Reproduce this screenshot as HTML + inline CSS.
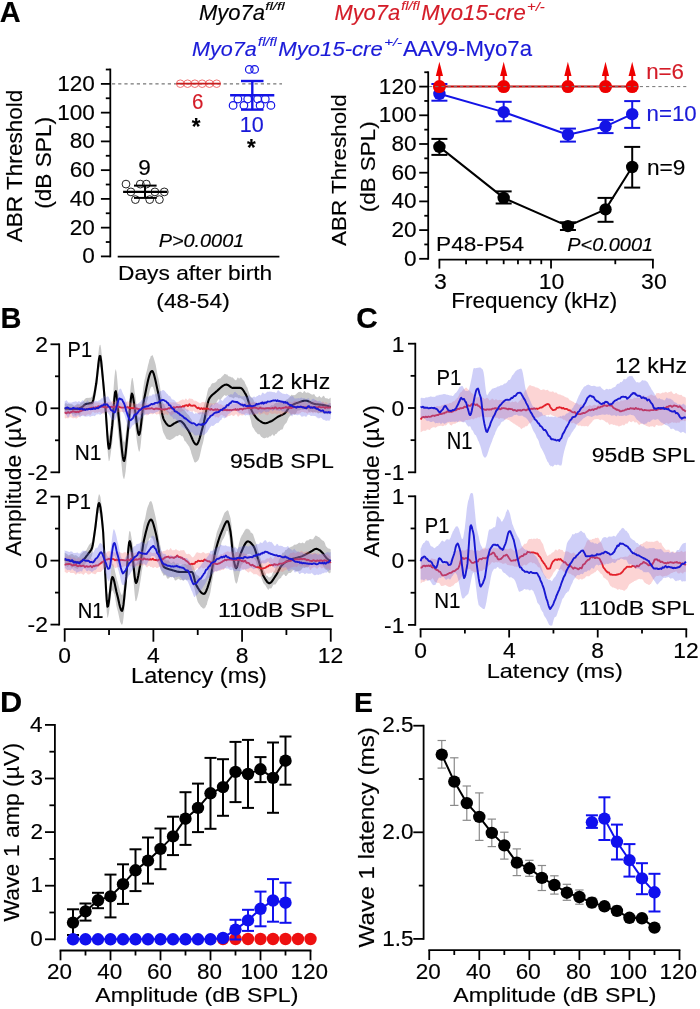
<!DOCTYPE html>
<html><head><meta charset="utf-8"><style>
html,body{margin:0;padding:0;background:#fff;}
svg{display:block;}
text{font-family:"Liberation Sans",Arial,sans-serif;stroke-width:0.15px;}
</style></head><body>
<svg width="700" height="1009" viewBox="0 0 700 1009">
<rect width="700" height="1009" fill="#fff"/>
<text transform="translate(-0.15,22) scale(1.0112,1)" font-size="28.634" fill="#000" stroke="#000" font-weight="bold" stroke-width="0.5">A</text>
<text transform="translate(199.04,20) scale(1.0085,1)" font-size="21.802" fill="#000" stroke="#000" font-style="italic">Myo7a</text>
<text transform="translate(265.18,10.3) scale(1.2985,1)" font-size="11.740" fill="#000" stroke="#000" font-style="italic">fl/fl</text>
<text transform="translate(334.44,19.7) scale(1.0106,1)" font-size="21.657" fill="#d41c28" stroke="#d41c28" font-style="italic">Myo7a</text>
<text transform="translate(401.21,10.3) scale(1.1133,1)" font-size="12.983" fill="#d41c28" stroke="#d41c28" font-style="italic">fl/fl</text>
<text transform="translate(421.34,20) scale(0.9879,1)" font-size="22.384" fill="#d41c28" stroke="#d41c28" font-style="italic">Myo15-cre</text>
<text transform="translate(527.05,11.38) scale(1.2071,1)" font-size="12.262" fill="#d41c28" stroke="#d41c28" font-style="italic">+/-</text>
<text transform="translate(191.95,56) scale(1.0605,1)" font-size="20.349" fill="#1a1ad8" stroke="#1a1ad8" font-style="italic">Myo7a</text>
<text transform="translate(258.11,46.3) scale(1.1957,1)" font-size="12.155" fill="#1a1ad8" stroke="#1a1ad8" font-style="italic">fl/fl</text>
<text transform="translate(278.34,56) scale(1.0867,1)" font-size="20.349" fill="#1a1ad8" stroke="#1a1ad8" font-style="italic">Myo15-cre</text>
<text transform="translate(384.14,45.78) scale(1.2787,1)" font-size="11.717" fill="#1a1ad8" stroke="#1a1ad8" font-style="italic">+/-</text>
<text transform="translate(403.06,56.4) scale(1.0321,1)" font-size="21.490" fill="#1a1ad8" stroke="#1a1ad8">AAV9-Myo7a</text>
<line x1="110.3" y1="68.62" x2="110.3" y2="257.3" stroke="#000" stroke-width="1.8"/>
<line x1="100.9" y1="256.4" x2="110.3" y2="256.4" stroke="#000" stroke-width="1.8"/>
<line x1="105.8" y1="242.02" x2="110.3" y2="242.02" stroke="#000" stroke-width="1.8"/>
<line x1="100.9" y1="227.65" x2="110.3" y2="227.65" stroke="#000" stroke-width="1.8"/>
<line x1="105.8" y1="213.27" x2="110.3" y2="213.27" stroke="#000" stroke-width="1.8"/>
<line x1="100.9" y1="198.9" x2="110.3" y2="198.9" stroke="#000" stroke-width="1.8"/>
<line x1="105.8" y1="184.52" x2="110.3" y2="184.52" stroke="#000" stroke-width="1.8"/>
<line x1="100.9" y1="170.15" x2="110.3" y2="170.15" stroke="#000" stroke-width="1.8"/>
<line x1="105.8" y1="155.77" x2="110.3" y2="155.77" stroke="#000" stroke-width="1.8"/>
<line x1="100.9" y1="141.4" x2="110.3" y2="141.4" stroke="#000" stroke-width="1.8"/>
<line x1="105.8" y1="127.02" x2="110.3" y2="127.02" stroke="#000" stroke-width="1.8"/>
<line x1="100.9" y1="112.65" x2="110.3" y2="112.65" stroke="#000" stroke-width="1.8"/>
<line x1="105.8" y1="98.27" x2="110.3" y2="98.27" stroke="#000" stroke-width="1.8"/>
<line x1="100.9" y1="83.9" x2="110.3" y2="83.9" stroke="#000" stroke-width="1.8"/>
<line x1="105.8" y1="69.52" x2="110.3" y2="69.52" stroke="#000" stroke-width="1.8"/>
<text transform="translate(82.29,263.3) scale(1.0000,1)" font-size="22.600" fill="#000" stroke="#000">0</text>
<text transform="translate(69.73,234.55) scale(1.0000,1)" font-size="22.600" fill="#000" stroke="#000">20</text>
<text transform="translate(69.73,205.8) scale(1.0000,1)" font-size="22.600" fill="#000" stroke="#000">40</text>
<text transform="translate(69.73,177.05) scale(1.0000,1)" font-size="22.600" fill="#000" stroke="#000">60</text>
<text transform="translate(69.73,148.3) scale(1.0000,1)" font-size="22.600" fill="#000" stroke="#000">80</text>
<text transform="translate(57.16,119.55) scale(1.0000,1)" font-size="22.600" fill="#000" stroke="#000">100</text>
<text transform="translate(57.16,90.8) scale(1.0000,1)" font-size="22.600" fill="#000" stroke="#000">120</text>
<line x1="117.7" y1="256.6" x2="279.4" y2="256.6" stroke="#000" stroke-width="1.8"/>
<line x1="112" y1="83.9" x2="282" y2="83.9" stroke="#555" stroke-width="1" stroke-dasharray="3.2 3"/>
<text transform="translate(22.3,242.25) rotate(-90) scale(1.0357,1)" font-size="21.802" fill="#000" stroke="#000">ABR Threshold</text>
<text transform="translate(50.6,208.8) rotate(-90) scale(1.0529,1)" font-size="21.512" fill="#000" stroke="#000">(dB SPL)</text>
<circle cx="126" cy="184.1" r="3.9" fill="none" stroke="#222" stroke-width="1.0"/>
<circle cx="140.3" cy="184.1" r="3.9" fill="none" stroke="#222" stroke-width="1.0"/>
<circle cx="146.3" cy="184.1" r="3.9" fill="none" stroke="#222" stroke-width="1.0"/>
<circle cx="130.9" cy="191.9" r="3.9" fill="none" stroke="#222" stroke-width="1.0"/>
<circle cx="154.9" cy="191.9" r="3.9" fill="none" stroke="#222" stroke-width="1.0"/>
<circle cx="164.3" cy="191.9" r="3.9" fill="none" stroke="#222" stroke-width="1.0"/>
<circle cx="135.4" cy="199.6" r="3.9" fill="none" stroke="#222" stroke-width="1.0"/>
<circle cx="149.7" cy="199.6" r="3.9" fill="none" stroke="#222" stroke-width="1.0"/>
<circle cx="159.4" cy="199.6" r="3.9" fill="none" stroke="#222" stroke-width="1.0"/>
<line x1="123.1" y1="191.9" x2="167.3" y2="191.9" stroke="#000" stroke-width="2.2"/>
<line x1="134" y1="185.6" x2="156.6" y2="185.6" stroke="#000" stroke-width="2"/>
<line x1="134" y1="197.9" x2="156.6" y2="197.9" stroke="#000" stroke-width="2"/>
<line x1="145" y1="185.6" x2="145" y2="197.9" stroke="#000" stroke-width="2"/>
<text transform="translate(138.36,174.59) scale(1.0485,1)" font-size="21.469" fill="#000" stroke="#000">9</text>
<circle cx="180.3" cy="83.7" r="3.8" fill="none" stroke="#f07070" stroke-width="1.0"/>
<circle cx="187.58" cy="83.7" r="3.8" fill="none" stroke="#f07070" stroke-width="1.0"/>
<circle cx="194.86" cy="83.7" r="3.8" fill="none" stroke="#f07070" stroke-width="1.0"/>
<circle cx="202.14" cy="83.7" r="3.8" fill="none" stroke="#f07070" stroke-width="1.0"/>
<circle cx="209.42" cy="83.7" r="3.8" fill="none" stroke="#f07070" stroke-width="1.0"/>
<circle cx="216.7" cy="83.7" r="3.8" fill="none" stroke="#f07070" stroke-width="1.0"/>
<line x1="176.4" y1="83.7" x2="220.6" y2="83.7" stroke="#c81e1e" stroke-width="1.8"/>
<text transform="translate(192.07,108.68) scale(0.9393,1)" font-size="21.893" fill="#d41c28" stroke="#d41c28">6</text>
<text transform="translate(191.71,135.08) scale(0.9467,1)" font-size="23.656" fill="#000" stroke="#000" font-weight="bold" stroke-width="0.5">*</text>
<circle cx="249.3" cy="69.4" r="3.8" fill="none" stroke="#1414e6" stroke-width="1.2"/>
<circle cx="254.6" cy="69.4" r="3.8" fill="none" stroke="#1414e6" stroke-width="1.2"/>
<circle cx="237.9" cy="99" r="3.8" fill="none" stroke="#1414e6" stroke-width="1.2"/>
<circle cx="247.7" cy="99" r="3.8" fill="none" stroke="#1414e6" stroke-width="1.2"/>
<circle cx="257.6" cy="99" r="3.8" fill="none" stroke="#1414e6" stroke-width="1.2"/>
<circle cx="265.3" cy="99" r="3.8" fill="none" stroke="#1414e6" stroke-width="1.2"/>
<circle cx="233.1" cy="105.4" r="3.8" fill="none" stroke="#1414e6" stroke-width="1.2"/>
<circle cx="243.9" cy="105.4" r="3.8" fill="none" stroke="#1414e6" stroke-width="1.2"/>
<circle cx="260.1" cy="105.4" r="3.8" fill="none" stroke="#1414e6" stroke-width="1.2"/>
<circle cx="270.9" cy="105.4" r="3.8" fill="none" stroke="#1414e6" stroke-width="1.2"/>
<line x1="230.1" y1="95.3" x2="274.3" y2="95.3" stroke="#1414e6" stroke-width="2.4"/>
<line x1="241" y1="81" x2="263.5" y2="81" stroke="#1414e6" stroke-width="2.4"/>
<line x1="241" y1="109.6" x2="263.5" y2="109.6" stroke="#1414e6" stroke-width="2.4"/>
<line x1="252.3" y1="81" x2="252.3" y2="109.6" stroke="#1414e6" stroke-width="2.4"/>
<text transform="translate(239.76,131.58) scale(0.9840,1)" font-size="21.893" fill="#1a1ad8" stroke="#1a1ad8">10</text>
<text transform="translate(247.01,155.98) scale(0.9467,1)" font-size="23.656" fill="#000" stroke="#000" font-weight="bold" stroke-width="0.5">*</text>
<text transform="translate(158.7,247) scale(1.1195,1)" font-size="17.733" fill="#000" stroke="#000" font-style="italic">P&gt;0.0001</text>
<text transform="translate(118.03,280) scale(1.0868,1)" font-size="20.930" fill="#000" stroke="#000">Days after birth</text>
<text transform="translate(156.29,308.2) scale(1.1128,1)" font-size="20.494" fill="#000" stroke="#000">(48-54)</text>
<line x1="428.2" y1="71.35" x2="428.2" y2="259.7" stroke="#000" stroke-width="1.8"/>
<line x1="419.2" y1="258.8" x2="428.2" y2="258.8" stroke="#000" stroke-width="1.8"/>
<line x1="424.3" y1="244.45" x2="428.2" y2="244.45" stroke="#000" stroke-width="1.8"/>
<line x1="419.2" y1="230.1" x2="428.2" y2="230.1" stroke="#000" stroke-width="1.8"/>
<line x1="424.3" y1="215.75" x2="428.2" y2="215.75" stroke="#000" stroke-width="1.8"/>
<line x1="419.2" y1="201.4" x2="428.2" y2="201.4" stroke="#000" stroke-width="1.8"/>
<line x1="424.3" y1="187.05" x2="428.2" y2="187.05" stroke="#000" stroke-width="1.8"/>
<line x1="419.2" y1="172.7" x2="428.2" y2="172.7" stroke="#000" stroke-width="1.8"/>
<line x1="424.3" y1="158.35" x2="428.2" y2="158.35" stroke="#000" stroke-width="1.8"/>
<line x1="419.2" y1="144" x2="428.2" y2="144" stroke="#000" stroke-width="1.8"/>
<line x1="424.3" y1="129.65" x2="428.2" y2="129.65" stroke="#000" stroke-width="1.8"/>
<line x1="419.2" y1="115.3" x2="428.2" y2="115.3" stroke="#000" stroke-width="1.8"/>
<line x1="424.3" y1="100.95" x2="428.2" y2="100.95" stroke="#000" stroke-width="1.8"/>
<line x1="419.2" y1="86.6" x2="428.2" y2="86.6" stroke="#000" stroke-width="1.8"/>
<line x1="424.3" y1="72.25" x2="428.2" y2="72.25" stroke="#000" stroke-width="1.8"/>
<text transform="translate(403.99,265.7) scale(1.0000,1)" font-size="22.600" fill="#000" stroke="#000">0</text>
<text transform="translate(391.43,237) scale(1.0000,1)" font-size="22.600" fill="#000" stroke="#000">20</text>
<text transform="translate(391.43,208.3) scale(1.0000,1)" font-size="22.600" fill="#000" stroke="#000">40</text>
<text transform="translate(391.43,179.6) scale(1.0000,1)" font-size="22.600" fill="#000" stroke="#000">60</text>
<text transform="translate(391.43,150.9) scale(1.0000,1)" font-size="22.600" fill="#000" stroke="#000">80</text>
<text transform="translate(378.86,122.2) scale(1.0000,1)" font-size="22.600" fill="#000" stroke="#000">100</text>
<text transform="translate(378.86,93.5) scale(1.0000,1)" font-size="22.600" fill="#000" stroke="#000">120</text>
<text transform="translate(346,246.04) rotate(-90) scale(1.0731,1)" font-size="20.930" fill="#000" stroke="#000">ABR Threshold</text>
<text transform="translate(374.6,212.29) rotate(-90) scale(1.0952,1)" font-size="20.494" fill="#000" stroke="#000">(dB SPL)</text>
<line x1="438.6" y1="259.7" x2="653.8" y2="259.7" stroke="#000" stroke-width="1.8"/>
<line x1="439.4" y1="259.7" x2="439.4" y2="268.6" stroke="#000" stroke-width="1.8"/>
<line x1="466.07" y1="259.7" x2="466.07" y2="264.2" stroke="#000" stroke-width="1.8"/>
<line x1="486.76" y1="259.7" x2="486.76" y2="264.2" stroke="#000" stroke-width="1.8"/>
<line x1="503.67" y1="259.7" x2="503.67" y2="264.2" stroke="#000" stroke-width="1.8"/>
<line x1="517.96" y1="259.7" x2="517.96" y2="264.2" stroke="#000" stroke-width="1.8"/>
<line x1="530.34" y1="259.7" x2="530.34" y2="264.2" stroke="#000" stroke-width="1.8"/>
<line x1="541.27" y1="259.7" x2="541.27" y2="264.2" stroke="#000" stroke-width="1.8"/>
<line x1="551.03" y1="259.7" x2="551.03" y2="268.6" stroke="#000" stroke-width="1.8"/>
<line x1="615.3" y1="259.7" x2="615.3" y2="264.2" stroke="#000" stroke-width="1.8"/>
<line x1="652.9" y1="259.7" x2="652.9" y2="268.6" stroke="#000" stroke-width="1.8"/>
<text transform="translate(434.05,288.7) scale(1.0400,1)" font-size="22.200" fill="#000" stroke="#000">3</text>
<text transform="translate(538.76,288.7) scale(1.0400,1)" font-size="22.200" fill="#000" stroke="#000">10</text>
<text transform="translate(641.06,288.7) scale(1.0400,1)" font-size="22.200" fill="#000" stroke="#000">30</text>
<text transform="translate(451.16,308.4) scale(1.0598,1)" font-size="21.221" fill="#000" stroke="#000">Frequency (kHz)</text>
<path d="M439.4,146.9 L503.7,197.9 L567.9,226.1 L605.5,209.4 L632.2,167.0" fill="none" stroke="#000" stroke-width="2" stroke-linejoin="round"/>
<line x1="439.4" y1="138.9" x2="439.4" y2="154.9" stroke="#000" stroke-width="2"/>
<line x1="431.4" y1="138.9" x2="447.4" y2="138.9" stroke="#000" stroke-width="2"/>
<line x1="431.4" y1="154.9" x2="447.4" y2="154.9" stroke="#000" stroke-width="2"/>
<circle cx="439.4" cy="146.9" r="6.2" fill="#000" stroke="none" stroke-width="1"/>
<line x1="503.67" y1="191.4" x2="503.67" y2="203.5" stroke="#000" stroke-width="2"/>
<line x1="495.67" y1="191.4" x2="511.67" y2="191.4" stroke="#000" stroke-width="2"/>
<line x1="495.67" y1="203.5" x2="511.67" y2="203.5" stroke="#000" stroke-width="2"/>
<circle cx="503.67" cy="197.9" r="6.2" fill="#000" stroke="none" stroke-width="1"/>
<line x1="567.94" y1="222.3" x2="567.94" y2="230" stroke="#000" stroke-width="2"/>
<line x1="559.94" y1="222.3" x2="575.94" y2="222.3" stroke="#000" stroke-width="2"/>
<line x1="559.94" y1="230" x2="575.94" y2="230" stroke="#000" stroke-width="2"/>
<circle cx="567.94" cy="226.1" r="6.2" fill="#000" stroke="none" stroke-width="1"/>
<line x1="605.54" y1="197.9" x2="605.54" y2="221.8" stroke="#000" stroke-width="2"/>
<line x1="597.54" y1="197.9" x2="613.54" y2="197.9" stroke="#000" stroke-width="2"/>
<line x1="597.54" y1="221.8" x2="613.54" y2="221.8" stroke="#000" stroke-width="2"/>
<circle cx="605.54" cy="209.4" r="6.2" fill="#000" stroke="none" stroke-width="1"/>
<line x1="632.21" y1="146.9" x2="632.21" y2="187.6" stroke="#000" stroke-width="2"/>
<line x1="624.21" y1="146.9" x2="640.21" y2="146.9" stroke="#000" stroke-width="2"/>
<line x1="624.21" y1="187.6" x2="640.21" y2="187.6" stroke="#000" stroke-width="2"/>
<circle cx="632.21" cy="167" r="6.2" fill="#000" stroke="none" stroke-width="1"/>
<path d="M439.4,93.8 L503.7,112.1 L567.9,134.7 L605.5,126.3 L632.2,114.2" fill="none" stroke="#1414e6" stroke-width="2" stroke-linejoin="round"/>
<line x1="439.4" y1="84" x2="439.4" y2="100.7" stroke="#1414e6" stroke-width="2"/>
<line x1="431.4" y1="84" x2="447.4" y2="84" stroke="#1414e6" stroke-width="2"/>
<line x1="431.4" y1="100.7" x2="447.4" y2="100.7" stroke="#1414e6" stroke-width="2"/>
<circle cx="439.4" cy="93.8" r="6.2" fill="#1414e6" stroke="none" stroke-width="1"/>
<line x1="503.67" y1="101.8" x2="503.67" y2="121.3" stroke="#1414e6" stroke-width="2"/>
<line x1="495.67" y1="101.8" x2="511.67" y2="101.8" stroke="#1414e6" stroke-width="2"/>
<line x1="495.67" y1="121.3" x2="511.67" y2="121.3" stroke="#1414e6" stroke-width="2"/>
<circle cx="503.67" cy="112.1" r="6.2" fill="#1414e6" stroke="none" stroke-width="1"/>
<line x1="567.94" y1="128.6" x2="567.94" y2="141.6" stroke="#1414e6" stroke-width="2"/>
<line x1="559.94" y1="128.6" x2="575.94" y2="128.6" stroke="#1414e6" stroke-width="2"/>
<line x1="559.94" y1="141.6" x2="575.94" y2="141.6" stroke="#1414e6" stroke-width="2"/>
<circle cx="567.94" cy="134.7" r="6.2" fill="#1414e6" stroke="none" stroke-width="1"/>
<line x1="605.54" y1="119.9" x2="605.54" y2="133.1" stroke="#1414e6" stroke-width="2"/>
<line x1="597.54" y1="119.9" x2="613.54" y2="119.9" stroke="#1414e6" stroke-width="2"/>
<line x1="597.54" y1="133.1" x2="613.54" y2="133.1" stroke="#1414e6" stroke-width="2"/>
<circle cx="605.54" cy="126.3" r="6.2" fill="#1414e6" stroke="none" stroke-width="1"/>
<line x1="632.21" y1="101.1" x2="632.21" y2="127.9" stroke="#1414e6" stroke-width="2"/>
<line x1="624.21" y1="101.1" x2="640.21" y2="101.1" stroke="#1414e6" stroke-width="2"/>
<line x1="624.21" y1="127.9" x2="640.21" y2="127.9" stroke="#1414e6" stroke-width="2"/>
<circle cx="632.21" cy="114.2" r="6.2" fill="#1414e6" stroke="none" stroke-width="1"/>
<line x1="439.4" y1="86.6" x2="632.21" y2="86.6" stroke="#c80000" stroke-width="2"/>
<circle cx="439.4" cy="86.6" r="6.5" fill="#ee0000" stroke="none" stroke-width="1"/>
<line x1="439.4" y1="80.6" x2="439.4" y2="74.5" stroke="#ee0000" stroke-width="2"/>
<path d="M439.4,61.7 L435.8,75.9 L443.0,75.9Z" fill="#ee0000" stroke="none"/>
<circle cx="503.67" cy="86.6" r="6.5" fill="#ee0000" stroke="none" stroke-width="1"/>
<line x1="503.67" y1="80.6" x2="503.67" y2="74.5" stroke="#ee0000" stroke-width="2"/>
<path d="M503.7,61.7 L500.1,75.9 L507.3,75.9Z" fill="#ee0000" stroke="none"/>
<circle cx="567.94" cy="86.6" r="6.5" fill="#ee0000" stroke="none" stroke-width="1"/>
<line x1="567.94" y1="80.6" x2="567.94" y2="74.5" stroke="#ee0000" stroke-width="2"/>
<path d="M567.9,61.7 L564.3,75.9 L571.5,75.9Z" fill="#ee0000" stroke="none"/>
<circle cx="605.54" cy="86.6" r="6.5" fill="#ee0000" stroke="none" stroke-width="1"/>
<line x1="605.54" y1="80.6" x2="605.54" y2="74.5" stroke="#ee0000" stroke-width="2"/>
<path d="M605.5,61.7 L601.9,75.9 L609.1,75.9Z" fill="#ee0000" stroke="none"/>
<circle cx="632.21" cy="86.6" r="6.5" fill="#ee0000" stroke="none" stroke-width="1"/>
<line x1="632.21" y1="80.6" x2="632.21" y2="74.5" stroke="#ee0000" stroke-width="2"/>
<path d="M632.2,61.7 L628.6,75.9 L635.8,75.9Z" fill="#ee0000" stroke="none"/>
<line x1="429" y1="86.6" x2="686.3" y2="86.6" stroke="#777" stroke-width="1" stroke-dasharray="3.2 3"/>
<text transform="translate(646.13,79.48) scale(0.9939,1)" font-size="22.458" fill="#d41c28" stroke="#d41c28">n=6</text>
<text transform="translate(646.53,120.79) scale(1.0504,1)" font-size="21.186" fill="#1a1ad8" stroke="#1a1ad8">n=10</text>
<text transform="translate(646.9,174.68) scale(1.0105,1)" font-size="22.458" fill="#000" stroke="#000">n=9</text>
<text transform="translate(436.04,251.3) scale(1.0902,1)" font-size="20.785" fill="#000" stroke="#000">P48-P54</text>
<text transform="translate(567.3,251.3) scale(1.1131,1)" font-size="17.878" fill="#000" stroke="#000" font-style="italic">P&lt;0.0001</text>
<text transform="translate(0.38,327.7) scale(0.9834,1)" font-size="29.506" fill="#000" stroke="#000" font-weight="bold" stroke-width="0.5">B</text>
<line x1="59.2" y1="343.4" x2="59.2" y2="473.2" stroke="#000" stroke-width="1.8"/>
<line x1="50.5" y1="472.3" x2="59.2" y2="472.3" stroke="#000" stroke-width="1.8"/>
<line x1="55" y1="440.3" x2="59.2" y2="440.3" stroke="#000" stroke-width="1.8"/>
<line x1="50.5" y1="408.3" x2="59.2" y2="408.3" stroke="#000" stroke-width="1.8"/>
<line x1="55" y1="376.3" x2="59.2" y2="376.3" stroke="#000" stroke-width="1.8"/>
<line x1="50.5" y1="344.3" x2="59.2" y2="344.3" stroke="#000" stroke-width="1.8"/>
<line x1="59.2" y1="495.7" x2="59.2" y2="625.5" stroke="#000" stroke-width="1.8"/>
<line x1="50.5" y1="624.6" x2="59.2" y2="624.6" stroke="#000" stroke-width="1.8"/>
<line x1="55" y1="592.6" x2="59.2" y2="592.6" stroke="#000" stroke-width="1.8"/>
<line x1="50.5" y1="560.6" x2="59.2" y2="560.6" stroke="#000" stroke-width="1.8"/>
<line x1="55" y1="528.6" x2="59.2" y2="528.6" stroke="#000" stroke-width="1.8"/>
<line x1="50.5" y1="496.6" x2="59.2" y2="496.6" stroke="#000" stroke-width="1.8"/>
<line x1="63.8" y1="629.1" x2="331.64" y2="629.1" stroke="#000" stroke-width="1.8"/>
<line x1="64.7" y1="629.1" x2="64.7" y2="641.7" stroke="#000" stroke-width="1.8"/>
<line x1="109.04" y1="629.1" x2="109.04" y2="635" stroke="#000" stroke-width="1.8"/>
<line x1="153.38" y1="629.1" x2="153.38" y2="641.7" stroke="#000" stroke-width="1.8"/>
<line x1="197.72" y1="629.1" x2="197.72" y2="635" stroke="#000" stroke-width="1.8"/>
<line x1="242.06" y1="629.1" x2="242.06" y2="641.7" stroke="#000" stroke-width="1.8"/>
<line x1="286.4" y1="629.1" x2="286.4" y2="635" stroke="#000" stroke-width="1.8"/>
<line x1="330.74" y1="629.1" x2="330.74" y2="641.7" stroke="#000" stroke-width="1.8"/>
<text transform="translate(35.24,352.1) scale(1.0200,1)" font-size="22.400" fill="#000" stroke="#000">2</text>
<text transform="translate(34.96,416.1) scale(1.0200,1)" font-size="22.400" fill="#000" stroke="#000">0</text>
<text transform="translate(27.61,480.1) scale(1.0200,1)" font-size="22.400" fill="#000" stroke="#000">-2</text>
<text transform="translate(35.24,504.4) scale(1.0200,1)" font-size="22.400" fill="#000" stroke="#000">2</text>
<text transform="translate(34.96,568.4) scale(1.0200,1)" font-size="22.400" fill="#000" stroke="#000">0</text>
<text transform="translate(27.61,632.4) scale(1.0200,1)" font-size="22.400" fill="#000" stroke="#000">-2</text>
<text transform="translate(58.35,663.14) scale(1.0200,1)" font-size="22.400" fill="#000" stroke="#000">0</text>
<text transform="translate(147.1,662.91) scale(1.0200,1)" font-size="22.400" fill="#000" stroke="#000">4</text>
<text transform="translate(235.71,663.14) scale(1.0200,1)" font-size="22.400" fill="#000" stroke="#000">8</text>
<text transform="translate(317.74,663.14) scale(1.0200,1)" font-size="22.400" fill="#000" stroke="#000">12</text>
<text transform="translate(131.07,682.6) scale(1.0775,1)" font-size="21.802" fill="#000" stroke="#000">Latency (ms)</text>
<text transform="translate(20.6,556.15) rotate(-90) scale(1.0592,1)" font-size="21.512" fill="#000" stroke="#000">Amplitude (µV)</text>
<path d="M64.7,403.9 L65.4,403.3 L66.1,403.2 L66.8,403.5 L67.5,403.9 L68.2,403.7 L68.9,403.4 L69.6,404.0 L70.3,404.2 L71.0,404.0 L71.7,404.2 L72.4,404.3 L73.1,405.4 L73.8,405.3 L74.5,405.9 L75.2,405.2 L75.9,405.1 L76.6,404.2 L77.3,404.0 L78.0,403.3 L78.7,404.2 L79.4,404.2 L80.1,403.8 L80.8,402.4 L81.5,402.4 L82.2,402.2 L82.9,402.1 L83.6,401.1 L84.3,399.8 L85.0,399.1 L85.7,398.3 L86.4,398.1 L87.1,397.9 L87.8,397.8 L88.5,397.9 L89.2,397.6 L89.9,397.9 L90.6,397.7 L91.3,396.9 L92.0,396.5 L92.7,394.8 L93.4,392.5 L94.1,388.3 L94.8,383.4 L95.5,378.5 L96.2,374.1 L96.9,368.9 L97.6,361.8 L98.3,354.2 L99.0,348.1 L99.7,344.9 L100.4,344.7 L101.1,348.5 L101.8,355.3 L102.5,362.9 L103.2,370.7 L103.9,377.9 L104.6,386.7 L105.3,395.1 L106.0,403.7 L106.7,413.0 L107.4,422.6 L108.1,431.3 L108.8,436.2 L109.5,435.3 L110.2,430.8 L110.9,423.8 L111.6,416.3 L112.3,407.4 L113.0,397.2 L113.7,386.5 L114.4,377.5 L115.1,371.2 L115.8,368.9 L116.5,372.3 L117.2,378.8 L117.9,387.3 L118.6,395.1 L119.3,401.8 L120.0,409.9 L120.7,417.9 L121.4,425.9 L122.1,432.3 L122.8,437.8 L123.5,441.3 L124.2,442.4 L124.9,440.5 L125.6,435.3 L126.3,429.3 L127.0,421.9 L127.7,416.2 L128.4,409.9 L129.1,403.1 L129.8,395.1 L130.5,387.7 L131.2,381.6 L131.9,378.1 L132.6,378.1 L133.3,381.6 L134.0,386.7 L134.7,392.3 L135.4,396.1 L136.1,401.2 L136.8,407.0 L137.5,412.1 L138.2,415.8 L138.9,417.9 L139.6,417.2 L140.3,413.8 L141.0,408.5 L141.7,402.1 L142.4,395.9 L143.1,389.0 L143.8,384.2 L144.5,380.3 L145.2,377.5 L145.9,374.1 L146.6,371.6 L147.3,368.5 L148.0,365.3 L148.7,362.7 L149.4,359.5 L150.1,358.5 L150.8,356.0 L151.5,355.9 L152.2,354.8 L152.9,355.9 L153.6,357.8 L154.3,360.0 L155.0,362.3 L155.7,364.8 L156.4,368.8 L157.1,372.7 L157.8,376.2 L158.5,378.7 L159.2,382.4 L159.9,385.9 L160.6,390.7 L161.3,394.7 L162.0,398.8 L162.7,401.2 L163.4,403.5 L164.1,404.3 L164.8,406.0 L165.5,407.4 L166.2,408.9 L166.9,410.1 L167.6,410.6 L168.3,411.2 L169.0,411.5 L169.7,412.2 L170.4,412.3 L171.1,411.3 L171.8,410.7 L172.5,410.3 L173.2,410.4 L173.9,409.1 L174.6,408.9 L175.3,408.8 L176.0,409.3 L176.7,409.1 L177.4,408.4 L178.1,407.8 L178.8,406.9 L179.5,407.3 L180.2,407.1 L180.9,407.5 L181.6,407.6 L182.3,408.7 L183.0,409.6 L183.7,409.7 L184.4,410.2 L185.1,410.5 L185.8,411.9 L186.5,412.7 L187.2,413.8 L187.9,414.4 L188.6,415.1 L189.3,416.0 L190.0,417.5 L190.7,418.3 L191.4,419.3 L192.1,420.6 L192.8,422.7 L193.5,424.7 L194.2,425.6 L194.9,425.8 L195.6,425.8 L196.3,426.1 L197.0,425.9 L197.7,424.6 L198.4,422.9 L199.1,421.6 L199.8,419.3 L200.5,417.9 L201.2,415.1 L201.9,413.3 L202.6,410.3 L203.3,407.9 L204.0,404.9 L204.7,402.8 L205.4,401.1 L206.1,398.1 L206.8,394.9 L207.5,391.4 L208.2,389.0 L208.9,387.4 L209.6,387.2 L210.3,386.6 L211.0,385.1 L211.7,383.7 L212.4,383.3 L213.1,383.1 L213.8,383.2 L214.5,382.8 L215.2,382.4 L215.9,382.0 L216.6,381.2 L217.3,380.3 L218.0,378.9 L218.7,378.9 L219.4,378.6 L220.1,378.6 L220.8,378.0 L221.5,377.1 L222.2,376.6 L222.9,375.6 L223.6,375.2 L224.3,373.8 L225.0,374.3 L225.7,373.9 L226.4,374.8 L227.1,374.3 L227.8,375.6 L228.5,376.2 L229.2,376.4 L229.9,376.4 L230.6,376.7 L231.3,377.5 L232.0,377.3 L232.7,377.6 L233.4,378.3 L234.1,379.1 L234.8,379.8 L235.5,380.3 L236.2,380.2 L236.9,378.9 L237.6,377.6 L238.3,377.8 L239.0,378.7 L239.7,378.3 L240.4,377.8 L241.1,377.5 L241.8,378.5 L242.5,379.3 L243.2,379.9 L243.9,380.7 L244.6,381.8 L245.3,383.7 L246.0,385.0 L246.7,386.8 L247.4,387.6 L248.1,390.2 L248.8,391.9 L249.5,394.2 L250.2,395.9 L250.9,396.7 L251.6,397.4 L252.3,398.0 L253.0,399.1 L253.7,400.3 L254.4,401.9 L255.1,402.7 L255.8,403.6 L256.5,403.1 L257.2,404.3 L257.9,404.9 L258.6,405.6 L259.3,405.2 L260.0,405.5 L260.7,405.9 L261.4,406.2 L262.1,407.0 L262.8,407.5 L263.5,409.1 L264.2,408.4 L264.9,407.9 L265.6,406.8 L266.3,407.0 L267.0,407.2 L267.7,407.3 L268.4,407.4 L269.1,407.2 L269.8,407.0 L270.5,406.0 L271.2,405.3 L271.9,405.1 L272.6,405.5 L273.3,405.5 L274.0,404.4 L274.7,403.4 L275.4,402.6 L276.1,402.9 L276.8,403.1 L277.5,402.8 L278.2,402.1 L278.9,401.6 L279.6,401.6 L280.3,402.0 L281.0,401.8 L281.7,402.4 L282.4,402.4 L283.1,402.8 L283.8,401.8 L284.5,401.8 L285.2,401.0 L285.9,400.2 L286.6,399.5 L287.3,399.2 L288.0,399.0 L288.7,398.1 L289.4,397.6 L290.1,396.8 L290.8,395.5 L291.5,394.8 L292.2,394.7 L292.9,395.6 L293.6,395.1 L294.3,395.2 L295.0,395.0 L295.7,394.4 L296.4,394.0 L297.1,393.0 L297.8,392.7 L298.5,392.0 L299.2,392.0 L299.9,391.7 L300.6,391.7 L301.3,391.9 L302.0,393.1 L302.7,392.9 L303.4,392.0 L304.1,391.0 L304.8,391.3 L305.5,392.3 L306.2,392.9 L306.9,392.6 L307.6,392.6 L308.3,392.6 L309.0,392.9 L309.7,393.3 L310.4,393.8 L311.1,394.2 L311.8,394.5 L312.5,394.7 L313.2,394.3 L313.9,394.3 L314.6,394.6 L315.3,396.2 L316.0,396.4 L316.7,397.3 L317.4,397.3 L318.1,397.2 L318.8,396.3 L319.5,395.8 L320.2,397.0 L320.9,397.5 L321.6,397.8 L322.3,397.0 L323.0,396.1 L323.7,395.8 L324.4,396.5 L325.1,398.1 L325.8,398.3 L326.5,398.3 L327.2,398.5 L327.9,398.6 L328.6,399.2 L329.3,398.4 L330.0,398.3 L330.7,397.6 L330.7,415.2 L330.0,414.5 L329.3,413.2 L328.6,413.8 L327.9,413.7 L327.2,414.4 L326.5,413.3 L325.8,414.0 L325.1,413.9 L324.4,414.1 L323.7,413.7 L323.0,413.5 L322.3,412.8 L321.6,412.7 L320.9,412.9 L320.2,413.2 L319.5,412.8 L318.8,413.5 L318.1,413.4 L317.4,412.9 L316.7,411.9 L316.0,411.8 L315.3,412.2 L314.6,412.0 L313.9,412.0 L313.2,411.8 L312.5,412.3 L311.8,411.7 L311.1,411.7 L310.4,411.3 L309.7,412.1 L309.0,412.2 L308.3,411.4 L307.6,409.7 L306.9,408.6 L306.2,408.3 L305.5,409.0 L304.8,409.2 L304.1,409.5 L303.4,409.8 L302.7,409.5 L302.0,409.9 L301.3,409.2 L300.6,410.1 L299.9,410.1 L299.2,410.7 L298.5,410.6 L297.8,410.4 L297.1,411.2 L296.4,412.7 L295.7,414.1 L295.0,414.6 L294.3,414.7 L293.6,413.7 L292.9,413.9 L292.2,413.6 L291.5,414.9 L290.8,415.3 L290.1,416.3 L289.4,416.6 L288.7,417.8 L288.0,419.0 L287.3,421.1 L286.6,422.4 L285.9,423.6 L285.2,423.7 L284.5,425.1 L283.8,425.9 L283.1,428.2 L282.4,429.4 L281.7,429.6 L281.0,429.8 L280.3,429.9 L279.6,431.1 L278.9,431.3 L278.2,431.6 L277.5,432.5 L276.8,433.5 L276.1,434.0 L275.4,434.1 L274.7,435.4 L274.0,435.8 L273.3,435.5 L272.6,434.3 L271.9,435.1 L271.2,435.7 L270.5,436.6 L269.8,436.3 L269.1,436.7 L268.4,437.6 L267.7,437.7 L267.0,437.8 L266.3,437.2 L265.6,437.9 L264.9,437.9 L264.2,438.4 L263.5,438.1 L262.8,438.0 L262.1,437.1 L261.4,436.9 L260.7,435.9 L260.0,435.0 L259.3,433.9 L258.6,434.2 L257.9,434.3 L257.2,433.5 L256.5,432.4 L255.8,431.9 L255.1,431.1 L254.4,429.8 L253.7,428.5 L253.0,427.8 L252.3,426.6 L251.6,423.9 L250.9,420.6 L250.2,418.1 L249.5,415.6 L248.8,413.4 L248.1,410.2 L247.4,408.2 L246.7,406.4 L246.0,404.9 L245.3,403.7 L244.6,401.9 L243.9,400.7 L243.2,400.0 L242.5,399.3 L241.8,399.3 L241.1,398.2 L240.4,398.3 L239.7,398.1 L239.0,398.7 L238.3,397.9 L237.6,397.4 L236.9,397.2 L236.2,397.4 L235.5,397.1 L234.8,397.3 L234.1,398.0 L233.4,398.6 L232.7,398.1 L232.0,397.2 L231.3,397.5 L230.6,397.1 L229.9,397.6 L229.2,396.5 L228.5,396.0 L227.8,395.0 L227.1,395.5 L226.4,395.8 L225.7,395.9 L225.0,395.1 L224.3,395.3 L223.6,395.9 L222.9,396.7 L222.2,397.4 L221.5,398.5 L220.8,399.3 L220.1,399.8 L219.4,399.8 L218.7,399.1 L218.0,400.0 L217.3,400.7 L216.6,402.3 L215.9,402.9 L215.2,403.9 L214.5,404.7 L213.8,404.3 L213.1,404.3 L212.4,404.9 L211.7,406.5 L211.0,407.0 L210.3,408.4 L209.6,409.6 L208.9,412.0 L208.2,413.6 L207.5,416.4 L206.8,420.0 L206.1,424.5 L205.4,429.3 L204.7,433.7 L204.0,438.0 L203.3,441.6 L202.6,444.2 L201.9,446.6 L201.2,449.8 L200.5,452.8 L199.8,456.0 L199.1,458.3 L198.4,460.0 L197.7,460.8 L197.0,461.4 L196.3,461.9 L195.6,462.6 L194.9,462.6 L194.2,461.7 L193.5,459.5 L192.8,457.7 L192.1,455.6 L191.4,453.4 L190.7,450.4 L190.0,449.0 L189.3,446.8 L188.6,445.9 L187.9,444.8 L187.2,444.0 L186.5,442.9 L185.8,441.6 L185.1,441.4 L184.4,440.4 L183.7,438.3 L183.0,436.9 L182.3,436.0 L181.6,436.2 L180.9,435.5 L180.2,434.9 L179.5,434.8 L178.8,435.2 L178.1,435.8 L177.4,436.2 L176.7,435.8 L176.0,436.4 L175.3,436.4 L174.6,437.4 L173.9,437.7 L173.2,438.6 L172.5,438.7 L171.8,439.2 L171.1,439.4 L170.4,440.1 L169.7,439.9 L169.0,439.9 L168.3,439.6 L167.6,439.5 L166.9,439.0 L166.2,438.4 L165.5,436.7 L164.8,435.5 L164.1,434.0 L163.4,432.8 L162.7,430.5 L162.0,427.1 L161.3,424.1 L160.6,420.3 L159.9,416.7 L159.2,412.9 L158.5,409.0 L157.8,406.0 L157.1,403.0 L156.4,400.3 L155.7,397.3 L155.0,394.6 L154.3,391.3 L153.6,389.1 L152.9,387.0 L152.2,386.5 L151.5,386.7 L150.8,387.5 L150.1,389.2 L149.4,392.0 L148.7,395.3 L148.0,398.2 L147.3,400.6 L146.6,403.0 L145.9,406.5 L145.2,410.1 L144.5,414.2 L143.8,417.6 L143.1,421.9 L142.4,427.7 L141.7,434.3 L141.0,441.8 L140.3,448.1 L139.6,451.4 L138.9,451.5 L138.2,449.0 L137.5,444.9 L136.8,440.4 L136.1,434.2 L135.4,429.3 L134.7,423.1 L134.0,419.0 L133.3,413.7 L132.6,410.6 L131.9,408.6 L131.2,411.7 L130.5,418.5 L129.8,426.3 L129.1,434.2 L128.4,441.3 L127.7,448.0 L127.0,456.3 L126.3,464.3 L125.6,471.6 L124.9,476.1 L124.2,478.9 L123.5,478.4 L122.8,476.1 L122.1,470.3 L121.4,463.6 L120.7,455.4 L120.0,449.3 L119.3,442.9 L118.6,437.6 L117.9,429.8 L117.2,422.3 L116.5,416.1 L115.8,412.6 L115.1,413.5 L114.4,418.1 L113.7,425.7 L113.0,434.8 L112.3,442.5 L111.6,447.4 L110.9,451.9 L110.2,457.1 L109.5,460.5 L108.8,461.2 L108.1,455.9 L107.4,448.3 L106.7,437.7 L106.0,427.6 L105.3,418.1 L104.6,409.4 L103.9,401.2 L103.2,393.8 L102.5,386.9 L101.8,378.6 L101.1,371.7 L100.4,367.2 L99.7,366.6 L99.0,370.2 L98.3,375.1 L97.6,382.1 L96.9,387.4 L96.2,392.5 L95.5,395.8 L94.8,399.3 L94.1,403.5 L93.4,406.5 L92.7,408.6 L92.0,408.6 L91.3,408.4 L90.6,408.6 L89.9,408.8 L89.2,408.9 L88.5,409.1 L87.8,409.1 L87.1,408.7 L86.4,409.1 L85.7,409.9 L85.0,410.2 L84.3,411.0 L83.6,411.1 L82.9,411.5 L82.2,411.6 L81.5,411.8 L80.8,413.4 L80.1,413.6 L79.4,415.1 L78.7,414.3 L78.0,414.4 L77.3,413.4 L76.6,414.5 L75.9,414.8 L75.2,415.5 L74.5,414.2 L73.8,414.1 L73.1,413.8 L72.4,414.2 L71.7,413.5 L71.0,413.2 L70.3,414.0 L69.6,414.3 L68.9,414.3 L68.2,413.9 L67.5,413.6 L66.8,412.7 L66.1,413.0 L65.4,413.2 L64.7,413.7Z" fill="rgb(200,200,200)" stroke="none"/>
<path d="M64.7,408.3 L65.4,408.4 L66.1,408.6 L66.8,408.6 L67.5,408.7 L68.2,408.8 L68.9,408.8 L69.6,408.9 L70.3,408.9 L71.0,408.9 L71.7,409.0 L72.4,409.0 L73.1,409.0 L73.8,409.0 L74.5,409.0 L75.2,409.0 L75.9,409.0 L76.6,409.0 L77.3,408.9 L78.0,408.7 L78.7,408.5 L79.4,408.2 L80.1,407.9 L80.8,407.6 L81.5,407.2 L82.2,406.9 L82.9,406.4 L83.6,405.8 L84.3,405.1 L85.0,404.5 L85.7,404.1 L86.4,403.9 L87.1,403.8 L87.8,403.7 L88.5,403.6 L89.2,403.5 L89.9,403.4 L90.6,403.3 L91.3,403.2 L92.0,403.0 L92.7,401.9 L93.4,399.5 L94.1,396.1 L94.8,392.1 L95.5,387.9 L96.2,383.8 L96.9,378.2 L97.6,371.4 L98.3,364.7 L99.0,359.1 L99.7,356.0 L100.4,356.3 L101.1,360.6 L101.8,367.3 L102.5,374.9 L103.2,382.0 L103.9,389.6 L104.6,398.0 L105.3,406.5 L106.0,415.1 L106.7,425.4 L107.4,435.8 L108.1,444.3 L108.8,448.7 L109.5,448.0 L110.2,444.0 L110.9,438.1 L111.6,431.5 L112.3,425.2 L113.0,416.7 L113.7,407.1 L114.4,398.4 L115.1,392.4 L115.8,391.2 L116.5,394.6 L117.2,400.9 L117.9,408.6 L118.6,416.3 L119.3,422.6 L120.0,429.6 L120.7,437.2 L121.4,444.7 L122.1,451.5 L122.8,456.9 L123.5,460.2 L124.2,460.9 L124.9,458.3 L125.6,453.3 L126.3,446.7 L127.0,439.6 L127.7,432.6 L128.4,426.3 L129.1,418.4 L129.8,410.0 L130.5,402.2 L131.2,396.3 L131.9,393.6 L132.6,394.7 L133.3,398.3 L134.0,403.2 L134.7,408.1 L135.4,412.6 L136.1,418.0 L136.8,423.8 L137.5,429.1 L138.2,433.1 L138.9,435.0 L139.6,433.9 L140.3,430.4 L141.0,425.0 L141.7,418.7 L142.4,412.1 L143.1,406.0 L143.8,401.1 L144.5,397.5 L145.2,394.0 L145.9,390.5 L146.6,387.0 L147.3,383.7 L148.0,380.6 L148.7,377.8 L149.4,375.4 L150.1,373.4 L150.8,372.0 L151.5,371.2 L152.2,371.0 L152.9,371.8 L153.6,373.4 L154.3,375.7 L155.0,378.5 L155.7,381.6 L156.4,384.9 L157.1,388.1 L157.8,391.2 L158.5,394.2 L159.2,397.7 L159.9,401.5 L160.6,405.5 L161.3,409.4 L162.0,413.0 L162.7,416.1 L163.4,418.6 L164.1,420.2 L164.8,421.3 L165.5,422.5 L166.2,423.5 L166.9,424.3 L167.6,425.0 L168.3,425.6 L169.0,425.9 L169.7,426.0 L170.4,425.9 L171.1,425.6 L171.8,425.2 L172.5,424.7 L173.2,424.1 L173.9,423.6 L174.6,423.2 L175.3,422.9 L176.0,422.5 L176.7,422.1 L177.4,421.8 L178.1,421.4 L178.8,421.2 L179.5,421.0 L180.2,421.0 L180.9,421.2 L181.6,421.6 L182.3,422.2 L183.0,422.9 L183.7,423.7 L184.4,424.7 L185.1,425.7 L185.8,426.8 L186.5,427.8 L187.2,428.9 L187.9,429.9 L188.6,430.9 L189.3,432.2 L190.0,433.7 L190.7,435.3 L191.4,436.9 L192.1,438.5 L192.8,440.1 L193.5,441.5 L194.2,442.7 L194.9,443.7 L195.6,444.3 L196.3,444.6 L197.0,444.3 L197.7,443.4 L198.4,441.9 L199.1,440.0 L199.8,437.8 L200.5,435.3 L201.2,432.6 L201.9,430.0 L202.6,427.4 L203.3,424.9 L204.0,421.9 L204.7,418.5 L205.4,414.8 L206.1,411.1 L206.8,407.5 L207.5,404.3 L208.2,401.5 L208.9,399.4 L209.6,398.1 L210.3,397.1 L211.0,396.2 L211.7,395.5 L212.4,394.8 L213.1,394.2 L213.8,393.6 L214.5,393.1 L215.2,392.5 L215.9,391.9 L216.6,391.3 L217.3,390.7 L218.0,390.0 L218.7,389.4 L219.4,388.7 L220.1,388.1 L220.8,387.4 L221.5,386.9 L222.2,386.3 L222.9,385.8 L223.6,385.4 L224.3,385.1 L225.0,384.8 L225.7,384.7 L226.4,384.6 L227.1,384.7 L227.8,385.0 L228.5,385.4 L229.2,385.9 L229.9,386.4 L230.6,387.0 L231.3,387.4 L232.0,387.7 L232.7,387.9 L233.4,387.9 L234.1,387.9 L234.8,387.9 L235.5,387.9 L236.2,387.9 L236.9,387.9 L237.6,387.9 L238.3,387.9 L239.0,387.9 L239.7,387.9 L240.4,387.9 L241.1,388.1 L241.8,388.6 L242.5,389.3 L243.2,390.2 L243.9,391.3 L244.6,392.5 L245.3,393.6 L246.0,394.8 L246.7,396.4 L247.4,398.2 L248.1,400.3 L248.8,402.4 L249.5,404.6 L250.2,406.8 L250.9,408.7 L251.6,410.4 L252.3,411.8 L253.0,413.0 L253.7,414.1 L254.4,415.2 L255.1,416.2 L255.8,417.1 L256.5,418.0 L257.2,418.8 L257.9,419.4 L258.6,420.0 L259.3,420.5 L260.0,421.0 L260.7,421.5 L261.4,421.9 L262.1,422.3 L262.8,422.7 L263.5,423.0 L264.2,423.1 L264.9,423.2 L265.6,423.2 L266.3,423.1 L267.0,422.9 L267.7,422.7 L268.4,422.4 L269.1,422.1 L269.8,421.8 L270.5,421.5 L271.2,421.2 L271.9,420.9 L272.6,420.5 L273.3,420.0 L274.0,419.5 L274.7,419.0 L275.4,418.5 L276.1,418.0 L276.8,417.5 L277.5,417.0 L278.2,416.6 L278.9,416.3 L279.6,416.0 L280.3,415.6 L281.0,415.3 L281.7,415.0 L282.4,414.7 L283.1,414.3 L283.8,413.9 L284.5,413.5 L285.2,412.8 L285.9,412.0 L286.6,411.1 L287.3,410.1 L288.0,409.1 L288.7,408.2 L289.4,407.3 L290.1,406.6 L290.8,406.0 L291.5,405.6 L292.2,405.1 L292.9,404.7 L293.6,404.4 L294.3,404.0 L295.0,403.7 L295.7,403.4 L296.4,403.1 L297.1,402.9 L297.8,402.7 L298.5,402.4 L299.2,402.2 L299.9,401.9 L300.6,401.7 L301.3,401.5 L302.0,401.3 L302.7,401.1 L303.4,400.9 L304.1,400.8 L304.8,400.7 L305.5,400.7 L306.2,400.7 L306.9,400.8 L307.6,401.0 L308.3,401.3 L309.0,401.6 L309.7,401.9 L310.4,402.3 L311.1,402.7 L311.8,403.0 L312.5,403.3 L313.2,403.6 L313.9,403.8 L314.6,404.0 L315.3,404.1 L316.0,404.2 L316.7,404.3 L317.4,404.3 L318.1,404.4 L318.8,404.5 L319.5,404.6 L320.2,404.6 L320.9,404.7 L321.6,404.8 L322.3,404.9 L323.0,405.0 L323.7,405.1 L324.4,405.3 L325.1,405.4 L325.8,405.6 L326.5,405.7 L327.2,405.9 L327.9,406.1 L328.6,406.3 L329.3,406.5 L330.0,406.7 L330.7,406.9" fill="none" stroke="#000" stroke-width="2.1" stroke-linejoin="round"/>
<path d="M64.7,408.0 L65.4,407.6 L66.1,406.8 L66.8,405.9 L67.5,406.1 L68.2,406.8 L68.9,407.6 L69.6,407.9 L70.3,407.7 L71.0,407.1 L71.7,407.0 L72.4,407.2 L73.1,407.0 L73.8,406.7 L74.5,405.7 L75.2,405.9 L75.9,405.5 L76.6,405.5 L77.3,405.0 L78.0,405.0 L78.7,404.8 L79.4,405.0 L80.1,405.7 L80.8,405.8 L81.5,406.0 L82.2,405.2 L82.9,405.5 L83.6,404.6 L84.3,404.5 L85.0,404.3 L85.7,405.4 L86.4,405.4 L87.1,404.8 L87.8,404.2 L88.5,403.9 L89.2,403.9 L89.9,403.3 L90.6,403.4 L91.3,403.0 L92.0,402.7 L92.7,401.2 L93.4,401.5 L94.1,401.9 L94.8,403.1 L95.5,402.3 L96.2,402.5 L96.9,402.3 L97.6,402.5 L98.3,402.4 L99.0,402.6 L99.7,402.7 L100.4,403.2 L101.1,403.4 L101.8,403.4 L102.5,402.5 L103.2,402.0 L103.9,402.5 L104.6,402.8 L105.3,402.4 L106.0,401.5 L106.7,401.3 L107.4,402.0 L108.1,402.0 L108.8,402.2 L109.5,402.3 L110.2,402.9 L110.9,402.1 L111.6,401.5 L112.3,400.8 L113.0,401.5 L113.7,401.2 L114.4,402.0 L115.1,401.8 L115.8,401.2 L116.5,400.7 L117.2,400.8 L117.9,401.9 L118.6,402.0 L119.3,401.4 L120.0,401.5 L120.7,402.4 L121.4,403.0 L122.1,402.8 L122.8,402.1 L123.5,401.5 L124.2,401.5 L124.9,401.3 L125.6,402.3 L126.3,402.2 L127.0,401.8 L127.7,401.1 L128.4,401.5 L129.1,402.4 L129.8,402.1 L130.5,402.6 L131.2,402.9 L131.9,403.5 L132.6,402.9 L133.3,403.2 L134.0,403.3 L134.7,403.8 L135.4,403.7 L136.1,403.9 L136.8,404.3 L137.5,404.4 L138.2,404.1 L138.9,404.0 L139.6,404.1 L140.3,404.2 L141.0,404.3 L141.7,404.1 L142.4,404.8 L143.1,403.9 L143.8,403.0 L144.5,401.8 L145.2,402.4 L145.9,403.0 L146.6,403.7 L147.3,403.6 L148.0,403.3 L148.7,403.9 L149.4,403.5 L150.1,404.1 L150.8,403.0 L151.5,403.4 L152.2,403.6 L152.9,404.1 L153.6,403.8 L154.3,403.6 L155.0,403.5 L155.7,404.0 L156.4,404.8 L157.1,404.6 L157.8,404.1 L158.5,403.2 L159.2,403.5 L159.9,403.4 L160.6,403.6 L161.3,403.9 L162.0,404.4 L162.7,403.7 L163.4,403.9 L164.1,403.3 L164.8,404.0 L165.5,403.8 L166.2,403.7 L166.9,403.4 L167.6,403.4 L168.3,403.9 L169.0,403.4 L169.7,402.3 L170.4,402.3 L171.1,402.4 L171.8,402.4 L172.5,402.4 L173.2,402.3 L173.9,402.5 L174.6,402.4 L175.3,402.6 L176.0,402.4 L176.7,402.1 L177.4,402.0 L178.1,402.1 L178.8,401.5 L179.5,401.1 L180.2,400.4 L180.9,400.3 L181.6,399.9 L182.3,399.2 L183.0,399.8 L183.7,399.5 L184.4,400.4 L185.1,399.1 L185.8,398.5 L186.5,399.0 L187.2,400.0 L187.9,400.2 L188.6,399.0 L189.3,398.3 L190.0,398.5 L190.7,398.7 L191.4,398.8 L192.1,399.0 L192.8,398.9 L193.5,400.4 L194.2,400.3 L194.9,401.5 L195.6,400.5 L196.3,401.1 L197.0,401.4 L197.7,401.9 L198.4,402.4 L199.1,402.6 L199.8,403.5 L200.5,403.3 L201.2,402.8 L201.9,401.9 L202.6,402.0 L203.3,401.8 L204.0,402.3 L204.7,402.3 L205.4,402.6 L206.1,402.2 L206.8,402.4 L207.5,402.8 L208.2,403.3 L208.9,403.2 L209.6,403.5 L210.3,403.1 L211.0,403.4 L211.7,402.9 L212.4,403.7 L213.1,403.5 L213.8,403.6 L214.5,403.6 L215.2,403.0 L215.9,403.1 L216.6,402.3 L217.3,402.8 L218.0,403.3 L218.7,404.3 L219.4,404.5 L220.1,404.3 L220.8,404.2 L221.5,404.5 L222.2,405.2 L222.9,405.3 L223.6,406.1 L224.3,405.2 L225.0,405.4 L225.7,404.7 L226.4,404.9 L227.1,404.5 L227.8,404.7 L228.5,405.2 L229.2,405.7 L229.9,405.9 L230.6,405.5 L231.3,404.4 L232.0,403.9 L232.7,403.2 L233.4,404.3 L234.1,403.7 L234.8,404.0 L235.5,403.4 L236.2,403.2 L236.9,402.3 L237.6,402.2 L238.3,402.3 L239.0,403.3 L239.7,403.1 L240.4,403.2 L241.1,402.5 L241.8,402.7 L242.5,401.8 L243.2,402.9 L243.9,403.0 L244.6,403.3 L245.3,402.6 L246.0,402.7 L246.7,403.1 L247.4,403.5 L248.1,403.1 L248.8,401.9 L249.5,400.9 L250.2,401.3 L250.9,402.6 L251.6,403.2 L252.3,402.3 L253.0,402.3 L253.7,402.4 L254.4,402.4 L255.1,401.7 L255.8,401.5 L256.5,402.3 L257.2,403.2 L257.9,403.4 L258.6,403.8 L259.3,402.9 L260.0,402.8 L260.7,401.8 L261.4,401.3 L262.1,400.6 L262.8,401.2 L263.5,401.6 L264.2,401.7 L264.9,401.5 L265.6,402.2 L266.3,402.7 L267.0,403.1 L267.7,402.1 L268.4,403.0 L269.1,402.8 L269.8,403.5 L270.5,402.7 L271.2,402.2 L271.9,402.0 L272.6,402.0 L273.3,401.6 L274.0,402.5 L274.7,402.5 L275.4,403.2 L276.1,402.3 L276.8,402.2 L277.5,402.3 L278.2,402.6 L278.9,402.4 L279.6,401.9 L280.3,401.9 L281.0,401.4 L281.7,400.6 L282.4,400.9 L283.1,401.6 L283.8,401.5 L284.5,400.6 L285.2,400.6 L285.9,401.6 L286.6,402.1 L287.3,402.3 L288.0,402.4 L288.7,401.8 L289.4,401.8 L290.1,401.8 L290.8,402.5 L291.5,402.3 L292.2,402.5 L292.9,402.0 L293.6,401.5 L294.3,401.0 L295.0,400.7 L295.7,400.9 L296.4,401.0 L297.1,401.3 L297.8,401.5 L298.5,401.2 L299.2,401.6 L299.9,401.0 L300.6,401.3 L301.3,401.2 L302.0,401.9 L302.7,402.2 L303.4,401.8 L304.1,402.0 L304.8,401.2 L305.5,401.6 L306.2,402.3 L306.9,403.0 L307.6,403.6 L308.3,402.7 L309.0,402.0 L309.7,401.0 L310.4,401.5 L311.1,402.2 L311.8,401.8 L312.5,401.2 L313.2,400.9 L313.9,401.2 L314.6,400.4 L315.3,399.9 L316.0,400.3 L316.7,401.2 L317.4,401.5 L318.1,401.8 L318.8,402.4 L319.5,402.7 L320.2,402.9 L320.9,402.5 L321.6,402.6 L322.3,401.3 L323.0,401.7 L323.7,401.8 L324.4,402.9 L325.1,402.4 L325.8,402.0 L326.5,402.2 L327.2,402.7 L327.9,403.9 L328.6,404.1 L329.3,403.6 L330.0,403.0 L330.7,403.1 L330.7,412.7 L330.0,412.7 L329.3,412.9 L328.6,412.9 L327.9,412.2 L327.2,411.3 L326.5,411.7 L325.8,411.9 L325.1,412.4 L324.4,412.8 L323.7,412.1 L323.0,413.3 L322.3,412.7 L321.6,413.1 L320.9,412.3 L320.2,412.4 L319.5,412.9 L318.8,413.1 L318.1,412.7 L317.4,412.7 L316.7,412.6 L316.0,413.2 L315.3,413.0 L314.6,412.3 L313.9,413.3 L313.2,413.2 L312.5,413.3 L311.8,412.3 L311.1,412.2 L310.4,412.9 L309.7,412.5 L309.0,412.6 L308.3,413.1 L307.6,414.1 L306.9,413.2 L306.2,412.9 L305.5,412.2 L304.8,412.7 L304.1,412.3 L303.4,412.0 L302.7,411.7 L302.0,412.1 L301.3,412.1 L300.6,413.0 L299.9,413.2 L299.2,413.6 L298.5,413.8 L297.8,414.0 L297.1,413.4 L296.4,413.8 L295.7,413.7 L295.0,414.1 L294.3,413.7 L293.6,413.8 L292.9,414.7 L292.2,414.3 L291.5,414.7 L290.8,413.6 L290.1,413.4 L289.4,412.6 L288.7,413.4 L288.0,413.4 L287.3,413.5 L286.6,412.8 L285.9,412.7 L285.2,412.6 L284.5,412.9 L283.8,413.3 L283.1,414.1 L282.4,415.2 L281.7,415.7 L281.0,415.3 L280.3,414.4 L279.6,413.6 L278.9,413.4 L278.2,413.6 L277.5,414.2 L276.8,414.3 L276.1,413.8 L275.4,413.4 L274.7,413.2 L274.0,413.4 L273.3,413.7 L272.6,413.8 L271.9,414.3 L271.2,413.6 L270.5,413.2 L269.8,412.8 L269.1,413.0 L268.4,414.7 L267.7,414.7 L267.0,415.4 L266.3,414.6 L265.6,414.7 L264.9,414.0 L264.2,413.3 L263.5,413.2 L262.8,413.4 L262.1,414.0 L261.4,413.6 L260.7,414.3 L260.0,415.3 L259.3,414.6 L258.6,413.7 L257.9,413.2 L257.2,413.8 L256.5,414.6 L255.8,413.9 L255.1,414.9 L254.4,415.0 L253.7,415.5 L253.0,414.8 L252.3,413.8 L251.6,413.0 L250.9,413.6 L250.2,414.0 L249.5,414.2 L248.8,414.0 L248.1,413.5 L247.4,413.7 L246.7,413.1 L246.0,413.6 L245.3,413.6 L244.6,414.5 L243.9,414.9 L243.2,415.3 L242.5,415.4 L241.8,415.2 L241.1,415.4 L240.4,414.8 L239.7,415.2 L239.0,415.9 L238.3,416.8 L237.6,416.2 L236.9,414.9 L236.2,414.0 L235.5,414.6 L234.8,414.9 L234.1,416.0 L233.4,416.0 L232.7,415.8 L232.0,415.1 L231.3,414.7 L230.6,415.6 L229.9,415.7 L229.2,415.9 L228.5,416.1 L227.8,416.3 L227.1,417.2 L226.4,417.5 L225.7,417.5 L225.0,417.0 L224.3,415.8 L223.6,416.0 L222.9,415.4 L222.2,414.9 L221.5,414.8 L220.8,414.9 L220.1,415.8 L219.4,416.4 L218.7,417.5 L218.0,418.0 L217.3,416.9 L216.6,416.9 L215.9,416.5 L215.2,417.9 L214.5,416.1 L213.8,415.4 L213.1,414.5 L212.4,414.9 L211.7,415.2 L211.0,415.2 L210.3,416.1 L209.6,416.4 L208.9,415.5 L208.2,416.0 L207.5,414.7 L206.8,415.7 L206.1,414.9 L205.4,415.6 L204.7,414.1 L204.0,413.5 L203.3,413.7 L202.6,414.3 L201.9,413.8 L201.2,413.8 L200.5,414.0 L199.8,414.4 L199.1,414.2 L198.4,414.0 L197.7,413.6 L197.0,412.5 L196.3,412.2 L195.6,412.4 L194.9,412.1 L194.2,411.2 L193.5,410.6 L192.8,411.6 L192.1,411.7 L191.4,411.5 L190.7,411.1 L190.0,410.9 L189.3,410.4 L188.6,410.9 L187.9,411.4 L187.2,412.2 L186.5,410.9 L185.8,410.3 L185.1,409.7 L184.4,410.3 L183.7,410.5 L183.0,410.9 L182.3,410.9 L181.6,411.6 L180.9,411.7 L180.2,411.8 L179.5,412.0 L178.8,412.8 L178.1,413.5 L177.4,413.6 L176.7,413.4 L176.0,412.6 L175.3,413.1 L174.6,412.9 L173.9,413.7 L173.2,413.7 L172.5,414.5 L171.8,415.4 L171.1,415.3 L170.4,414.4 L169.7,413.3 L169.0,413.1 L168.3,414.5 L167.6,415.2 L166.9,414.7 L166.2,414.1 L165.5,413.7 L164.8,414.9 L164.1,414.9 L163.4,414.5 L162.7,412.9 L162.0,412.9 L161.3,413.4 L160.6,414.2 L159.9,414.6 L159.2,413.7 L158.5,414.2 L157.8,413.7 L157.1,414.7 L156.4,414.4 L155.7,414.1 L155.0,413.8 L154.3,413.1 L153.6,414.1 L152.9,414.0 L152.2,414.4 L151.5,413.8 L150.8,413.9 L150.1,414.0 L149.4,413.9 L148.7,414.3 L148.0,415.0 L147.3,415.3 L146.6,415.4 L145.9,414.4 L145.2,414.8 L144.5,413.7 L143.8,413.6 L143.1,412.4 L142.4,413.0 L141.7,414.1 L141.0,415.1 L140.3,415.2 L139.6,415.2 L138.9,414.9 L138.2,415.0 L137.5,414.1 L136.8,413.6 L136.1,413.5 L135.4,414.1 L134.7,414.7 L134.0,414.7 L133.3,414.1 L132.6,413.6 L131.9,413.8 L131.2,413.4 L130.5,414.5 L129.8,413.8 L129.1,414.1 L128.4,412.6 L127.7,412.9 L127.0,412.7 L126.3,412.5 L125.6,411.9 L124.9,412.1 L124.2,412.1 L123.5,412.4 L122.8,412.1 L122.1,411.9 L121.4,411.5 L120.7,412.2 L120.0,412.2 L119.3,412.2 L118.6,411.9 L117.9,412.4 L117.2,412.2 L116.5,411.6 L115.8,411.2 L115.1,410.7 L114.4,411.0 L113.7,411.7 L113.0,413.0 L112.3,413.0 L111.6,412.8 L110.9,413.1 L110.2,412.6 L109.5,412.2 L108.8,412.0 L108.1,412.2 L107.4,412.5 L106.7,412.1 L106.0,411.6 L105.3,411.8 L104.6,412.4 L103.9,413.5 L103.2,413.7 L102.5,413.6 L101.8,413.4 L101.1,413.1 L100.4,412.5 L99.7,412.0 L99.0,411.7 L98.3,412.4 L97.6,413.0 L96.9,412.6 L96.2,412.3 L95.5,412.7 L94.8,413.0 L94.1,412.4 L93.4,411.7 L92.7,411.8 L92.0,412.5 L91.3,413.7 L90.6,414.8 L89.9,414.9 L89.2,414.5 L88.5,414.2 L87.8,414.4 L87.1,414.4 L86.4,415.3 L85.7,415.9 L85.0,416.2 L84.3,415.6 L83.6,414.7 L82.9,414.8 L82.2,415.1 L81.5,416.0 L80.8,415.8 L80.1,416.4 L79.4,416.4 L78.7,417.0 L78.0,417.3 L77.3,418.0 L76.6,418.6 L75.9,418.6 L75.2,418.0 L74.5,418.0 L73.8,418.0 L73.1,418.4 L72.4,418.0 L71.7,417.5 L71.0,417.4 L70.3,417.0 L69.6,417.4 L68.9,417.6 L68.2,418.4 L67.5,418.2 L66.8,418.1 L66.1,418.3 L65.4,418.6 L64.7,418.0Z" fill="rgba(245,120,120,0.32)" stroke="none"/>
<path d="M64.7,412.9 L65.4,412.7 L66.1,413.2 L66.8,413.3 L67.5,412.3 L68.2,412.1 L68.9,412.6 L69.6,412.8 L70.3,412.5 L71.0,412.0 L71.7,412.0 L72.4,411.6 L73.1,411.1 L73.8,411.7 L74.5,411.9 L75.2,411.7 L75.9,412.1 L76.6,412.1 L77.3,411.6 L78.0,412.0 L78.7,412.1 L79.4,411.2 L80.1,411.1 L80.8,411.2 L81.5,410.6 L82.2,410.4 L82.9,410.4 L83.6,409.6 L84.3,409.5 L85.0,409.8 L85.7,409.5 L86.4,408.9 L87.1,408.8 L87.8,409.1 L88.5,409.0 L89.2,408.5 L89.9,408.5 L90.6,408.3 L91.3,407.8 L92.0,408.4 L92.7,408.1 L93.4,407.4 L94.1,407.8 L94.8,407.7 L95.5,407.2 L96.2,407.3 L96.9,407.6 L97.6,406.8 L98.3,406.1 L99.0,406.5 L99.7,406.4 L100.4,406.4 L101.1,406.5 L101.8,406.8 L102.5,406.8 L103.2,406.8 L103.9,407.2 L104.6,406.9 L105.3,406.8 L106.0,407.5 L106.7,407.6 L107.4,406.9 L108.1,406.8 L108.8,406.7 L109.5,406.8 L110.2,407.3 L110.9,407.0 L111.6,406.7 L112.3,407.3 L113.0,407.2 L113.7,406.9 L114.4,406.7 L115.1,406.4 L115.8,406.6 L116.5,407.5 L117.2,407.5 L117.9,406.7 L118.6,406.7 L119.3,406.8 L120.0,407.1 L120.7,407.3 L121.4,407.7 L122.1,407.7 L122.8,407.6 L123.5,407.7 L124.2,407.5 L124.9,407.0 L125.6,406.9 L126.3,407.4 L127.0,407.5 L127.7,406.9 L128.4,407.4 L129.1,408.0 L129.8,407.7 L130.5,407.9 L131.2,408.0 L131.9,408.3 L132.6,408.1 L133.3,407.8 L134.0,408.4 L134.7,408.8 L135.4,408.7 L136.1,408.5 L136.8,408.4 L137.5,408.6 L138.2,409.3 L138.9,409.0 L139.6,409.1 L140.3,409.7 L141.0,409.1 L141.7,409.1 L142.4,408.8 L143.1,408.0 L143.8,408.1 L144.5,408.5 L145.2,408.8 L145.9,408.7 L146.6,408.9 L147.3,408.4 L148.0,408.5 L148.7,408.7 L149.4,408.4 L150.1,408.7 L150.8,408.5 L151.5,408.2 L152.2,408.3 L152.9,408.7 L153.6,409.2 L154.3,409.3 L155.0,408.9 L155.7,408.5 L156.4,408.5 L157.1,408.9 L157.8,408.5 L158.5,408.8 L159.2,409.2 L159.9,408.6 L160.6,408.9 L161.3,409.4 L162.0,409.4 L162.7,409.4 L163.4,409.3 L164.1,409.3 L164.8,409.6 L165.5,409.1 L166.2,409.1 L166.9,409.1 L167.6,408.7 L168.3,408.3 L169.0,408.1 L169.7,408.5 L170.4,408.1 L171.1,408.0 L171.8,408.4 L172.5,408.2 L173.2,407.4 L173.9,407.2 L174.6,407.9 L175.3,407.6 L176.0,407.4 L176.7,406.8 L177.4,406.9 L178.1,407.3 L178.8,407.2 L179.5,406.8 L180.2,406.6 L180.9,407.0 L181.6,406.9 L182.3,406.5 L183.0,405.9 L183.7,406.7 L184.4,406.4 L185.1,405.3 L185.8,405.3 L186.5,405.1 L187.2,405.4 L187.9,406.1 L188.6,405.4 L189.3,404.3 L190.0,404.8 L190.7,405.7 L191.4,405.7 L192.1,405.9 L192.8,405.6 L193.5,405.5 L194.2,405.6 L194.9,405.5 L195.6,406.5 L196.3,407.1 L197.0,407.8 L197.7,408.3 L198.4,407.6 L199.1,408.1 L199.8,408.9 L200.5,409.0 L201.2,408.1 L201.9,408.2 L202.6,409.1 L203.3,408.9 L204.0,408.3 L204.7,408.8 L205.4,409.1 L206.1,408.6 L206.8,408.5 L207.5,408.6 L208.2,408.9 L208.9,409.2 L209.6,409.5 L210.3,409.8 L211.0,409.0 L211.7,409.0 L212.4,409.8 L213.1,409.9 L213.8,410.0 L214.5,409.8 L215.2,409.3 L215.9,409.9 L216.6,409.9 L217.3,409.1 L218.0,409.8 L218.7,410.3 L219.4,410.0 L220.1,409.8 L220.8,409.6 L221.5,409.7 L222.2,409.9 L222.9,410.4 L223.6,409.8 L224.3,409.9 L225.0,410.2 L225.7,409.6 L226.4,410.1 L227.1,410.4 L227.8,409.7 L228.5,410.2 L229.2,410.3 L229.9,409.8 L230.6,410.0 L231.3,410.3 L232.0,410.0 L232.7,409.8 L233.4,409.7 L234.1,409.6 L234.8,409.6 L235.5,409.0 L236.2,409.8 L236.9,409.9 L237.6,409.3 L238.3,409.8 L239.0,409.8 L239.7,408.9 L240.4,409.0 L241.1,408.8 L241.8,408.9 L242.5,409.5 L243.2,409.0 L243.9,408.4 L244.6,408.6 L245.3,408.7 L246.0,408.3 L246.7,408.4 L247.4,408.1 L248.1,407.7 L248.8,408.2 L249.5,408.2 L250.2,408.3 L250.9,408.0 L251.6,408.1 L252.3,408.3 L253.0,407.9 L253.7,407.5 L254.4,407.4 L255.1,407.8 L255.8,407.9 L256.5,407.8 L257.2,408.4 L257.9,408.6 L258.6,408.8 L259.3,408.4 L260.0,407.6 L260.7,408.0 L261.4,408.4 L262.1,408.4 L262.8,408.3 L263.5,408.4 L264.2,408.6 L264.9,408.5 L265.6,408.4 L266.3,408.3 L267.0,408.2 L267.7,408.1 L268.4,408.4 L269.1,408.1 L269.8,408.4 L270.5,408.5 L271.2,408.3 L271.9,408.3 L272.6,407.9 L273.3,408.5 L274.0,408.5 L274.7,407.5 L275.4,407.4 L276.1,407.7 L276.8,408.6 L277.5,408.7 L278.2,408.3 L278.9,408.0 L279.6,407.8 L280.3,408.3 L281.0,408.7 L281.7,408.3 L282.4,407.9 L283.1,408.2 L283.8,407.7 L284.5,407.6 L285.2,407.7 L285.9,407.0 L286.6,407.2 L287.3,408.0 L288.0,407.7 L288.7,407.1 L289.4,407.6 L290.1,408.0 L290.8,407.8 L291.5,408.1 L292.2,407.6 L292.9,407.4 L293.6,407.4 L294.3,407.1 L295.0,407.1 L295.7,407.1 L296.4,407.4 L297.1,407.4 L297.8,407.0 L298.5,406.9 L299.2,407.0 L299.9,406.8 L300.6,406.6 L301.3,406.8 L302.0,406.8 L302.7,406.8 L303.4,406.8 L304.1,407.4 L304.8,408.0 L305.5,407.6 L306.2,407.1 L306.9,407.7 L307.6,407.8 L308.3,407.1 L309.0,407.1 L309.7,407.2 L310.4,407.6 L311.1,407.5 L311.8,407.7 L312.5,407.5 L313.2,407.1 L313.9,407.0 L314.6,407.4 L315.3,407.6 L316.0,407.1 L316.7,407.5 L317.4,407.9 L318.1,407.3 L318.8,406.9 L319.5,406.8 L320.2,407.0 L320.9,407.4 L321.6,407.3 L322.3,407.1 L323.0,407.2 L323.7,407.2 L324.4,407.5 L325.1,408.2 L325.8,407.5 L326.5,407.1 L327.2,407.6 L327.9,407.8 L328.6,407.7 L329.3,407.5 L330.0,407.6 L330.7,407.9" fill="none" stroke="#e3202a" stroke-width="1.8" stroke-linejoin="round"/>
<path d="M64.7,401.3 L65.4,401.3 L66.1,400.3 L66.8,400.4 L67.5,401.5 L68.2,402.4 L68.9,402.4 L69.6,402.6 L70.3,402.4 L71.0,402.7 L71.7,402.6 L72.4,402.3 L73.1,402.1 L73.8,401.7 L74.5,401.8 L75.2,401.3 L75.9,401.4 L76.6,401.6 L77.3,402.3 L78.0,401.5 L78.7,401.2 L79.4,401.3 L80.1,402.0 L80.8,402.0 L81.5,401.3 L82.2,400.6 L82.9,400.3 L83.6,400.7 L84.3,401.5 L85.0,402.5 L85.7,402.2 L86.4,402.1 L87.1,400.5 L87.8,400.5 L88.5,401.4 L89.2,402.7 L89.9,402.7 L90.6,402.3 L91.3,402.4 L92.0,402.5 L92.7,401.7 L93.4,401.3 L94.1,401.4 L94.8,401.0 L95.5,401.0 L96.2,400.6 L96.9,401.3 L97.6,401.2 L98.3,400.5 L99.0,400.4 L99.7,399.9 L100.4,399.6 L101.1,398.7 L101.8,398.1 L102.5,398.4 L103.2,397.2 L103.9,396.4 L104.6,395.5 L105.3,396.4 L106.0,397.2 L106.7,397.1 L107.4,396.2 L108.1,396.4 L108.8,397.2 L109.5,399.0 L110.2,400.0 L110.9,401.5 L111.6,402.2 L112.3,403.8 L113.0,404.3 L113.7,404.4 L114.4,404.1 L115.1,403.8 L115.8,402.2 L116.5,399.5 L117.2,397.3 L117.9,394.5 L118.6,392.0 L119.3,389.6 L120.0,388.5 L120.7,388.8 L121.4,389.6 L122.1,391.5 L122.8,393.3 L123.5,394.7 L124.2,396.0 L124.9,397.6 L125.6,399.7 L126.3,401.6 L127.0,403.6 L127.7,405.4 L128.4,407.9 L129.1,409.5 L129.8,410.0 L130.5,410.1 L131.2,409.2 L131.9,409.6 L132.6,408.9 L133.3,409.4 L134.0,408.2 L134.7,407.0 L135.4,405.0 L136.1,404.4 L136.8,403.9 L137.5,403.9 L138.2,403.3 L138.9,403.0 L139.6,402.2 L140.3,401.9 L141.0,400.7 L141.7,400.1 L142.4,399.2 L143.1,399.1 L143.8,399.3 L144.5,398.0 L145.2,397.8 L145.9,396.4 L146.6,396.7 L147.3,396.1 L148.0,397.0 L148.7,396.6 L149.4,395.6 L150.1,395.4 L150.8,395.7 L151.5,395.8 L152.2,395.1 L152.9,394.0 L153.6,394.4 L154.3,394.1 L155.0,395.1 L155.7,393.7 L156.4,393.8 L157.1,393.8 L157.8,394.2 L158.5,393.6 L159.2,391.5 L159.9,391.3 L160.6,390.9 L161.3,391.2 L162.0,390.2 L162.7,390.2 L163.4,390.0 L164.1,390.6 L164.8,391.1 L165.5,392.0 L166.2,392.8 L166.9,393.7 L167.6,394.0 L168.3,395.4 L169.0,395.4 L169.7,396.3 L170.4,396.6 L171.1,398.1 L171.8,399.2 L172.5,399.6 L173.2,399.5 L173.9,399.9 L174.6,400.2 L175.3,401.3 L176.0,401.8 L176.7,403.4 L177.4,403.4 L178.1,403.9 L178.8,403.9 L179.5,404.3 L180.2,404.5 L180.9,406.0 L181.6,406.9 L182.3,408.2 L183.0,407.1 L183.7,406.6 L184.4,406.7 L185.1,407.6 L185.8,409.2 L186.5,409.3 L187.2,409.6 L187.9,409.4 L188.6,410.4 L189.3,410.4 L190.0,411.7 L190.7,411.5 L191.4,411.9 L192.1,411.5 L192.8,412.2 L193.5,413.2 L194.2,413.9 L194.9,413.7 L195.6,413.1 L196.3,413.5 L197.0,413.2 L197.7,413.4 L198.4,412.7 L199.1,412.7 L199.8,412.3 L200.5,412.3 L201.2,412.2 L201.9,412.5 L202.6,412.0 L203.3,413.1 L204.0,412.6 L204.7,413.0 L205.4,411.7 L206.1,411.9 L206.8,411.7 L207.5,410.8 L208.2,409.8 L208.9,407.9 L209.6,407.5 L210.3,405.9 L211.0,405.3 L211.7,404.3 L212.4,404.7 L213.1,404.7 L213.8,404.6 L214.5,404.2 L215.2,403.5 L215.9,402.7 L216.6,402.7 L217.3,402.5 L218.0,402.5 L218.7,401.5 L219.4,400.3 L220.1,399.4 L220.8,399.2 L221.5,400.3 L222.2,400.7 L222.9,400.9 L223.6,399.5 L224.3,398.8 L225.0,397.7 L225.7,397.7 L226.4,396.9 L227.1,395.8 L227.8,395.4 L228.5,395.1 L229.2,395.5 L229.9,394.5 L230.6,394.3 L231.3,394.1 L232.0,394.7 L232.7,394.6 L233.4,393.8 L234.1,392.1 L234.8,391.9 L235.5,391.8 L236.2,392.9 L236.9,393.3 L237.6,394.3 L238.3,394.9 L239.0,395.3 L239.7,394.8 L240.4,395.9 L241.1,395.8 L241.8,396.6 L242.5,396.2 L243.2,396.4 L243.9,396.3 L244.6,396.1 L245.3,396.1 L246.0,396.3 L246.7,397.3 L247.4,396.9 L248.1,396.3 L248.8,395.2 L249.5,395.4 L250.2,396.9 L250.9,397.3 L251.6,397.9 L252.3,397.5 L253.0,396.9 L253.7,396.8 L254.4,396.4 L255.1,397.4 L255.8,396.9 L256.5,396.6 L257.2,395.9 L257.9,395.9 L258.6,394.9 L259.3,394.9 L260.0,394.8 L260.7,395.7 L261.4,394.5 L262.1,393.1 L262.8,392.5 L263.5,393.1 L264.2,393.9 L264.9,393.5 L265.6,393.4 L266.3,392.5 L267.0,392.2 L267.7,391.6 L268.4,391.8 L269.1,391.9 L269.8,391.2 L270.5,391.7 L271.2,391.4 L271.9,392.1 L272.6,391.9 L273.3,392.2 L274.0,392.1 L274.7,392.2 L275.4,392.8 L276.1,393.1 L276.8,392.2 L277.5,390.8 L278.2,390.3 L278.9,390.5 L279.6,391.6 L280.3,392.0 L281.0,392.6 L281.7,393.0 L282.4,393.5 L283.1,393.8 L283.8,393.7 L284.5,393.9 L285.2,394.0 L285.9,394.2 L286.6,393.5 L287.3,393.9 L288.0,394.2 L288.7,394.9 L289.4,395.3 L290.1,395.8 L290.8,396.4 L291.5,396.4 L292.2,396.3 L292.9,395.9 L293.6,397.3 L294.3,398.0 L295.0,398.9 L295.7,398.3 L296.4,398.5 L297.1,398.6 L297.8,398.3 L298.5,398.1 L299.2,398.4 L299.9,398.2 L300.6,397.8 L301.3,397.6 L302.0,397.8 L302.7,398.5 L303.4,397.9 L304.1,398.3 L304.8,398.3 L305.5,399.0 L306.2,399.2 L306.9,398.8 L307.6,398.6 L308.3,398.3 L309.0,398.6 L309.7,400.2 L310.4,400.2 L311.1,400.8 L311.8,399.3 L312.5,399.1 L313.2,398.4 L313.9,398.9 L314.6,399.6 L315.3,400.0 L316.0,400.3 L316.7,400.8 L317.4,401.3 L318.1,400.9 L318.8,400.9 L319.5,400.4 L320.2,401.3 L320.9,401.6 L321.6,402.5 L322.3,402.5 L323.0,402.6 L323.7,402.8 L324.4,403.6 L325.1,404.5 L325.8,404.1 L326.5,404.1 L327.2,403.9 L327.9,404.0 L328.6,403.4 L329.3,402.9 L330.0,403.5 L330.7,402.7 L330.7,418.5 L330.0,419.6 L329.3,420.9 L328.6,420.6 L327.9,420.7 L327.2,420.3 L326.5,421.0 L325.8,420.4 L325.1,420.5 L324.4,419.8 L323.7,420.1 L323.0,419.4 L322.3,419.0 L321.6,417.9 L320.9,417.8 L320.2,417.6 L319.5,418.6 L318.8,417.8 L318.1,418.8 L317.4,417.4 L316.7,417.6 L316.0,416.3 L315.3,416.3 L314.6,416.0 L313.9,415.7 L313.2,416.1 L312.5,415.7 L311.8,416.0 L311.1,415.9 L310.4,415.7 L309.7,414.9 L309.0,414.8 L308.3,414.7 L307.6,415.3 L306.9,415.7 L306.2,417.1 L305.5,416.6 L304.8,416.4 L304.1,415.4 L303.4,416.4 L302.7,416.5 L302.0,416.7 L301.3,416.5 L300.6,415.6 L299.9,415.0 L299.2,414.4 L298.5,414.9 L297.8,415.2 L297.1,415.2 L296.4,415.0 L295.7,414.7 L295.0,414.8 L294.3,414.4 L293.6,414.8 L292.9,415.1 L292.2,416.4 L291.5,416.1 L290.8,415.3 L290.1,413.9 L289.4,412.8 L288.7,412.2 L288.0,411.8 L287.3,411.2 L286.6,411.7 L285.9,411.7 L285.2,412.5 L284.5,412.0 L283.8,411.3 L283.1,411.6 L282.4,411.7 L281.7,411.2 L281.0,410.5 L280.3,410.3 L279.6,411.0 L278.9,410.8 L278.2,410.7 L277.5,410.4 L276.8,410.8 L276.1,410.3 L275.4,410.1 L274.7,409.6 L274.0,410.1 L273.3,410.7 L272.6,411.3 L271.9,410.6 L271.2,409.7 L270.5,409.8 L269.8,410.6 L269.1,411.8 L268.4,411.7 L267.7,412.1 L267.0,411.6 L266.3,412.6 L265.6,411.9 L264.9,411.6 L264.2,411.0 L263.5,411.4 L262.8,412.1 L262.1,412.8 L261.4,413.5 L260.7,413.6 L260.0,412.3 L259.3,411.9 L258.6,412.5 L257.9,413.4 L257.2,414.3 L256.5,414.1 L255.8,413.6 L255.1,413.8 L254.4,413.9 L253.7,414.6 L253.0,414.7 L252.3,414.6 L251.6,414.6 L250.9,414.6 L250.2,414.6 L249.5,415.0 L248.8,415.0 L248.1,415.6 L247.4,414.9 L246.7,415.0 L246.0,415.2 L245.3,415.7 L244.6,415.0 L243.9,414.2 L243.2,414.0 L242.5,414.3 L241.8,414.3 L241.1,413.4 L240.4,413.3 L239.7,413.3 L239.0,413.4 L238.3,412.0 L237.6,412.0 L236.9,411.1 L236.2,410.7 L235.5,409.7 L234.8,410.3 L234.1,410.7 L233.4,410.9 L232.7,411.2 L232.0,411.3 L231.3,411.9 L230.6,412.6 L229.9,413.4 L229.2,413.5 L228.5,414.0 L227.8,414.7 L227.1,416.2 L226.4,416.8 L225.7,417.7 L225.0,418.0 L224.3,418.6 L223.6,417.6 L222.9,417.7 L222.2,417.6 L221.5,419.8 L220.8,419.9 L220.1,420.6 L219.4,421.4 L218.7,422.5 L218.0,423.2 L217.3,422.8 L216.6,423.1 L215.9,423.8 L215.2,424.0 L214.5,425.1 L213.8,425.6 L213.1,426.1 L212.4,425.9 L211.7,425.5 L211.0,426.2 L210.3,427.0 L209.6,428.1 L208.9,429.4 L208.2,430.3 L207.5,431.7 L206.8,432.5 L206.1,433.3 L205.4,433.8 L204.7,434.4 L204.0,434.9 L203.3,435.2 L202.6,434.5 L201.9,434.8 L201.2,434.9 L200.5,435.9 L199.8,435.5 L199.1,435.4 L198.4,434.6 L197.7,435.2 L197.0,435.2 L196.3,435.5 L195.6,435.6 L194.9,435.2 L194.2,434.9 L193.5,434.0 L192.8,433.1 L192.1,432.3 L191.4,432.3 L190.7,432.2 L190.0,432.2 L189.3,432.4 L188.6,431.4 L187.9,430.8 L187.2,429.7 L186.5,429.5 L185.8,429.3 L185.1,428.9 L184.4,428.4 L183.7,427.7 L183.0,427.6 L182.3,426.8 L181.6,426.5 L180.9,424.2 L180.2,424.5 L179.5,423.6 L178.8,422.9 L178.1,421.5 L177.4,420.6 L176.7,420.9 L176.0,419.5 L175.3,418.6 L174.6,418.7 L173.9,418.9 L173.2,418.9 L172.5,416.9 L171.8,416.6 L171.1,416.6 L170.4,416.1 L169.7,415.0 L169.0,412.9 L168.3,412.5 L167.6,412.3 L166.9,411.1 L166.2,410.4 L165.5,409.7 L164.8,410.1 L164.1,410.1 L163.4,409.6 L162.7,409.9 L162.0,410.0 L161.3,410.3 L160.6,410.2 L159.9,410.1 L159.2,410.5 L158.5,411.3 L157.8,411.5 L157.1,412.0 L156.4,411.9 L155.7,412.5 L155.0,412.6 L154.3,413.2 L153.6,413.3 L152.9,413.5 L152.2,413.1 L151.5,413.2 L150.8,412.6 L150.1,413.2 L149.4,413.7 L148.7,414.8 L148.0,414.4 L147.3,414.1 L146.6,414.0 L145.9,414.3 L145.2,414.8 L144.5,414.9 L143.8,415.2 L143.1,416.3 L142.4,417.2 L141.7,418.2 L141.0,418.8 L140.3,418.8 L139.6,420.1 L138.9,421.0 L138.2,422.3 L137.5,422.6 L136.8,422.9 L136.1,422.9 L135.4,423.2 L134.7,423.8 L134.0,424.6 L133.3,425.3 L132.6,425.3 L131.9,426.5 L131.2,427.5 L130.5,428.8 L129.8,429.2 L129.1,428.5 L128.4,426.9 L127.7,425.3 L127.0,423.5 L126.3,421.4 L125.6,419.0 L124.9,416.2 L124.2,414.3 L123.5,413.2 L122.8,411.9 L122.1,410.2 L121.4,407.6 L120.7,406.5 L120.0,406.0 L119.3,407.1 L118.6,408.5 L117.9,410.5 L117.2,412.8 L116.5,416.0 L115.8,418.3 L115.1,420.3 L114.4,419.8 L113.7,420.3 L113.0,419.9 L112.3,419.8 L111.6,419.5 L110.9,418.4 L110.2,417.1 L109.5,415.2 L108.8,414.2 L108.1,413.6 L107.4,412.5 L106.7,411.5 L106.0,411.3 L105.3,412.0 L104.6,412.4 L103.9,412.4 L103.2,412.7 L102.5,413.0 L101.8,413.9 L101.1,414.1 L100.4,414.9 L99.7,414.5 L99.0,414.4 L98.3,414.1 L97.6,414.4 L96.9,414.2 L96.2,414.7 L95.5,415.6 L94.8,415.9 L94.1,416.3 L93.4,415.5 L92.7,415.9 L92.0,415.7 L91.3,416.2 L90.6,416.7 L89.9,416.4 L89.2,416.5 L88.5,416.0 L87.8,416.2 L87.1,416.6 L86.4,416.6 L85.7,416.7 L85.0,416.2 L84.3,416.4 L83.6,416.1 L82.9,416.2 L82.2,415.7 L81.5,416.1 L80.8,416.5 L80.1,417.6 L79.4,416.7 L78.7,416.0 L78.0,414.9 L77.3,416.0 L76.6,416.5 L75.9,416.9 L75.2,416.5 L74.5,416.5 L73.8,416.7 L73.1,416.4 L72.4,415.9 L71.7,414.0 L71.0,413.7 L70.3,413.6 L69.6,415.3 L68.9,416.7 L68.2,417.4 L67.5,417.3 L66.8,415.5 L66.1,414.9 L65.4,413.9 L64.7,413.9Z" fill="rgba(110,110,235,0.33)" stroke="none"/>
<path d="M64.7,408.6 L65.4,408.3 L66.1,408.0 L66.8,407.6 L67.5,407.5 L68.2,407.9 L68.9,408.3 L69.6,408.6 L70.3,408.8 L71.0,408.9 L71.7,408.8 L72.4,408.5 L73.1,407.8 L73.8,408.0 L74.5,408.4 L75.2,408.4 L75.9,408.6 L76.6,408.5 L77.3,408.3 L78.0,408.6 L78.7,409.0 L79.4,408.8 L80.1,409.0 L80.8,409.1 L81.5,408.6 L82.2,408.7 L82.9,409.6 L83.6,409.4 L84.3,409.1 L85.0,409.8 L85.7,409.9 L86.4,409.2 L87.1,409.4 L87.8,409.6 L88.5,409.0 L89.2,408.9 L89.9,409.1 L90.6,409.2 L91.3,408.9 L92.0,409.2 L92.7,409.0 L93.4,408.2 L94.1,408.5 L94.8,408.9 L95.5,408.8 L96.2,408.1 L96.9,407.9 L97.6,408.2 L98.3,408.2 L99.0,407.5 L99.7,406.8 L100.4,406.8 L101.1,406.0 L101.8,405.4 L102.5,405.7 L103.2,405.3 L103.9,404.3 L104.6,404.4 L105.3,404.6 L106.0,404.6 L106.7,404.3 L107.4,404.5 L108.1,405.9 L108.8,406.6 L109.5,407.0 L110.2,408.3 L110.9,410.0 L111.6,410.5 L112.3,410.4 L113.0,411.2 L113.7,412.2 L114.4,412.5 L115.1,411.8 L115.8,409.9 L116.5,407.1 L117.2,404.6 L117.9,402.0 L118.6,399.8 L119.3,398.4 L120.0,398.6 L120.7,399.3 L121.4,399.1 L122.1,399.7 L122.8,401.2 L123.5,402.4 L124.2,403.7 L124.9,405.8 L125.6,408.5 L126.3,411.0 L127.0,413.0 L127.7,415.1 L128.4,417.0 L129.1,418.9 L129.8,419.9 L130.5,420.2 L131.2,419.7 L131.9,419.1 L132.6,418.6 L133.3,417.4 L134.0,415.8 L134.7,414.5 L135.4,414.5 L136.1,414.5 L136.8,413.7 L137.5,412.8 L138.2,411.9 L138.9,410.9 L139.6,410.1 L140.3,409.8 L141.0,409.5 L141.7,408.5 L142.4,407.8 L143.1,407.6 L143.8,407.4 L144.5,406.6 L145.2,406.8 L145.9,406.8 L146.6,406.1 L147.3,406.3 L148.0,406.4 L148.7,405.7 L149.4,405.4 L150.1,405.0 L150.8,404.4 L151.5,403.9 L152.2,404.3 L152.9,404.2 L153.6,403.8 L154.3,403.8 L155.0,403.0 L155.7,402.9 L156.4,402.9 L157.1,402.7 L157.8,402.7 L158.5,402.2 L159.2,401.6 L159.9,400.9 L160.6,400.6 L161.3,400.5 L162.0,400.0 L162.7,399.8 L163.4,400.0 L164.1,400.3 L164.8,400.8 L165.5,401.1 L166.2,401.3 L166.9,402.4 L167.6,402.9 L168.3,403.3 L169.0,405.1 L169.7,405.3 L170.4,405.4 L171.1,407.2 L171.8,407.5 L172.5,408.7 L173.2,409.0 L173.9,409.2 L174.6,411.1 L175.3,411.5 L176.0,411.5 L176.7,411.9 L177.4,412.3 L178.1,413.0 L178.8,413.5 L179.5,413.7 L180.2,414.9 L180.9,415.1 L181.6,415.3 L182.3,416.2 L183.0,416.4 L183.7,417.3 L184.4,418.3 L185.1,418.1 L185.8,418.5 L186.5,419.3 L187.2,419.7 L187.9,420.4 L188.6,420.9 L189.3,421.7 L190.0,422.1 L190.7,422.5 L191.4,423.0 L192.1,423.3 L192.8,423.4 L193.5,423.3 L194.2,423.4 L194.9,423.9 L195.6,424.7 L196.3,425.2 L197.0,425.3 L197.7,424.8 L198.4,424.3 L199.1,424.4 L199.8,424.4 L200.5,424.7 L201.2,425.0 L201.9,424.3 L202.6,423.8 L203.3,424.5 L204.0,424.5 L204.7,423.6 L205.4,423.2 L206.1,422.4 L206.8,421.1 L207.5,420.1 L208.2,418.7 L208.9,418.1 L209.6,417.4 L210.3,416.2 L211.0,415.6 L211.7,415.5 L212.4,415.2 L213.1,414.5 L213.8,413.5 L214.5,413.1 L215.2,412.7 L215.9,412.4 L216.6,412.6 L217.3,412.1 L218.0,412.2 L218.7,412.0 L219.4,411.2 L220.1,410.7 L220.8,410.0 L221.5,409.9 L222.2,409.9 L222.9,408.7 L223.6,408.3 L224.3,408.3 L225.0,407.7 L225.7,407.2 L226.4,406.0 L227.1,405.0 L227.8,405.3 L228.5,405.3 L229.2,403.8 L229.9,403.3 L230.6,403.2 L231.3,402.2 L232.0,401.3 L232.7,401.1 L233.4,401.6 L234.1,401.9 L234.8,401.7 L235.5,401.9 L236.2,402.3 L236.9,401.9 L237.6,402.1 L238.3,403.0 L239.0,403.2 L239.7,403.7 L240.4,404.4 L241.1,404.8 L241.8,404.6 L242.5,404.6 L243.2,405.8 L243.9,405.8 L244.6,404.8 L245.3,405.3 L246.0,406.1 L246.7,406.2 L247.4,405.8 L248.1,406.0 L248.8,406.1 L249.5,405.5 L250.2,405.6 L250.9,405.9 L251.6,406.2 L252.3,406.3 L253.0,406.0 L253.7,405.9 L254.4,405.7 L255.1,405.5 L255.8,404.9 L256.5,403.9 L257.2,404.3 L257.9,404.2 L258.6,403.6 L259.3,403.8 L260.0,403.5 L260.7,403.2 L261.4,403.5 L262.1,402.7 L262.8,402.4 L263.5,403.7 L264.2,403.3 L264.9,402.5 L265.6,402.5 L266.3,402.9 L267.0,402.2 L267.7,401.5 L268.4,401.6 L269.1,401.6 L269.8,401.6 L270.5,401.5 L271.2,401.2 L271.9,400.9 L272.6,400.7 L273.3,400.4 L274.0,400.5 L274.7,400.6 L275.4,400.3 L276.1,400.8 L276.8,401.2 L277.5,400.3 L278.2,400.8 L278.9,401.1 L279.6,401.0 L280.3,401.4 L281.0,401.5 L281.7,401.7 L282.4,401.7 L283.1,401.8 L283.8,402.8 L284.5,402.3 L285.2,401.9 L285.9,402.9 L286.6,402.8 L287.3,402.5 L288.0,403.7 L288.7,404.3 L289.4,404.6 L290.1,405.3 L290.8,405.0 L291.5,405.4 L292.2,405.9 L292.9,406.5 L293.6,406.7 L294.3,406.7 L295.0,406.9 L295.7,407.4 L296.4,407.7 L297.1,407.0 L297.8,406.6 L298.5,407.0 L299.2,407.0 L299.9,406.8 L300.6,406.7 L301.3,406.7 L302.0,407.1 L302.7,407.5 L303.4,407.4 L304.1,407.7 L304.8,407.7 L305.5,408.0 L306.2,408.4 L306.9,407.5 L307.6,407.1 L308.3,406.1 L309.0,406.2 L309.7,407.1 L310.4,407.7 L311.1,407.3 L311.8,407.4 L312.5,407.9 L313.2,407.7 L313.9,407.2 L314.6,407.2 L315.3,408.1 L316.0,408.5 L316.7,408.9 L317.4,408.6 L318.1,409.1 L318.8,409.9 L319.5,410.0 L320.2,410.4 L320.9,410.9 L321.6,410.9 L322.3,410.5 L323.0,410.5 L323.7,411.6 L324.4,412.5 L325.1,412.4 L325.8,412.2 L326.5,412.3 L327.2,412.5 L327.9,412.4 L328.6,412.0 L329.3,412.6 L330.0,412.7 L330.7,411.6" fill="none" stroke="#1818d2" stroke-width="1.9" stroke-linejoin="round"/>
<path d="M64.7,552.8 L65.4,553.1 L66.1,553.8 L66.8,553.8 L67.5,554.4 L68.2,555.2 L68.9,555.2 L69.6,554.7 L70.3,554.4 L71.0,554.2 L71.7,554.1 L72.4,554.1 L73.1,554.6 L73.8,555.3 L74.5,555.4 L75.2,555.3 L75.9,555.3 L76.6,555.5 L77.3,556.1 L78.0,556.7 L78.7,557.2 L79.4,556.5 L80.1,555.4 L80.8,553.9 L81.5,553.7 L82.2,553.0 L82.9,552.5 L83.6,551.5 L84.3,551.4 L85.0,551.3 L85.7,550.7 L86.4,549.9 L87.1,548.6 L87.8,547.2 L88.5,546.1 L89.2,544.6 L89.9,544.2 L90.6,543.1 L91.3,542.7 L92.0,541.2 L92.7,538.1 L93.4,533.7 L94.1,527.7 L94.8,522.5 L95.5,517.2 L96.2,511.8 L96.9,506.2 L97.6,500.6 L98.3,496.7 L99.0,494.0 L99.7,494.9 L100.4,496.8 L101.1,501.4 L101.8,506.9 L102.5,514.1 L103.2,522.0 L103.9,535.5 L104.6,551.1 L105.3,564.3 L106.0,577.5 L106.7,588.3 L107.4,594.3 L108.1,594.0 L108.8,591.4 L109.5,586.1 L110.2,578.9 L110.9,572.3 L111.6,566.7 L112.3,564.1 L113.0,563.4 L113.7,565.5 L114.4,568.3 L115.1,572.0 L115.8,574.7 L116.5,577.8 L117.2,580.5 L117.9,582.6 L118.6,585.5 L119.3,588.2 L120.0,591.1 L120.7,593.1 L121.4,594.5 L122.1,595.3 L122.8,593.0 L123.5,588.7 L124.2,583.0 L124.9,577.4 L125.6,571.0 L126.3,565.1 L127.0,556.2 L127.7,546.3 L128.4,537.9 L129.1,532.1 L129.8,530.7 L130.5,532.0 L131.2,536.0 L131.9,539.8 L132.6,543.7 L133.3,548.6 L134.0,555.3 L134.7,560.6 L135.4,563.8 L136.1,564.1 L136.8,562.9 L137.5,561.4 L138.2,558.7 L138.9,555.2 L139.6,550.8 L140.3,547.5 L141.0,542.6 L141.7,537.2 L142.4,531.3 L143.1,526.4 L143.8,523.1 L144.5,520.7 L145.2,518.2 L145.9,514.5 L146.6,510.7 L147.3,508.1 L148.0,505.9 L148.7,504.5 L149.4,502.2 L150.1,501.4 L150.8,501.0 L151.5,501.5 L152.2,503.2 L152.9,505.4 L153.6,508.9 L154.3,511.6 L155.0,514.5 L155.7,517.4 L156.4,521.3 L157.1,525.1 L157.8,530.3 L158.5,535.7 L159.2,540.6 L159.9,543.8 L160.6,546.7 L161.3,551.0 L162.0,554.6 L162.7,556.9 L163.4,557.9 L164.1,558.1 L164.8,559.4 L165.5,559.6 L166.2,560.8 L166.9,560.0 L167.6,560.5 L168.3,560.1 L169.0,561.1 L169.7,561.8 L170.4,562.8 L171.1,563.0 L171.8,563.0 L172.5,562.3 L173.2,561.8 L173.9,561.5 L174.6,562.6 L175.3,563.4 L176.0,564.0 L176.7,563.2 L177.4,563.2 L178.1,562.9 L178.8,563.8 L179.5,564.8 L180.2,565.3 L180.9,565.6 L181.6,564.6 L182.3,564.3 L183.0,564.1 L183.7,564.4 L184.4,563.8 L185.1,563.9 L185.8,564.1 L186.5,564.8 L187.2,564.7 L187.9,564.5 L188.6,564.2 L189.3,563.3 L190.0,563.8 L190.7,564.0 L191.4,564.5 L192.1,563.6 L192.8,564.3 L193.5,566.2 L194.2,568.1 L194.9,570.6 L195.6,572.7 L196.3,574.5 L197.0,574.9 L197.7,575.6 L198.4,575.8 L199.1,576.5 L199.8,576.9 L200.5,577.7 L201.2,578.5 L201.9,579.3 L202.6,579.9 L203.3,579.5 L204.0,579.5 L204.7,579.1 L205.4,578.2 L206.1,576.4 L206.8,575.1 L207.5,572.6 L208.2,570.8 L208.9,568.1 L209.6,566.3 L210.3,563.7 L211.0,560.7 L211.7,556.6 L212.4,553.2 L213.1,549.1 L213.8,545.8 L214.5,542.3 L215.2,539.1 L215.9,536.7 L216.6,532.9 L217.3,531.0 L218.0,529.0 L218.7,527.6 L219.4,525.3 L220.1,524.0 L220.8,522.4 L221.5,520.8 L222.2,518.6 L222.9,516.8 L223.6,514.9 L224.3,513.3 L225.0,512.2 L225.7,511.8 L226.4,511.1 L227.1,510.6 L227.8,510.3 L228.5,511.3 L229.2,513.9 L229.9,516.0 L230.6,518.4 L231.3,523.2 L232.0,531.0 L232.7,538.5 L233.4,541.8 L234.1,545.6 L234.8,548.6 L235.5,551.4 L236.2,552.2 L236.9,551.7 L237.6,549.3 L238.3,546.9 L239.0,543.3 L239.7,540.9 L240.4,538.2 L241.1,537.0 L241.8,535.2 L242.5,534.5 L243.2,532.9 L243.9,532.1 L244.6,530.5 L245.3,529.8 L246.0,528.5 L246.7,528.9 L247.4,528.6 L248.1,529.7 L248.8,528.8 L249.5,530.3 L250.2,530.8 L250.9,532.9 L251.6,532.4 L252.3,533.6 L253.0,534.1 L253.7,536.3 L254.4,538.2 L255.1,540.5 L255.8,542.4 L256.5,544.3 L257.2,546.4 L257.9,549.4 L258.6,551.7 L259.3,554.7 L260.0,557.1 L260.7,559.0 L261.4,561.4 L262.1,564.0 L262.8,567.3 L263.5,569.6 L264.2,570.6 L264.9,572.2 L265.6,573.5 L266.3,575.4 L267.0,576.1 L267.7,575.8 L268.4,577.3 L269.1,577.2 L269.8,577.6 L270.5,576.7 L271.2,576.4 L271.9,575.5 L272.6,573.3 L273.3,572.1 L274.0,571.6 L274.7,570.5 L275.4,568.2 L276.1,566.4 L276.8,566.2 L277.5,564.6 L278.2,562.9 L278.9,559.8 L279.6,558.8 L280.3,557.2 L281.0,556.4 L281.7,554.6 L282.4,552.8 L283.1,552.6 L283.8,552.7 L284.5,551.7 L285.2,550.3 L285.9,549.7 L286.6,549.8 L287.3,549.1 L288.0,548.1 L288.7,547.8 L289.4,547.5 L290.1,547.4 L290.8,546.7 L291.5,546.7 L292.2,546.3 L292.9,546.3 L293.6,545.3 L294.3,544.8 L295.0,544.6 L295.7,544.7 L296.4,544.5 L297.1,543.9 L297.8,543.7 L298.5,543.0 L299.2,542.7 L299.9,542.7 L300.6,543.3 L301.3,543.3 L302.0,542.8 L302.7,542.4 L303.4,543.0 L304.1,543.6 L304.8,543.1 L305.5,541.8 L306.2,540.4 L306.9,540.7 L307.6,540.2 L308.3,540.4 L309.0,539.4 L309.7,539.3 L310.4,539.0 L311.1,539.0 L311.8,539.6 L312.5,539.2 L313.2,539.2 L313.9,537.8 L314.6,537.1 L315.3,535.7 L316.0,535.6 L316.7,535.9 L317.4,536.3 L318.1,537.0 L318.8,536.9 L319.5,537.4 L320.2,538.2 L320.9,538.9 L321.6,539.7 L322.3,540.2 L323.0,540.8 L323.7,541.1 L324.4,542.1 L325.1,543.5 L325.8,546.1 L326.5,546.8 L327.2,547.6 L327.9,548.2 L328.6,548.6 L329.3,548.8 L330.0,548.8 L330.7,549.6 L330.7,572.8 L330.0,572.5 L329.3,573.5 L328.6,572.6 L327.9,572.3 L327.2,570.0 L326.5,569.9 L325.8,569.2 L325.1,569.4 L324.4,568.3 L323.7,566.7 L323.0,566.1 L322.3,564.9 L321.6,565.3 L320.9,564.0 L320.2,563.7 L319.5,562.3 L318.8,561.8 L318.1,562.2 L317.4,562.1 L316.7,562.9 L316.0,562.6 L315.3,562.4 L314.6,561.8 L313.9,562.7 L313.2,563.3 L312.5,563.7 L311.8,563.7 L311.1,564.2 L310.4,564.6 L309.7,565.4 L309.0,566.2 L308.3,567.3 L307.6,567.5 L306.9,567.6 L306.2,567.2 L305.5,567.5 L304.8,567.9 L304.1,568.1 L303.4,567.6 L302.7,568.1 L302.0,568.7 L301.3,569.7 L300.6,570.4 L299.9,570.4 L299.2,570.9 L298.5,571.1 L297.8,571.6 L297.1,571.2 L296.4,571.3 L295.7,570.9 L295.0,570.5 L294.3,569.8 L293.6,569.8 L292.9,570.3 L292.2,571.3 L291.5,572.0 L290.8,572.9 L290.1,572.7 L289.4,573.1 L288.7,573.1 L288.0,573.7 L287.3,574.7 L286.6,575.7 L285.9,576.1 L285.2,575.9 L284.5,574.6 L283.8,574.4 L283.1,574.5 L282.4,575.8 L281.7,576.3 L281.0,577.9 L280.3,578.2 L279.6,578.8 L278.9,579.2 L278.2,580.3 L277.5,581.2 L276.8,582.4 L276.1,583.4 L275.4,584.5 L274.7,584.4 L274.0,584.5 L273.3,584.8 L272.6,586.1 L271.9,587.4 L271.2,588.6 L270.5,588.4 L269.8,588.3 L269.1,588.7 L268.4,589.9 L267.7,589.3 L267.0,588.1 L266.3,587.0 L265.6,585.6 L264.9,585.0 L264.2,583.8 L263.5,583.4 L262.8,581.8 L262.1,579.8 L261.4,578.3 L260.7,575.3 L260.0,573.0 L259.3,570.9 L258.6,570.0 L257.9,569.0 L257.2,566.0 L256.5,563.7 L255.8,560.9 L255.1,560.1 L254.4,559.1 L253.7,558.4 L253.0,557.4 L252.3,556.1 L251.6,555.7 L250.9,554.4 L250.2,554.1 L249.5,553.8 L248.8,554.0 L248.1,554.1 L247.4,553.9 L246.7,555.1 L246.0,556.1 L245.3,557.4 L244.6,558.4 L243.9,560.7 L243.2,562.5 L242.5,564.2 L241.8,564.6 L241.1,566.6 L240.4,569.2 L239.7,572.4 L239.0,575.4 L238.3,578.1 L237.6,581.4 L236.9,583.0 L236.2,583.7 L235.5,582.6 L234.8,580.3 L234.1,576.2 L233.4,572.1 L232.7,567.7 L232.0,561.1 L231.3,551.7 L230.6,545.3 L229.9,540.5 L229.2,536.8 L228.5,533.9 L227.8,531.0 L227.1,530.8 L226.4,531.1 L225.7,533.6 L225.0,535.5 L224.3,537.1 L223.6,538.6 L222.9,539.5 L222.2,540.7 L221.5,542.6 L220.8,545.4 L220.1,547.6 L219.4,550.2 L218.7,551.9 L218.0,554.9 L217.3,556.1 L216.6,558.7 L215.9,561.7 L215.2,564.6 L214.5,568.6 L213.8,572.4 L213.1,576.1 L212.4,580.0 L211.7,584.1 L211.0,588.6 L210.3,592.8 L209.6,595.5 L208.9,597.5 L208.2,599.6 L207.5,601.6 L206.8,604.7 L206.1,605.6 L205.4,607.6 L204.7,607.7 L204.0,609.1 L203.3,608.3 L202.6,608.3 L201.9,607.2 L201.2,607.1 L200.5,606.1 L199.8,604.9 L199.1,604.0 L198.4,602.9 L197.7,601.7 L197.0,599.4 L196.3,596.8 L195.6,593.4 L194.9,590.3 L194.2,587.5 L193.5,585.4 L192.8,583.0 L192.1,581.6 L191.4,581.1 L190.7,580.2 L190.0,580.5 L189.3,579.6 L188.6,579.7 L187.9,579.6 L187.2,580.1 L186.5,580.2 L185.8,579.4 L185.1,579.6 L184.4,580.0 L183.7,580.7 L183.0,580.6 L182.3,579.9 L181.6,579.7 L180.9,580.3 L180.2,580.1 L179.5,579.6 L178.8,578.4 L178.1,579.3 L177.4,579.2 L176.7,579.8 L176.0,580.4 L175.3,580.4 L174.6,579.9 L173.9,577.7 L173.2,577.3 L172.5,576.7 L171.8,577.4 L171.1,577.1 L170.4,577.1 L169.7,577.4 L169.0,578.1 L168.3,578.8 L167.6,578.7 L166.9,578.0 L166.2,576.2 L165.5,575.3 L164.8,575.3 L164.1,575.5 L163.4,575.8 L162.7,573.5 L162.0,572.9 L161.3,570.9 L160.6,569.3 L159.9,566.7 L159.2,564.5 L158.5,561.2 L157.8,558.1 L157.1,553.3 L156.4,550.4 L155.7,548.2 L155.0,546.7 L154.3,544.5 L153.6,541.3 L152.9,539.2 L152.2,538.0 L151.5,537.6 L150.8,537.9 L150.1,537.2 L149.4,538.6 L148.7,540.0 L148.0,543.4 L147.3,545.9 L146.6,548.6 L145.9,550.7 L145.2,553.3 L144.5,555.6 L143.8,559.0 L143.1,562.7 L142.4,568.1 L141.7,572.6 L141.0,577.8 L140.3,581.9 L139.6,586.1 L138.9,590.4 L138.2,593.9 L137.5,596.9 L136.8,599.4 L136.1,601.3 L135.4,600.9 L134.7,594.8 L134.0,587.0 L133.3,577.8 L132.6,571.3 L131.9,565.2 L131.2,558.9 L130.5,553.6 L129.8,550.3 L129.1,552.9 L128.4,559.1 L127.7,569.4 L127.0,579.1 L126.3,589.1 L125.6,596.7 L124.9,604.3 L124.2,611.8 L123.5,618.1 L122.8,623.3 L122.1,624.8 L121.4,624.6 L120.7,623.1 L120.0,621.5 L119.3,618.0 L118.6,614.8 L117.9,611.5 L117.2,609.1 L116.5,606.3 L115.8,602.2 L115.1,598.1 L114.4,594.5 L113.7,593.0 L113.0,591.0 L112.3,590.3 L111.6,591.3 L110.9,595.9 L110.2,602.4 L109.5,608.6 L108.8,613.7 L108.1,616.7 L107.4,618.1 L106.7,611.8 L106.0,599.4 L105.3,585.4 L104.6,571.8 L103.9,556.4 L103.2,541.8 L102.5,534.3 L101.8,527.5 L101.1,521.9 L100.4,517.2 L99.7,513.8 L99.0,512.2 L98.3,513.3 L97.6,517.4 L96.9,523.2 L96.2,529.4 L95.5,535.5 L94.8,539.7 L94.1,543.7 L93.4,547.8 L92.7,552.0 L92.0,555.7 L91.3,557.3 L90.6,558.9 L89.9,559.1 L89.2,559.3 L88.5,559.2 L87.8,560.3 L87.1,561.5 L86.4,562.4 L85.7,563.3 L85.0,564.3 L84.3,565.7 L83.6,565.9 L82.9,566.3 L82.2,566.4 L81.5,567.3 L80.8,567.8 L80.1,567.4 L79.4,567.2 L78.7,567.6 L78.0,568.7 L77.3,569.1 L76.6,568.6 L75.9,568.2 L75.2,567.9 L74.5,567.5 L73.8,566.9 L73.1,566.9 L72.4,567.4 L71.7,568.0 L71.0,566.9 L70.3,566.1 L69.6,564.9 L68.9,565.8 L68.2,566.5 L67.5,567.2 L66.8,566.2 L66.1,565.7 L65.4,565.5 L64.7,565.3Z" fill="rgb(200,200,200)" stroke="none"/>
<path d="M64.7,559.6 L65.4,559.7 L66.1,559.8 L66.8,560.0 L67.5,560.1 L68.2,560.2 L68.9,560.4 L69.6,560.5 L70.3,560.6 L71.0,560.8 L71.7,560.9 L72.4,561.1 L73.1,561.3 L73.8,561.5 L74.5,561.7 L75.2,562.0 L75.9,562.2 L76.6,562.3 L77.3,562.5 L78.0,562.5 L78.7,562.4 L79.4,562.2 L80.1,561.9 L80.8,561.5 L81.5,561.0 L82.2,560.5 L82.9,559.9 L83.6,559.3 L84.3,558.7 L85.0,558.0 L85.7,557.2 L86.4,556.2 L87.1,555.3 L87.8,554.3 L88.5,553.4 L89.2,552.5 L89.9,551.7 L90.6,550.7 L91.3,549.5 L92.0,548.0 L92.7,545.3 L93.4,541.1 L94.1,536.2 L94.8,531.3 L95.5,526.4 L96.2,520.4 L96.9,514.2 L97.6,508.6 L98.3,504.6 L99.0,503.0 L99.7,504.1 L100.4,507.2 L101.1,511.9 L101.8,517.9 L102.5,524.8 L103.2,532.5 L103.9,546.2 L104.6,562.2 L105.3,575.3 L106.0,588.6 L106.7,600.2 L107.4,606.6 L108.1,606.1 L108.8,602.3 L109.5,596.6 L110.2,590.1 L110.9,584.0 L111.6,579.2 L112.3,577.0 L113.0,577.6 L113.7,579.4 L114.4,582.1 L115.1,585.4 L115.8,588.8 L116.5,592.0 L117.2,594.7 L117.9,597.6 L118.6,600.7 L119.3,603.9 L120.0,606.7 L120.7,609.0 L121.4,610.5 L122.1,611.0 L122.8,608.9 L123.5,604.4 L124.2,598.1 L124.9,591.0 L125.6,583.8 L126.3,576.9 L127.0,567.9 L127.7,557.8 L128.4,548.7 L129.1,542.5 L129.8,541.1 L130.5,543.4 L131.2,547.7 L131.9,552.6 L132.6,557.3 L133.3,563.4 L134.0,570.3 L134.7,576.8 L135.4,581.5 L136.1,583.0 L136.8,581.9 L137.5,579.4 L138.2,576.0 L138.9,572.1 L139.6,568.1 L140.3,564.4 L141.0,559.8 L141.7,554.7 L142.4,549.6 L143.1,544.8 L143.8,540.9 L144.5,537.9 L145.2,535.0 L145.9,532.1 L146.6,529.4 L147.3,526.8 L148.0,524.6 L148.7,522.6 L149.4,521.1 L150.1,520.1 L150.8,519.6 L151.5,519.8 L152.2,520.9 L152.9,522.5 L153.6,524.7 L154.3,527.3 L155.0,530.1 L155.7,532.8 L156.4,535.7 L157.1,539.5 L157.8,543.8 L158.5,548.2 L159.2,552.3 L159.9,555.6 L160.6,558.2 L161.3,560.7 L162.0,563.0 L162.7,564.9 L163.4,566.3 L164.1,567.1 L164.8,567.5 L165.5,567.9 L166.2,568.3 L166.9,568.5 L167.6,568.8 L168.3,569.0 L169.0,569.2 L169.7,569.4 L170.4,569.6 L171.1,569.7 L171.8,569.9 L172.5,570.2 L173.2,570.4 L173.9,570.6 L174.6,570.9 L175.3,571.1 L176.0,571.3 L176.7,571.5 L177.4,571.7 L178.1,571.8 L178.8,571.9 L179.5,572.0 L180.2,572.0 L180.9,572.0 L181.6,572.0 L182.3,572.0 L183.0,572.0 L183.7,572.0 L184.4,572.0 L185.1,572.0 L185.8,572.0 L186.5,572.0 L187.2,572.0 L187.9,572.0 L188.6,572.0 L189.3,572.0 L190.0,572.0 L190.7,572.0 L191.4,572.0 L192.1,572.0 L192.8,573.0 L193.5,575.0 L194.2,577.8 L194.9,580.7 L195.6,583.3 L196.3,585.2 L197.0,586.4 L197.7,587.6 L198.4,588.7 L199.1,589.8 L199.8,590.8 L200.5,591.7 L201.2,592.5 L201.9,593.1 L202.6,593.5 L203.3,593.8 L204.0,593.9 L204.7,593.5 L205.4,592.6 L206.1,591.2 L206.8,589.5 L207.5,587.6 L208.2,585.5 L208.9,583.3 L209.6,581.1 L210.3,578.3 L211.0,575.0 L211.7,571.2 L212.4,567.2 L213.1,563.2 L213.8,559.2 L214.5,555.4 L215.2,552.0 L215.9,549.3 L216.6,546.7 L217.3,544.3 L218.0,541.9 L218.7,539.7 L219.4,537.6 L220.1,535.7 L220.8,533.8 L221.5,532.1 L222.2,530.5 L222.9,528.8 L223.6,527.2 L224.3,525.5 L225.0,524.0 L225.7,522.7 L226.4,521.7 L227.1,521.2 L227.8,521.3 L228.5,522.7 L229.2,525.2 L229.9,528.6 L230.6,532.3 L231.3,537.8 L232.0,545.7 L232.7,552.9 L233.4,557.4 L234.1,561.6 L234.8,565.1 L235.5,567.5 L236.2,568.2 L236.9,567.2 L237.6,565.1 L238.3,562.3 L239.0,559.2 L239.7,556.4 L240.4,554.3 L241.1,552.7 L241.8,551.0 L242.5,549.3 L243.2,547.7 L243.9,546.2 L244.6,544.8 L245.3,543.6 L246.0,542.6 L246.7,541.9 L247.4,541.5 L248.1,541.4 L248.8,541.6 L249.5,541.9 L250.2,542.4 L250.9,543.0 L251.6,543.8 L252.3,544.6 L253.0,545.4 L253.7,546.5 L254.4,547.9 L255.1,549.7 L255.8,551.8 L256.5,554.0 L257.2,556.3 L257.9,558.6 L258.6,560.7 L259.3,562.9 L260.0,565.2 L260.7,567.6 L261.4,570.0 L262.1,572.3 L262.8,574.4 L263.5,576.0 L264.2,577.3 L264.9,578.5 L265.6,579.7 L266.3,580.7 L267.0,581.7 L267.7,582.4 L268.4,582.9 L269.1,583.2 L269.8,583.1 L270.5,582.8 L271.2,582.2 L271.9,581.4 L272.6,580.4 L273.3,579.4 L274.0,578.3 L274.7,577.2 L275.4,576.1 L276.1,575.1 L276.8,574.0 L277.5,572.7 L278.2,571.4 L278.9,570.0 L279.6,568.7 L280.3,567.4 L281.0,566.3 L281.7,565.4 L282.4,564.7 L283.1,564.1 L283.8,563.5 L284.5,563.0 L285.2,562.5 L285.9,562.0 L286.6,561.6 L287.3,561.2 L288.0,560.8 L288.7,560.5 L289.4,560.2 L290.1,559.9 L290.8,559.6 L291.5,559.3 L292.2,559.0 L292.9,558.8 L293.6,558.6 L294.3,558.4 L295.0,558.2 L295.7,558.0 L296.4,557.9 L297.1,557.7 L297.8,557.5 L298.5,557.3 L299.2,557.1 L299.9,556.9 L300.6,556.7 L301.3,556.4 L302.0,556.2 L302.7,555.9 L303.4,555.5 L304.1,555.2 L304.8,554.9 L305.5,554.5 L306.2,554.1 L306.9,553.7 L307.6,553.4 L308.3,553.0 L309.0,552.6 L309.7,552.3 L310.4,551.9 L311.1,551.5 L311.8,551.0 L312.5,550.6 L313.2,550.1 L313.9,549.7 L314.6,549.3 L315.3,549.1 L316.0,548.9 L316.7,548.9 L317.4,549.1 L318.1,549.4 L318.8,549.8 L319.5,550.2 L320.2,550.7 L320.9,551.2 L321.6,551.9 L322.3,552.6 L323.0,553.5 L323.7,554.4 L324.4,555.4 L325.1,556.3 L325.8,557.2 L326.5,558.0 L327.2,558.7 L327.9,559.3 L328.6,559.9 L329.3,560.4 L330.0,560.9 L330.7,561.4" fill="none" stroke="#000" stroke-width="2.1" stroke-linejoin="round"/>
<path d="M64.7,557.1 L65.4,556.7 L66.1,556.6 L66.8,556.6 L67.5,556.2 L68.2,556.9 L68.9,556.1 L69.6,556.0 L70.3,556.0 L71.0,556.8 L71.7,557.8 L72.4,557.6 L73.1,557.2 L73.8,557.5 L74.5,557.3 L75.2,558.4 L75.9,558.3 L76.6,559.5 L77.3,558.2 L78.0,557.9 L78.7,557.2 L79.4,558.4 L80.1,558.1 L80.8,559.1 L81.5,558.9 L82.2,558.6 L82.9,558.0 L83.6,558.1 L84.3,558.8 L85.0,559.1 L85.7,559.2 L86.4,559.2 L87.1,558.8 L87.8,558.8 L88.5,559.3 L89.2,559.3 L89.9,559.5 L90.6,558.8 L91.3,558.5 L92.0,558.6 L92.7,560.0 L93.4,559.8 L94.1,559.3 L94.8,558.4 L95.5,559.3 L96.2,559.8 L96.9,558.8 L97.6,558.1 L98.3,557.6 L99.0,557.6 L99.7,556.4 L100.4,555.9 L101.1,555.6 L101.8,555.8 L102.5,554.6 L103.2,553.6 L103.9,552.8 L104.6,553.5 L105.3,553.7 L106.0,553.0 L106.7,552.4 L107.4,551.5 L108.1,551.5 L108.8,551.1 L109.5,551.3 L110.2,551.3 L110.9,551.8 L111.6,552.3 L112.3,551.6 L113.0,551.9 L113.7,552.0 L114.4,552.6 L115.1,552.3 L115.8,552.5 L116.5,553.5 L117.2,553.3 L117.9,552.7 L118.6,551.6 L119.3,551.9 L120.0,551.9 L120.7,552.8 L121.4,552.8 L122.1,553.5 L122.8,553.0 L123.5,552.7 L124.2,552.0 L124.9,552.4 L125.6,552.2 L126.3,552.8 L127.0,552.7 L127.7,553.3 L128.4,553.6 L129.1,553.2 L129.8,552.9 L130.5,552.4 L131.2,552.1 L131.9,552.3 L132.6,552.2 L133.3,552.9 L134.0,552.7 L134.7,553.0 L135.4,552.6 L136.1,552.6 L136.8,552.2 L137.5,552.6 L138.2,553.2 L138.9,553.4 L139.6,552.5 L140.3,551.8 L141.0,551.3 L141.7,551.0 L142.4,551.0 L143.1,551.3 L143.8,552.3 L144.5,552.9 L145.2,553.1 L145.9,552.7 L146.6,552.2 L147.3,552.1 L148.0,552.3 L148.7,552.2 L149.4,552.2 L150.1,552.1 L150.8,552.2 L151.5,552.6 L152.2,553.2 L152.9,553.1 L153.6,552.8 L154.3,552.5 L155.0,552.9 L155.7,552.2 L156.4,552.5 L157.1,552.4 L157.8,553.2 L158.5,553.4 L159.2,553.3 L159.9,552.7 L160.6,551.8 L161.3,551.4 L162.0,551.6 L162.7,551.6 L163.4,551.1 L164.1,551.0 L164.8,550.8 L165.5,550.8 L166.2,550.1 L166.9,549.5 L167.6,549.2 L168.3,550.3 L169.0,550.0 L169.7,549.3 L170.4,547.9 L171.1,548.5 L171.8,549.8 L172.5,550.2 L173.2,550.5 L173.9,549.8 L174.6,550.2 L175.3,549.4 L176.0,549.1 L176.7,549.7 L177.4,550.0 L178.1,550.8 L178.8,550.5 L179.5,550.9 L180.2,550.7 L180.9,549.8 L181.6,550.4 L182.3,550.2 L183.0,550.2 L183.7,549.9 L184.4,550.6 L185.1,552.0 L185.8,553.3 L186.5,553.9 L187.2,554.3 L187.9,554.1 L188.6,553.8 L189.3,554.1 L190.0,554.6 L190.7,555.3 L191.4,556.3 L192.1,557.0 L192.8,557.6 L193.5,557.0 L194.2,555.9 L194.9,555.3 L195.6,553.8 L196.3,553.0 L197.0,552.1 L197.7,552.6 L198.4,552.8 L199.1,552.8 L199.8,553.1 L200.5,553.2 L201.2,553.2 L201.9,552.7 L202.6,552.2 L203.3,551.9 L204.0,552.4 L204.7,552.9 L205.4,553.7 L206.1,553.2 L206.8,553.5 L207.5,552.9 L208.2,553.0 L208.9,552.5 L209.6,553.2 L210.3,554.3 L211.0,554.3 L211.7,554.7 L212.4,554.0 L213.1,554.9 L213.8,554.8 L214.5,554.8 L215.2,555.0 L215.9,554.7 L216.6,556.0 L217.3,555.7 L218.0,556.1 L218.7,555.3 L219.4,555.4 L220.1,554.9 L220.8,553.8 L221.5,554.2 L222.2,554.0 L222.9,554.6 L223.6,553.0 L224.3,552.9 L225.0,552.1 L225.7,552.4 L226.4,551.8 L227.1,551.4 L227.8,551.3 L228.5,551.5 L229.2,552.4 L229.9,552.1 L230.6,551.8 L231.3,551.5 L232.0,551.2 L232.7,552.4 L233.4,553.0 L234.1,554.0 L234.8,553.5 L235.5,552.8 L236.2,552.3 L236.9,552.2 L237.6,552.0 L238.3,552.2 L239.0,552.8 L239.7,553.7 L240.4,552.7 L241.1,553.3 L241.8,553.0 L242.5,553.4 L243.2,552.4 L243.9,552.9 L244.6,553.8 L245.3,553.9 L246.0,553.4 L246.7,554.1 L247.4,554.5 L248.1,555.2 L248.8,554.8 L249.5,554.9 L250.2,555.5 L250.9,556.9 L251.6,557.6 L252.3,557.1 L253.0,556.5 L253.7,556.8 L254.4,556.8 L255.1,557.7 L255.8,557.7 L256.5,559.1 L257.2,558.9 L257.9,559.4 L258.6,558.8 L259.3,559.4 L260.0,559.8 L260.7,561.2 L261.4,560.8 L262.1,560.8 L262.8,560.0 L263.5,560.6 L264.2,560.5 L264.9,560.0 L265.6,559.4 L266.3,558.7 L267.0,558.5 L267.7,558.3 L268.4,558.8 L269.1,558.2 L269.8,557.7 L270.5,556.5 L271.2,557.5 L271.9,558.1 L272.6,559.2 L273.3,558.7 L274.0,557.5 L274.7,556.3 L275.4,555.9 L276.1,556.2 L276.8,556.1 L277.5,556.1 L278.2,556.0 L278.9,556.1 L279.6,556.8 L280.3,557.0 L281.0,556.3 L281.7,555.5 L282.4,555.2 L283.1,555.8 L283.8,555.6 L284.5,554.9 L285.2,554.5 L285.9,554.5 L286.6,555.9 L287.3,555.8 L288.0,556.0 L288.7,555.2 L289.4,554.5 L290.1,553.2 L290.8,553.1 L291.5,552.9 L292.2,552.9 L292.9,552.2 L293.6,552.1 L294.3,552.8 L295.0,552.8 L295.7,553.5 L296.4,553.1 L297.1,552.1 L297.8,552.0 L298.5,551.9 L299.2,552.5 L299.9,551.8 L300.6,551.5 L301.3,550.7 L302.0,551.1 L302.7,551.6 L303.4,552.2 L304.1,552.0 L304.8,552.0 L305.5,551.8 L306.2,551.3 L306.9,551.3 L307.6,551.6 L308.3,552.0 L309.0,552.2 L309.7,552.7 L310.4,553.9 L311.1,553.6 L311.8,553.2 L312.5,552.9 L313.2,553.1 L313.9,552.9 L314.6,552.5 L315.3,553.1 L316.0,553.6 L316.7,553.9 L317.4,553.1 L318.1,553.2 L318.8,553.5 L319.5,554.0 L320.2,554.7 L320.9,554.4 L321.6,554.5 L322.3,553.6 L323.0,554.0 L323.7,554.0 L324.4,554.6 L325.1,554.6 L325.8,554.2 L326.5,554.2 L327.2,553.8 L327.9,554.7 L328.6,554.8 L329.3,556.0 L330.0,556.1 L330.7,556.7 L330.7,569.5 L330.0,569.9 L329.3,570.0 L328.6,568.8 L327.9,568.5 L327.2,569.0 L326.5,569.0 L325.8,567.8 L325.1,567.3 L324.4,567.1 L323.7,567.8 L323.0,567.8 L322.3,568.3 L321.6,568.4 L320.9,567.7 L320.2,567.0 L319.5,566.6 L318.8,566.9 L318.1,567.9 L317.4,568.8 L316.7,568.5 L316.0,568.2 L315.3,567.3 L314.6,567.1 L313.9,567.4 L313.2,567.3 L312.5,568.0 L311.8,567.7 L311.1,569.7 L310.4,570.0 L309.7,569.5 L309.0,567.3 L308.3,566.8 L307.6,566.6 L306.9,567.1 L306.2,567.1 L305.5,567.0 L304.8,567.0 L304.1,566.1 L303.4,566.5 L302.7,565.8 L302.0,566.6 L301.3,566.8 L300.6,567.0 L299.9,566.2 L299.2,565.1 L298.5,565.2 L297.8,566.1 L297.1,566.8 L296.4,567.2 L295.7,566.6 L295.0,566.7 L294.3,566.4 L293.6,566.8 L292.9,567.1 L292.2,567.2 L291.5,567.2 L290.8,567.7 L290.1,567.9 L289.4,568.8 L288.7,569.2 L288.0,569.3 L287.3,569.2 L286.6,569.5 L285.9,570.3 L285.2,570.1 L284.5,570.5 L283.8,570.8 L283.1,572.0 L282.4,571.8 L281.7,571.8 L281.0,571.6 L280.3,571.3 L279.6,571.8 L278.9,572.2 L278.2,572.4 L277.5,572.2 L276.8,572.5 L276.1,572.9 L275.4,573.2 L274.7,573.2 L274.0,572.3 L273.3,572.3 L272.6,571.8 L271.9,573.0 L271.2,572.7 L270.5,572.8 L269.8,572.5 L269.1,573.8 L268.4,573.6 L267.7,573.8 L267.0,572.6 L266.3,574.0 L265.6,574.6 L264.9,575.7 L264.2,575.4 L263.5,575.0 L262.8,574.8 L262.1,575.1 L261.4,575.8 L260.7,576.8 L260.0,576.4 L259.3,576.5 L258.6,575.8 L257.9,575.2 L257.2,574.8 L256.5,574.2 L255.8,574.0 L255.1,574.4 L254.4,574.0 L253.7,574.4 L253.0,573.4 L252.3,573.1 L251.6,572.5 L250.9,571.4 L250.2,571.5 L249.5,571.4 L248.8,572.7 L248.1,572.2 L247.4,572.1 L246.7,571.1 L246.0,571.2 L245.3,569.9 L244.6,569.3 L243.9,569.2 L243.2,570.0 L242.5,569.7 L241.8,568.7 L241.1,568.3 L240.4,568.3 L239.7,568.7 L239.0,567.8 L238.3,567.0 L237.6,567.0 L236.9,567.5 L236.2,568.8 L235.5,568.8 L234.8,568.6 L234.1,568.0 L233.4,567.8 L232.7,568.0 L232.0,566.8 L231.3,566.7 L230.6,566.5 L229.9,567.4 L229.2,567.6 L228.5,567.6 L227.8,566.5 L227.1,566.0 L226.4,566.3 L225.7,567.4 L225.0,568.5 L224.3,569.1 L223.6,569.9 L222.9,569.7 L222.2,570.0 L221.5,569.8 L220.8,570.3 L220.1,571.0 L219.4,570.6 L218.7,570.4 L218.0,570.1 L217.3,571.8 L216.6,571.2 L215.9,571.5 L215.2,571.0 L214.5,572.5 L213.8,572.1 L213.1,572.0 L212.4,569.8 L211.7,569.2 L211.0,568.2 L210.3,569.5 L209.6,569.4 L208.9,570.2 L208.2,569.9 L207.5,569.6 L206.8,568.0 L206.1,567.5 L205.4,567.5 L204.7,567.9 L204.0,568.2 L203.3,568.6 L202.6,568.4 L201.9,567.4 L201.2,567.2 L200.5,568.2 L199.8,569.1 L199.1,569.8 L198.4,569.2 L197.7,568.1 L197.0,568.1 L196.3,568.7 L195.6,570.0 L194.9,570.1 L194.2,569.8 L193.5,570.0 L192.8,570.5 L192.1,570.3 L191.4,571.0 L190.7,570.7 L190.0,571.2 L189.3,570.6 L188.6,570.5 L187.9,570.0 L187.2,569.0 L186.5,567.9 L185.8,566.7 L185.1,565.8 L184.4,565.5 L183.7,564.8 L183.0,564.7 L182.3,564.0 L181.6,564.3 L180.9,564.2 L180.2,564.4 L179.5,563.9 L178.8,564.0 L178.1,563.0 L177.4,563.8 L176.7,564.1 L176.0,565.6 L175.3,565.4 L174.6,564.7 L173.9,563.3 L173.2,563.1 L172.5,563.3 L171.8,563.4 L171.1,563.9 L170.4,563.3 L169.7,563.2 L169.0,562.8 L168.3,563.4 L167.6,563.5 L166.9,564.5 L166.2,564.8 L165.5,565.3 L164.8,565.2 L164.1,565.8 L163.4,566.5 L162.7,567.2 L162.0,567.6 L161.3,567.9 L160.6,567.1 L159.9,567.1 L159.2,566.5 L158.5,567.4 L157.8,567.8 L157.1,567.9 L156.4,567.9 L155.7,567.0 L155.0,567.2 L154.3,566.9 L153.6,567.9 L152.9,567.8 L152.2,567.4 L151.5,566.8 L150.8,567.0 L150.1,566.7 L149.4,565.8 L148.7,565.9 L148.0,566.3 L147.3,567.6 L146.6,567.2 L145.9,566.4 L145.2,565.1 L144.5,565.1 L143.8,565.6 L143.1,565.6 L142.4,565.2 L141.7,565.0 L141.0,565.3 L140.3,566.1 L139.6,566.2 L138.9,566.5 L138.2,566.0 L137.5,566.0 L136.8,565.5 L136.1,566.2 L135.4,566.2 L134.7,566.9 L134.0,566.4 L133.3,565.5 L132.6,565.5 L131.9,565.9 L131.2,566.7 L130.5,566.2 L129.8,566.0 L129.1,565.8 L128.4,566.5 L127.7,567.1 L127.0,567.2 L126.3,567.1 L125.6,566.1 L124.9,566.4 L124.2,565.9 L123.5,566.7 L122.8,567.1 L122.1,567.8 L121.4,567.7 L120.7,568.1 L120.0,567.7 L119.3,567.2 L118.6,567.0 L117.9,567.1 L117.2,567.4 L116.5,567.4 L115.8,567.9 L115.1,568.0 L114.4,567.6 L113.7,567.1 L113.0,566.2 L112.3,565.4 L111.6,565.1 L110.9,564.6 L110.2,565.3 L109.5,565.2 L108.8,565.6 L108.1,566.3 L107.4,566.4 L106.7,567.1 L106.0,566.7 L105.3,567.1 L104.6,567.7 L103.9,568.1 L103.2,569.3 L102.5,569.9 L101.8,570.9 L101.1,571.7 L100.4,572.0 L99.7,572.1 L99.0,572.0 L98.3,572.0 L97.6,572.1 L96.9,572.3 L96.2,573.4 L95.5,574.2 L94.8,573.9 L94.1,574.2 L93.4,573.6 L92.7,573.8 L92.0,572.8 L91.3,572.9 L90.6,573.7 L89.9,574.0 L89.2,574.5 L88.5,574.6 L87.8,574.5 L87.1,573.6 L86.4,573.0 L85.7,572.6 L85.0,573.3 L84.3,574.1 L83.6,574.9 L82.9,574.6 L82.2,573.9 L81.5,573.5 L80.8,573.6 L80.1,573.5 L79.4,573.9 L78.7,573.4 L78.0,573.4 L77.3,573.3 L76.6,574.3 L75.9,574.8 L75.2,574.4 L74.5,573.5 L73.8,573.1 L73.1,573.0 L72.4,572.9 L71.7,573.0 L71.0,573.0 L70.3,573.0 L69.6,572.0 L68.9,571.8 L68.2,572.1 L67.5,573.0 L66.8,573.2 L66.1,572.6 L65.4,572.2 L64.7,571.9Z" fill="rgba(245,120,120,0.32)" stroke="none"/>
<path d="M64.7,564.3 L65.4,564.7 L66.1,564.1 L66.8,564.1 L67.5,564.1 L68.2,563.9 L68.9,564.0 L69.6,563.9 L70.3,564.2 L71.0,564.4 L71.7,564.9 L72.4,565.5 L73.1,565.3 L73.8,564.8 L74.5,565.2 L75.2,565.1 L75.9,564.3 L76.6,565.2 L77.3,566.1 L78.0,566.2 L78.7,566.1 L79.4,565.5 L80.1,565.5 L80.8,566.1 L81.5,566.1 L82.2,565.8 L82.9,565.7 L83.6,565.7 L84.3,566.4 L85.0,567.0 L85.7,566.5 L86.4,566.1 L87.1,566.3 L87.8,566.9 L88.5,566.7 L89.2,566.6 L89.9,566.3 L90.6,565.9 L91.3,566.6 L92.0,567.2 L92.7,566.6 L93.4,565.9 L94.1,566.3 L94.8,566.2 L95.5,565.5 L96.2,565.5 L96.9,565.5 L97.6,565.4 L98.3,565.3 L99.0,564.5 L99.7,563.9 L100.4,563.7 L101.1,563.0 L101.8,562.2 L102.5,562.3 L103.2,561.6 L103.9,561.0 L104.6,561.0 L105.3,560.1 L106.0,559.7 L106.7,559.6 L107.4,559.5 L108.1,559.2 L108.8,558.8 L109.5,558.9 L110.2,559.6 L110.9,560.0 L111.6,559.2 L112.3,558.9 L113.0,559.0 L113.7,559.2 L114.4,559.6 L115.1,560.4 L115.8,559.8 L116.5,559.5 L117.2,560.3 L117.9,559.8 L118.6,559.7 L119.3,559.8 L120.0,559.8 L120.7,560.3 L121.4,559.8 L122.1,559.9 L122.8,560.2 L123.5,560.2 L124.2,560.4 L124.9,560.3 L125.6,560.3 L126.3,560.2 L127.0,560.0 L127.7,559.4 L128.4,559.5 L129.1,560.0 L129.8,560.3 L130.5,559.5 L131.2,558.7 L131.9,559.6 L132.6,559.2 L133.3,558.8 L134.0,559.8 L134.7,560.2 L135.4,559.3 L136.1,559.2 L136.8,559.8 L137.5,559.6 L138.2,559.4 L138.9,559.2 L139.6,558.8 L140.3,558.6 L141.0,559.1 L141.7,559.3 L142.4,559.6 L143.1,559.5 L143.8,558.3 L144.5,558.3 L145.2,559.1 L145.9,559.4 L146.6,559.4 L147.3,559.1 L148.0,559.5 L148.7,559.6 L149.4,559.5 L150.1,559.6 L150.8,559.1 L151.5,559.7 L152.2,559.3 L152.9,558.7 L153.6,559.6 L154.3,559.8 L155.0,559.9 L155.7,560.1 L156.4,559.7 L157.1,560.4 L157.8,560.5 L158.5,559.9 L159.2,559.6 L159.9,559.4 L160.6,559.9 L161.3,560.1 L162.0,559.7 L162.7,559.0 L163.4,558.8 L164.1,558.1 L164.8,557.4 L165.5,557.5 L166.2,557.0 L166.9,556.9 L167.6,556.9 L168.3,556.5 L169.0,557.3 L169.7,557.8 L170.4,557.6 L171.1,557.4 L171.8,557.3 L172.5,557.5 L173.2,557.6 L173.9,558.1 L174.6,557.6 L175.3,557.0 L176.0,557.1 L176.7,555.9 L177.4,555.5 L178.1,556.6 L178.8,557.2 L179.5,557.0 L180.2,557.2 L180.9,557.8 L181.6,557.6 L182.3,558.0 L183.0,559.0 L183.7,559.2 L184.4,559.0 L185.1,559.9 L185.8,560.7 L186.5,560.8 L187.2,561.5 L187.9,562.0 L188.6,562.8 L189.3,563.7 L190.0,564.1 L190.7,564.3 L191.4,563.9 L192.1,563.7 L192.8,564.1 L193.5,563.7 L194.2,563.9 L194.9,563.5 L195.6,561.9 L196.3,561.8 L197.0,561.8 L197.7,561.1 L198.4,560.6 L199.1,560.8 L199.8,561.1 L200.5,561.2 L201.2,560.8 L201.9,560.7 L202.6,561.1 L203.3,561.2 L204.0,560.0 L204.7,559.5 L205.4,560.2 L206.1,560.4 L206.8,560.7 L207.5,561.1 L208.2,561.3 L208.9,561.2 L209.6,561.3 L210.3,562.2 L211.0,562.4 L211.7,562.4 L212.4,563.4 L213.1,563.8 L213.8,563.0 L214.5,563.2 L215.2,563.9 L215.9,563.7 L216.6,564.1 L217.3,564.2 L218.0,563.6 L218.7,563.5 L219.4,563.4 L220.1,562.9 L220.8,562.5 L221.5,562.2 L222.2,561.7 L222.9,561.1 L223.6,560.9 L224.3,560.4 L225.0,559.8 L225.7,560.2 L226.4,560.3 L227.1,559.7 L227.8,559.6 L228.5,559.6 L229.2,559.6 L229.9,559.6 L230.6,559.4 L231.3,559.7 L232.0,559.8 L232.7,559.8 L233.4,559.5 L234.1,558.9 L234.8,559.9 L235.5,560.2 L236.2,559.8 L236.9,560.0 L237.6,560.0 L238.3,560.0 L239.0,559.7 L239.7,559.7 L240.4,560.2 L241.1,560.6 L241.8,561.2 L242.5,560.9 L243.2,561.3 L243.9,561.6 L244.6,560.8 L245.3,560.6 L246.0,562.0 L246.7,563.0 L247.4,562.7 L248.1,562.9 L248.8,563.1 L249.5,564.1 L250.2,564.7 L250.9,565.2 L251.6,565.5 L252.3,564.6 L253.0,565.2 L253.7,566.0 L254.4,565.9 L255.1,566.7 L255.8,567.0 L256.5,567.1 L257.2,567.4 L257.9,567.0 L258.6,567.4 L259.3,567.6 L260.0,568.0 L260.7,568.6 L261.4,568.4 L262.1,568.4 L262.8,568.6 L263.5,568.2 L264.2,568.2 L264.9,568.0 L265.6,567.7 L266.3,567.1 L267.0,566.6 L267.7,566.7 L268.4,566.0 L269.1,565.4 L269.8,565.2 L270.5,565.3 L271.2,565.0 L271.9,564.8 L272.6,565.4 L273.3,565.3 L274.0,564.2 L274.7,564.1 L275.4,564.8 L276.1,564.6 L276.8,564.6 L277.5,564.8 L278.2,564.5 L278.9,564.1 L279.6,563.7 L280.3,563.6 L281.0,563.6 L281.7,563.7 L282.4,563.6 L283.1,563.2 L283.8,562.8 L284.5,562.8 L285.2,562.1 L285.9,561.5 L286.6,561.5 L287.3,561.4 L288.0,561.3 L288.7,561.1 L289.4,560.7 L290.1,560.8 L290.8,561.0 L291.5,560.1 L292.2,559.8 L292.9,559.8 L293.6,560.1 L294.3,560.2 L295.0,559.3 L295.7,559.3 L296.4,559.2 L297.1,559.0 L297.8,559.4 L298.5,559.4 L299.2,559.1 L299.9,559.3 L300.6,558.7 L301.3,558.8 L302.0,559.3 L302.7,559.2 L303.4,558.8 L304.1,558.8 L304.8,559.3 L305.5,559.1 L306.2,559.8 L306.9,560.3 L307.6,559.7 L308.3,559.8 L309.0,560.3 L309.7,560.7 L310.4,560.8 L311.1,560.9 L311.8,561.3 L312.5,560.7 L313.2,560.2 L313.9,560.3 L314.6,560.5 L315.3,561.2 L316.0,561.3 L316.7,560.6 L317.4,560.3 L318.1,560.9 L318.8,560.9 L319.5,560.5 L320.2,560.8 L320.9,560.3 L321.6,560.4 L322.3,561.0 L323.0,561.0 L323.7,560.6 L324.4,560.2 L325.1,560.3 L325.8,560.7 L326.5,561.0 L327.2,561.1 L327.9,561.9 L328.6,562.5 L329.3,562.1 L330.0,561.8 L330.7,562.9" fill="none" stroke="#e3202a" stroke-width="1.8" stroke-linejoin="round"/>
<path d="M64.7,550.0 L65.4,550.7 L66.1,551.2 L66.8,550.7 L67.5,551.6 L68.2,551.5 L68.9,552.1 L69.6,551.9 L70.3,551.6 L71.0,551.5 L71.7,551.4 L72.4,551.8 L73.1,553.0 L73.8,552.7 L74.5,553.1 L75.2,552.9 L75.9,552.8 L76.6,552.8 L77.3,552.5 L78.0,552.8 L78.7,553.4 L79.4,553.5 L80.1,553.1 L80.8,552.7 L81.5,551.7 L82.2,551.4 L82.9,550.3 L83.6,550.9 L84.3,550.8 L85.0,550.9 L85.7,550.8 L86.4,551.0 L87.1,552.2 L87.8,551.7 L88.5,552.4 L89.2,552.7 L89.9,553.8 L90.6,553.9 L91.3,552.9 L92.0,552.8 L92.7,552.2 L93.4,552.5 L94.1,550.7 L94.8,549.9 L95.5,548.0 L96.2,548.4 L96.9,547.6 L97.6,547.8 L98.3,545.8 L99.0,544.4 L99.7,543.3 L100.4,543.1 L101.1,543.5 L101.8,544.0 L102.5,545.1 L103.2,546.8 L103.9,548.7 L104.6,550.2 L105.3,551.0 L106.0,552.5 L106.7,554.4 L107.4,556.2 L108.1,556.8 L108.8,557.3 L109.5,556.1 L110.2,552.5 L110.9,547.1 L111.6,542.0 L112.3,536.2 L113.0,531.4 L113.7,529.0 L114.4,529.8 L115.1,531.4 L115.8,533.9 L116.5,536.7 L117.2,540.2 L117.9,542.9 L118.6,545.8 L119.3,549.6 L120.0,552.8 L120.7,556.6 L121.4,557.8 L122.1,559.1 L122.8,558.9 L123.5,559.7 L124.2,559.5 L124.9,558.6 L125.6,557.3 L126.3,556.2 L127.0,555.9 L127.7,555.0 L128.4,554.7 L129.1,553.9 L129.8,553.6 L130.5,552.2 L131.2,550.4 L131.9,549.6 L132.6,548.2 L133.3,547.2 L134.0,546.1 L134.7,546.3 L135.4,546.1 L136.1,544.8 L136.8,544.1 L137.5,543.9 L138.2,543.6 L138.9,543.9 L139.6,543.2 L140.3,542.8 L141.0,542.0 L141.7,541.9 L142.4,542.3 L143.1,542.4 L143.8,542.8 L144.5,543.5 L145.2,544.0 L145.9,544.2 L146.6,543.2 L147.3,541.9 L148.0,540.9 L148.7,540.7 L149.4,540.4 L150.1,539.5 L150.8,537.6 L151.5,536.2 L152.2,535.5 L152.9,536.1 L153.6,536.1 L154.3,536.7 L155.0,537.6 L155.7,539.2 L156.4,540.1 L157.1,541.7 L157.8,542.4 L158.5,543.8 L159.2,545.0 L159.9,546.8 L160.6,548.8 L161.3,550.5 L162.0,552.2 L162.7,553.6 L163.4,553.8 L164.1,554.1 L164.8,553.8 L165.5,553.9 L166.2,555.4 L166.9,555.7 L167.6,556.8 L168.3,555.7 L169.0,556.2 L169.7,555.6 L170.4,555.2 L171.1,555.6 L171.8,555.6 L172.5,556.3 L173.2,556.4 L173.9,556.2 L174.6,556.2 L175.3,555.7 L176.0,556.2 L176.7,555.0 L177.4,555.0 L178.1,555.4 L178.8,557.1 L179.5,557.2 L180.2,556.7 L180.9,556.5 L181.6,556.9 L182.3,556.7 L183.0,557.1 L183.7,557.5 L184.4,558.3 L185.1,558.6 L185.8,558.1 L186.5,558.0 L187.2,558.5 L187.9,559.3 L188.6,560.2 L189.3,560.6 L190.0,562.6 L190.7,564.5 L191.4,567.0 L192.1,569.1 L192.8,570.8 L193.5,572.2 L194.2,572.5 L194.9,572.2 L195.6,571.5 L196.3,570.3 L197.0,569.8 L197.7,569.3 L198.4,567.9 L199.1,567.3 L199.8,566.4 L200.5,566.1 L201.2,564.8 L201.9,563.8 L202.6,563.1 L203.3,561.9 L204.0,560.7 L204.7,559.8 L205.4,559.0 L206.1,558.5 L206.8,557.5 L207.5,556.6 L208.2,556.1 L208.9,554.7 L209.6,553.2 L210.3,551.3 L211.0,550.4 L211.7,550.9 L212.4,550.4 L213.1,550.7 L213.8,549.7 L214.5,549.0 L215.2,548.6 L215.9,547.7 L216.6,547.8 L217.3,547.0 L218.0,547.2 L218.7,546.7 L219.4,546.4 L220.1,545.3 L220.8,544.7 L221.5,544.8 L222.2,545.2 L222.9,545.7 L223.6,545.5 L224.3,545.7 L225.0,545.6 L225.7,545.3 L226.4,545.7 L227.1,546.2 L227.8,546.2 L228.5,546.3 L229.2,546.7 L229.9,546.6 L230.6,545.8 L231.3,546.3 L232.0,547.6 L232.7,548.1 L233.4,547.9 L234.1,547.5 L234.8,547.8 L235.5,547.1 L236.2,548.0 L236.9,548.6 L237.6,549.3 L238.3,547.8 L239.0,547.0 L239.7,547.1 L240.4,547.3 L241.1,546.9 L241.8,546.2 L242.5,546.5 L243.2,546.5 L243.9,545.9 L244.6,545.6 L245.3,545.5 L246.0,546.0 L246.7,546.1 L247.4,546.6 L248.1,546.4 L248.8,546.4 L249.5,546.0 L250.2,545.7 L250.9,545.3 L251.6,544.8 L252.3,545.7 L253.0,545.6 L253.7,546.0 L254.4,545.6 L255.1,546.0 L255.8,545.1 L256.5,544.1 L257.2,543.8 L257.9,544.3 L258.6,544.3 L259.3,543.8 L260.0,542.3 L260.7,542.5 L261.4,542.8 L262.1,543.2 L262.8,542.4 L263.5,541.4 L264.2,540.9 L264.9,540.0 L265.6,540.2 L266.3,540.8 L267.0,542.5 L267.7,542.4 L268.4,542.1 L269.1,541.7 L269.8,541.6 L270.5,542.2 L271.2,541.8 L271.9,542.4 L272.6,543.2 L273.3,544.3 L274.0,545.3 L274.7,545.9 L275.4,545.7 L276.1,545.0 L276.8,543.7 L277.5,544.0 L278.2,544.7 L278.9,546.1 L279.6,545.8 L280.3,545.8 L281.0,545.7 L281.7,546.0 L282.4,546.1 L283.1,546.8 L283.8,547.0 L284.5,547.3 L285.2,546.9 L285.9,547.5 L286.6,547.1 L287.3,546.5 L288.0,545.8 L288.7,547.2 L289.4,548.3 L290.1,548.9 L290.8,549.2 L291.5,549.4 L292.2,550.8 L292.9,549.9 L293.6,549.4 L294.3,548.8 L295.0,549.8 L295.7,550.6 L296.4,551.2 L297.1,551.4 L297.8,551.7 L298.5,551.3 L299.2,552.0 L299.9,552.2 L300.6,552.4 L301.3,552.4 L302.0,551.9 L302.7,552.7 L303.4,553.7 L304.1,553.8 L304.8,554.3 L305.5,553.1 L306.2,554.0 L306.9,554.3 L307.6,554.7 L308.3,554.0 L309.0,553.3 L309.7,553.9 L310.4,553.7 L311.1,554.4 L311.8,554.1 L312.5,554.7 L313.2,554.3 L313.9,553.8 L314.6,553.7 L315.3,553.4 L316.0,553.5 L316.7,553.9 L317.4,554.6 L318.1,555.0 L318.8,554.6 L319.5,554.0 L320.2,554.6 L320.9,554.1 L321.6,553.9 L322.3,553.2 L323.0,553.9 L323.7,554.1 L324.4,554.1 L325.1,553.1 L325.8,552.9 L326.5,552.2 L327.2,552.4 L327.9,551.5 L328.6,552.4 L329.3,552.4 L330.0,552.4 L330.7,551.8 L330.7,569.8 L330.0,570.1 L329.3,570.1 L328.6,570.9 L327.9,571.3 L327.2,571.9 L326.5,572.7 L325.8,572.3 L325.1,572.7 L324.4,572.4 L323.7,573.4 L323.0,572.8 L322.3,573.5 L321.6,573.8 L320.9,574.5 L320.2,574.2 L319.5,574.3 L318.8,574.9 L318.1,574.8 L317.4,574.8 L316.7,574.3 L316.0,575.2 L315.3,575.0 L314.6,575.2 L313.9,575.1 L313.2,574.3 L312.5,573.7 L311.8,572.8 L311.1,573.4 L310.4,573.7 L309.7,573.5 L309.0,574.0 L308.3,573.4 L307.6,573.8 L306.9,572.8 L306.2,573.6 L305.5,573.7 L304.8,574.2 L304.1,573.4 L303.4,573.0 L302.7,572.8 L302.0,573.1 L301.3,572.8 L300.6,573.5 L299.9,574.0 L299.2,574.0 L298.5,572.8 L297.8,571.5 L297.1,571.3 L296.4,571.7 L295.7,572.1 L295.0,572.7 L294.3,571.8 L293.6,570.6 L292.9,569.7 L292.2,569.0 L291.5,569.6 L290.8,569.5 L290.1,570.5 L289.4,570.8 L288.7,571.2 L288.0,570.4 L287.3,569.5 L286.6,567.9 L285.9,567.2 L285.2,567.1 L284.5,567.4 L283.8,567.8 L283.1,567.6 L282.4,567.5 L281.7,567.1 L281.0,568.1 L280.3,567.5 L279.6,567.0 L278.9,565.7 L278.2,566.3 L277.5,566.4 L276.8,566.6 L276.1,567.2 L275.4,567.7 L274.7,567.9 L274.0,567.4 L273.3,566.6 L272.6,566.2 L271.9,565.4 L271.2,564.6 L270.5,564.4 L269.8,563.1 L269.1,562.7 L268.4,561.2 L267.7,561.8 L267.0,562.3 L266.3,563.1 L265.6,563.2 L264.9,563.5 L264.2,563.3 L263.5,563.5 L262.8,563.2 L262.1,563.3 L261.4,563.3 L260.7,563.9 L260.0,564.4 L259.3,565.1 L258.6,566.0 L257.9,566.3 L257.2,567.0 L256.5,567.6 L255.8,568.4 L255.1,568.6 L254.4,569.1 L253.7,569.3 L253.0,569.1 L252.3,568.2 L251.6,567.7 L250.9,567.5 L250.2,567.6 L249.5,568.1 L248.8,568.6 L248.1,568.7 L247.4,568.7 L246.7,569.1 L246.0,569.6 L245.3,569.6 L244.6,569.3 L243.9,569.8 L243.2,569.3 L242.5,569.6 L241.8,570.0 L241.1,570.8 L240.4,571.2 L239.7,571.3 L239.0,570.9 L238.3,571.0 L237.6,570.7 L236.9,571.0 L236.2,571.1 L235.5,571.2 L234.8,571.4 L234.1,571.1 L233.4,570.2 L232.7,569.8 L232.0,569.8 L231.3,570.3 L230.6,569.9 L229.9,569.9 L229.2,569.3 L228.5,568.8 L227.8,568.2 L227.1,568.7 L226.4,568.5 L225.7,568.3 L225.0,568.1 L224.3,568.5 L223.6,569.0 L222.9,568.7 L222.2,569.0 L221.5,569.5 L220.8,569.6 L220.1,569.6 L219.4,570.2 L218.7,570.6 L218.0,571.1 L217.3,570.7 L216.6,571.6 L215.9,571.5 L215.2,571.1 L214.5,571.4 L213.8,572.3 L213.1,572.9 L212.4,573.7 L211.7,574.1 L211.0,576.0 L210.3,576.7 L209.6,577.9 L208.9,578.0 L208.2,578.3 L207.5,579.2 L206.8,580.5 L206.1,582.0 L205.4,583.5 L204.7,584.4 L204.0,585.5 L203.3,586.6 L202.6,587.8 L201.9,588.7 L201.2,589.8 L200.5,590.2 L199.8,591.1 L199.1,591.9 L198.4,592.9 L197.7,594.3 L197.0,594.4 L196.3,595.6 L195.6,595.6 L194.9,596.9 L194.2,596.9 L193.5,595.6 L192.8,593.6 L192.1,591.6 L191.4,590.4 L190.7,588.3 L190.0,586.8 L189.3,584.9 L188.6,583.6 L187.9,581.7 L187.2,581.1 L186.5,580.2 L185.8,580.0 L185.1,579.3 L184.4,579.4 L183.7,580.1 L183.0,580.4 L182.3,580.0 L181.6,579.1 L180.9,577.8 L180.2,577.6 L179.5,576.6 L178.8,576.6 L178.1,576.4 L177.4,577.0 L176.7,577.2 L176.0,576.9 L175.3,576.8 L174.6,577.8 L173.9,577.8 L173.2,577.7 L172.5,576.8 L171.8,576.9 L171.1,577.0 L170.4,576.9 L169.7,576.8 L169.0,576.6 L168.3,576.8 L167.6,576.5 L166.9,575.8 L166.2,575.0 L165.5,574.6 L164.8,574.4 L164.1,574.2 L163.4,572.9 L162.7,572.0 L162.0,571.3 L161.3,570.4 L160.6,569.4 L159.9,567.3 L159.2,566.2 L158.5,564.0 L157.8,562.7 L157.1,561.1 L156.4,560.3 L155.7,558.5 L155.0,557.2 L154.3,556.0 L153.6,556.3 L152.9,556.0 L152.2,555.9 L151.5,556.1 L150.8,557.1 L150.1,558.6 L149.4,559.7 L148.7,560.8 L148.0,562.1 L147.3,563.5 L146.6,564.7 L145.9,565.6 L145.2,564.6 L144.5,564.0 L143.8,563.3 L143.1,564.3 L142.4,564.4 L141.7,563.8 L141.0,563.3 L140.3,563.5 L139.6,564.1 L138.9,564.5 L138.2,564.5 L137.5,564.4 L136.8,564.6 L136.1,566.1 L135.4,566.8 L134.7,568.0 L134.0,567.7 L133.3,568.6 L132.6,569.8 L131.9,570.7 L131.2,572.1 L130.5,573.0 L129.8,574.8 L129.1,575.0 L128.4,576.5 L127.7,577.3 L127.0,579.1 L126.3,580.9 L125.6,581.9 L124.9,584.1 L124.2,584.8 L123.5,585.3 L122.8,585.1 L122.1,584.4 L121.4,582.4 L120.7,580.1 L120.0,576.1 L119.3,573.8 L118.6,570.9 L117.9,569.1 L117.2,565.7 L116.5,562.8 L115.8,559.9 L115.1,557.6 L114.4,555.8 L113.7,555.8 L113.0,559.3 L112.3,564.1 L111.6,568.8 L110.9,572.6 L110.2,576.9 L109.5,580.0 L108.8,581.6 L108.1,580.6 L107.4,578.9 L106.7,576.8 L106.0,574.5 L105.3,573.0 L104.6,571.1 L103.9,569.3 L103.2,566.2 L102.5,563.8 L101.8,562.4 L101.1,562.2 L100.4,563.3 L99.7,564.6 L99.0,566.0 L98.3,566.3 L97.6,567.1 L96.9,568.3 L96.2,569.3 L95.5,569.9 L94.8,570.1 L94.1,570.4 L93.4,570.8 L92.7,571.4 L92.0,572.0 L91.3,571.7 L90.6,571.1 L89.9,571.0 L89.2,570.5 L88.5,570.3 L87.8,571.1 L87.1,571.2 L86.4,570.9 L85.7,569.6 L85.0,569.4 L84.3,568.4 L83.6,568.5 L82.9,569.2 L82.2,571.4 L81.5,571.6 L80.8,571.1 L80.1,571.2 L79.4,571.6 L78.7,571.7 L78.0,572.1 L77.3,572.3 L76.6,572.9 L75.9,571.8 L75.2,570.6 L74.5,570.9 L73.8,570.5 L73.1,569.7 L72.4,568.8 L71.7,568.9 L71.0,570.3 L70.3,570.4 L69.6,569.9 L68.9,569.9 L68.2,569.8 L67.5,570.3 L66.8,569.8 L66.1,568.8 L65.4,568.3 L64.7,568.6Z" fill="rgba(110,110,235,0.33)" stroke="none"/>
<path d="M64.7,558.9 L65.4,558.9 L66.1,559.7 L66.8,560.1 L67.5,559.7 L68.2,559.8 L68.9,560.0 L69.6,560.7 L70.3,561.1 L71.0,561.2 L71.7,560.3 L72.4,560.3 L73.1,561.8 L73.8,562.6 L74.5,562.6 L75.2,561.8 L75.9,562.3 L76.6,562.8 L77.3,562.2 L78.0,562.3 L78.7,563.0 L79.4,563.3 L80.1,562.8 L80.8,561.6 L81.5,561.6 L82.2,561.1 L82.9,559.9 L83.6,559.6 L84.3,560.0 L85.0,560.6 L85.7,560.7 L86.4,560.7 L87.1,560.7 L87.8,561.0 L88.5,560.7 L89.2,561.2 L89.9,562.3 L90.6,562.0 L91.3,561.9 L92.0,562.1 L92.7,562.5 L93.4,562.2 L94.1,561.2 L94.8,560.3 L95.5,559.1 L96.2,558.3 L96.9,558.0 L97.6,557.1 L98.3,555.9 L99.0,554.7 L99.7,553.6 L100.4,552.5 L101.1,552.3 L101.8,552.9 L102.5,554.2 L103.2,556.2 L103.9,557.8 L104.6,559.9 L105.3,561.7 L106.0,563.3 L106.7,565.6 L107.4,567.4 L108.1,568.7 L108.8,568.7 L109.5,568.3 L110.2,565.6 L110.9,560.7 L111.6,555.3 L112.3,550.3 L113.0,546.3 L113.7,543.6 L114.4,542.9 L115.1,544.1 L115.8,547.0 L116.5,550.5 L117.2,553.6 L117.9,555.8 L118.6,558.6 L119.3,561.6 L120.0,564.4 L120.7,567.5 L121.4,569.7 L122.1,571.9 L122.8,573.4 L123.5,572.9 L124.2,571.9 L124.9,571.1 L125.6,570.7 L126.3,569.2 L127.0,567.1 L127.7,566.3 L128.4,565.1 L129.1,563.3 L129.8,562.7 L130.5,562.1 L131.2,561.2 L131.9,560.3 L132.6,559.6 L133.3,558.8 L134.0,557.8 L134.7,557.0 L135.4,556.6 L136.1,556.2 L136.8,555.5 L137.5,554.8 L138.2,552.9 L138.9,552.0 L139.6,552.7 L140.3,553.0 L141.0,552.7 L141.7,553.2 L142.4,553.9 L143.1,553.5 L143.8,553.6 L144.5,553.8 L145.2,553.7 L145.9,554.0 L146.6,553.9 L147.3,552.8 L148.0,551.8 L148.7,551.2 L149.4,549.8 L150.1,549.1 L150.8,548.0 L151.5,547.2 L152.2,547.1 L152.9,546.0 L153.6,546.0 L154.3,547.4 L155.0,548.4 L155.7,549.0 L156.4,550.6 L157.1,553.0 L157.8,553.9 L158.5,554.6 L159.2,556.4 L159.9,557.6 L160.6,559.0 L161.3,560.3 L162.0,562.0 L162.7,563.3 L163.4,563.5 L164.1,564.3 L164.8,564.5 L165.5,564.4 L166.2,565.1 L166.9,565.5 L167.6,565.7 L168.3,565.8 L169.0,565.8 L169.7,565.9 L170.4,566.2 L171.1,566.6 L171.8,566.4 L172.5,566.3 L173.2,566.7 L173.9,566.5 L174.6,566.3 L175.3,566.4 L176.0,566.2 L176.7,565.7 L177.4,566.5 L178.1,566.5 L178.8,566.8 L179.5,567.3 L180.2,567.1 L180.9,567.3 L181.6,567.6 L182.3,567.7 L183.0,567.8 L183.7,568.1 L184.4,568.9 L185.1,569.7 L185.8,570.2 L186.5,570.4 L187.2,570.5 L187.9,570.4 L188.6,571.5 L189.3,573.6 L190.0,575.1 L190.7,577.1 L191.4,579.7 L192.1,581.4 L192.8,583.0 L193.5,584.2 L194.2,583.9 L194.9,583.6 L195.6,583.6 L196.3,583.4 L197.0,582.5 L197.7,581.4 L198.4,580.5 L199.1,579.7 L199.8,579.0 L200.5,578.5 L201.2,577.9 L201.9,576.8 L202.6,575.7 L203.3,574.7 L204.0,573.6 L204.7,573.0 L205.4,571.2 L206.1,569.7 L206.8,569.5 L207.5,568.9 L208.2,567.5 L208.9,566.4 L209.6,566.1 L210.3,565.1 L211.0,563.6 L211.7,563.0 L212.4,562.7 L213.1,562.4 L213.8,561.9 L214.5,561.7 L215.2,561.4 L215.9,560.1 L216.6,559.4 L217.3,558.8 L218.0,558.6 L218.7,558.9 L219.4,558.3 L220.1,557.8 L220.8,557.2 L221.5,556.8 L222.2,557.5 L222.9,556.9 L223.6,556.4 L224.3,557.2 L225.0,556.3 L225.7,555.6 L226.4,556.1 L227.1,557.0 L227.8,557.4 L228.5,557.3 L229.2,557.9 L229.9,558.3 L230.6,558.4 L231.3,558.4 L232.0,558.8 L232.7,558.7 L233.4,558.9 L234.1,559.0 L234.8,558.3 L235.5,558.5 L236.2,558.9 L236.9,558.0 L237.6,557.9 L238.3,558.0 L239.0,557.6 L239.7,558.2 L240.4,558.1 L241.1,557.9 L241.8,558.0 L242.5,558.4 L243.2,558.4 L243.9,557.4 L244.6,557.0 L245.3,557.0 L246.0,557.3 L246.7,557.5 L247.4,557.7 L248.1,557.6 L248.8,557.3 L249.5,557.3 L250.2,557.1 L250.9,557.0 L251.6,557.2 L252.3,557.2 L253.0,556.7 L253.7,555.9 L254.4,555.6 L255.1,556.1 L255.8,555.3 L256.5,554.8 L257.2,555.4 L257.9,555.0 L258.6,554.1 L259.3,554.4 L260.0,554.8 L260.7,553.8 L261.4,553.4 L262.1,553.6 L262.8,552.6 L263.5,552.8 L264.2,552.7 L264.9,551.8 L265.6,551.7 L266.3,551.9 L267.0,552.0 L267.7,552.1 L268.4,553.0 L269.1,553.3 L269.8,553.2 L270.5,553.9 L271.2,554.0 L271.9,554.1 L272.6,554.5 L273.3,554.6 L274.0,555.0 L274.7,555.2 L275.4,555.4 L276.1,555.3 L276.8,555.3 L277.5,555.9 L278.2,556.2 L278.9,555.9 L279.6,555.9 L280.3,556.2 L281.0,556.5 L281.7,556.9 L282.4,557.2 L283.1,557.1 L283.8,557.2 L284.5,557.2 L285.2,556.5 L285.9,557.0 L286.6,557.6 L287.3,557.5 L288.0,557.8 L288.7,558.5 L289.4,558.7 L290.1,558.8 L290.8,559.3 L291.5,559.1 L292.2,559.0 L292.9,559.8 L293.6,560.7 L294.3,561.0 L295.0,561.7 L295.7,561.9 L296.4,561.7 L297.1,561.8 L297.8,562.0 L298.5,562.1 L299.2,562.0 L299.9,562.9 L300.6,562.8 L301.3,562.4 L302.0,563.2 L302.7,563.3 L303.4,563.0 L304.1,563.0 L304.8,563.3 L305.5,563.1 L306.2,563.3 L306.9,563.6 L307.6,563.5 L308.3,563.9 L309.0,563.8 L309.7,563.7 L310.4,563.9 L311.1,563.8 L311.8,564.1 L312.5,564.0 L313.2,563.7 L313.9,563.4 L314.6,563.4 L315.3,563.7 L316.0,564.2 L316.7,564.4 L317.4,564.1 L318.1,563.8 L318.8,563.4 L319.5,562.7 L320.2,563.0 L320.9,563.4 L321.6,563.2 L322.3,562.8 L323.0,563.3 L323.7,563.5 L324.4,562.6 L325.1,563.4 L325.8,563.7 L326.5,562.7 L327.2,562.6 L327.9,562.2 L328.6,562.2 L329.3,561.6 L330.0,560.5 L330.7,560.6" fill="none" stroke="#1818d2" stroke-width="1.9" stroke-linejoin="round"/>
<text transform="translate(67.56,356.6) scale(0.8886,1)" font-size="22.529" fill="#000" stroke="#000">P1</text>
<text transform="translate(74.69,459.9) scale(0.9241,1)" font-size="22.529" fill="#000" stroke="#000">N1</text>
<text transform="translate(258.34,389.3) scale(1.0559,1)" font-size="21.948" fill="#000" stroke="#000">12 kHz</text>
<text transform="translate(229.94,468.3) scale(1.1596,1)" font-size="19.913" fill="#000" stroke="#000">95dB SPL</text>
<text transform="translate(66.24,509.2) scale(0.9144,1)" font-size="22.093" fill="#000" stroke="#000">P1</text>
<text transform="translate(77.64,618.3) scale(0.8856,1)" font-size="22.820" fill="#000" stroke="#000">N1</text>
<text transform="translate(218.03,616.6) scale(1.1030,1)" font-size="21.076" fill="#000" stroke="#000">110dB SPL</text>
<text transform="translate(356.21,327.7) scale(1.0101,1)" font-size="29.520" fill="#000" stroke="#000" font-weight="bold" stroke-width="0.5">C</text>
<line x1="415.3" y1="342.8" x2="415.3" y2="473.2" stroke="#000" stroke-width="1.8"/>
<line x1="408" y1="472.3" x2="415.3" y2="472.3" stroke="#000" stroke-width="1.8"/>
<line x1="410.6" y1="440.15" x2="415.3" y2="440.15" stroke="#000" stroke-width="1.8"/>
<line x1="408" y1="408" x2="415.3" y2="408" stroke="#000" stroke-width="1.8"/>
<line x1="410.6" y1="375.85" x2="415.3" y2="375.85" stroke="#000" stroke-width="1.8"/>
<line x1="408" y1="343.7" x2="415.3" y2="343.7" stroke="#000" stroke-width="1.8"/>
<line x1="415.3" y1="495.4" x2="415.3" y2="625.8" stroke="#000" stroke-width="1.8"/>
<line x1="408" y1="624.9" x2="415.3" y2="624.9" stroke="#000" stroke-width="1.8"/>
<line x1="410.6" y1="592.75" x2="415.3" y2="592.75" stroke="#000" stroke-width="1.8"/>
<line x1="408" y1="560.6" x2="415.3" y2="560.6" stroke="#000" stroke-width="1.8"/>
<line x1="410.6" y1="528.45" x2="415.3" y2="528.45" stroke="#000" stroke-width="1.8"/>
<line x1="408" y1="496.3" x2="415.3" y2="496.3" stroke="#000" stroke-width="1.8"/>
<line x1="419.7" y1="629.1" x2="687.18" y2="629.1" stroke="#000" stroke-width="1.8"/>
<line x1="420.6" y1="629.1" x2="420.6" y2="637.5" stroke="#000" stroke-width="1.8"/>
<line x1="464.88" y1="629.1" x2="464.88" y2="633.5" stroke="#000" stroke-width="1.8"/>
<line x1="509.16" y1="629.1" x2="509.16" y2="637.5" stroke="#000" stroke-width="1.8"/>
<line x1="553.44" y1="629.1" x2="553.44" y2="633.5" stroke="#000" stroke-width="1.8"/>
<line x1="597.72" y1="629.1" x2="597.72" y2="637.5" stroke="#000" stroke-width="1.8"/>
<line x1="642" y1="629.1" x2="642" y2="633.5" stroke="#000" stroke-width="1.8"/>
<line x1="686.28" y1="629.1" x2="686.28" y2="637.5" stroke="#000" stroke-width="1.8"/>
<text transform="translate(391.69,351.5) scale(1.0200,1)" font-size="22.400" fill="#000" stroke="#000">1</text>
<text transform="translate(391.46,415.8) scale(1.0200,1)" font-size="22.400" fill="#000" stroke="#000">0</text>
<text transform="translate(384.06,480.1) scale(1.0200,1)" font-size="22.400" fill="#000" stroke="#000">-1</text>
<text transform="translate(391.69,504.1) scale(1.0200,1)" font-size="22.400" fill="#000" stroke="#000">1</text>
<text transform="translate(391.46,568.4) scale(1.0200,1)" font-size="22.400" fill="#000" stroke="#000">0</text>
<text transform="translate(384.06,632.7) scale(1.0200,1)" font-size="22.400" fill="#000" stroke="#000">-1</text>
<text transform="translate(414.25,657.84) scale(1.0200,1)" font-size="22.400" fill="#000" stroke="#000">0</text>
<text transform="translate(502.88,657.61) scale(1.0200,1)" font-size="22.400" fill="#000" stroke="#000">4</text>
<text transform="translate(591.37,657.84) scale(1.0200,1)" font-size="22.400" fill="#000" stroke="#000">8</text>
<text transform="translate(673.28,657.84) scale(1.0200,1)" font-size="22.400" fill="#000" stroke="#000">12</text>
<text transform="translate(486.67,677.8) scale(1.1258,1)" font-size="20.930" fill="#000" stroke="#000">Latency (ms)</text>
<text transform="translate(379,557.15) rotate(-90) scale(1.0382,1)" font-size="22.093" fill="#000" stroke="#000">Amplitude (µV)</text>
<path d="M420.6,408.8 L421.3,408.8 L422.0,408.6 L422.7,408.2 L423.4,408.1 L424.1,407.7 L424.8,407.7 L425.5,407.3 L426.2,407.8 L426.9,407.4 L427.6,408.5 L428.3,408.9 L429.0,409.7 L429.7,408.9 L430.4,408.0 L431.1,408.0 L431.8,408.0 L432.5,408.3 L433.2,407.5 L433.9,407.7 L434.6,407.1 L435.3,407.2 L436.0,406.2 L436.7,406.1 L437.4,406.1 L438.1,406.3 L438.8,406.3 L439.5,406.2 L440.2,406.1 L440.9,406.5 L441.6,405.3 L442.3,405.3 L443.0,404.9 L443.7,405.0 L444.4,404.1 L445.1,404.0 L445.8,404.0 L446.5,404.0 L447.2,403.7 L447.9,403.7 L448.6,403.8 L449.3,403.1 L450.0,403.1 L450.7,403.0 L451.4,403.2 L452.1,402.1 L452.8,401.7 L453.5,401.3 L454.2,401.2 L454.9,400.8 L455.6,399.4 L456.3,399.4 L457.0,397.8 L457.7,397.9 L458.4,396.2 L459.1,394.9 L459.8,393.3 L460.5,392.4 L461.2,392.0 L461.9,391.4 L462.6,390.2 L463.3,389.5 L464.0,388.9 L464.7,388.7 L465.4,388.0 L466.1,387.5 L466.8,388.1 L467.5,389.1 L468.2,389.7 L468.9,389.8 L469.6,390.7 L470.3,391.3 L471.0,392.7 L471.7,392.8 L472.4,393.5 L473.1,394.1 L473.8,394.8 L474.5,396.2 L475.2,397.1 L475.9,397.4 L476.6,397.4 L477.3,397.2 L478.0,397.3 L478.7,396.9 L479.4,397.3 L480.1,397.5 L480.8,397.9 L481.5,397.5 L482.2,397.7 L482.9,397.7 L483.6,398.1 L484.3,398.7 L485.0,398.9 L485.7,398.4 L486.4,398.1 L487.1,397.8 L487.8,398.2 L488.5,398.7 L489.2,400.0 L489.9,400.5 L490.6,399.8 L491.3,399.4 L492.0,398.6 L492.7,398.8 L493.4,399.2 L494.1,400.3 L494.8,400.1 L495.5,399.2 L496.2,399.3 L496.9,399.8 L497.6,400.3 L498.3,400.2 L499.0,400.1 L499.7,399.8 L500.4,400.0 L501.1,400.1 L501.8,400.5 L502.5,399.9 L503.2,400.3 L503.9,400.4 L504.6,401.2 L505.3,401.1 L506.0,401.8 L506.7,401.5 L507.4,401.5 L508.1,400.5 L508.8,400.4 L509.5,400.9 L510.2,402.6 L510.9,402.6 L511.6,402.1 L512.3,401.2 L513.0,401.9 L513.7,402.0 L514.4,402.0 L515.1,401.3 L515.8,401.4 L516.5,401.7 L517.2,402.8 L517.9,402.7 L518.6,401.8 L519.3,400.8 L520.0,400.4 L520.7,399.7 L521.4,398.2 L522.1,396.7 L522.8,395.6 L523.5,394.3 L524.2,392.5 L524.9,391.1 L525.6,390.2 L526.3,389.9 L527.0,388.7 L527.7,387.5 L528.4,386.4 L529.1,385.6 L529.8,385.3 L530.5,385.2 L531.2,385.4 L531.9,386.2 L532.6,386.1 L533.3,386.4 L534.0,386.0 L534.7,387.0 L535.4,387.3 L536.1,387.6 L536.8,387.6 L537.5,387.8 L538.2,388.0 L538.9,388.4 L539.6,388.9 L540.3,389.8 L541.0,389.9 L541.7,390.1 L542.4,389.8 L543.1,389.2 L543.8,389.4 L544.5,389.5 L545.2,390.3 L545.9,390.2 L546.6,390.1 L547.3,389.7 L548.0,390.1 L548.7,390.9 L549.4,391.4 L550.1,391.5 L550.8,391.7 L551.5,391.7 L552.2,391.7 L552.9,391.1 L553.6,392.1 L554.3,392.5 L555.0,393.0 L555.7,392.3 L556.4,392.5 L557.1,393.2 L557.8,394.0 L558.5,394.2 L559.2,394.4 L559.9,394.3 L560.6,394.8 L561.3,395.1 L562.0,395.5 L562.7,395.5 L563.4,395.7 L564.1,396.2 L564.8,396.7 L565.5,397.0 L566.2,397.5 L566.9,397.6 L567.6,397.7 L568.3,398.2 L569.0,399.2 L569.7,400.3 L570.4,400.3 L571.1,400.7 L571.8,400.9 L572.5,401.5 L573.2,401.7 L573.9,402.1 L574.6,403.1 L575.3,403.0 L576.0,403.3 L576.7,403.0 L577.4,403.6 L578.1,404.1 L578.8,404.7 L579.5,404.7 L580.2,404.5 L580.9,404.5 L581.6,404.6 L582.3,405.1 L583.0,405.2 L583.7,405.8 L584.4,405.7 L585.1,406.4 L585.8,406.4 L586.5,406.2 L587.2,406.1 L587.9,405.9 L588.6,405.8 L589.3,404.8 L590.0,405.3 L590.7,405.5 L591.4,406.1 L592.1,405.7 L592.8,405.5 L593.5,405.0 L594.2,404.7 L594.9,404.8 L595.6,405.0 L596.3,405.7 L597.0,405.2 L597.7,405.0 L598.4,404.0 L599.1,404.6 L599.8,404.3 L600.5,404.8 L601.2,404.7 L601.9,405.0 L602.6,404.8 L603.3,403.6 L604.0,403.4 L604.7,402.5 L605.4,403.2 L606.1,403.2 L606.8,403.4 L607.5,403.6 L608.2,403.6 L608.9,403.6 L609.6,403.0 L610.3,402.3 L611.0,402.3 L611.7,403.1 L612.4,403.2 L613.1,403.3 L613.8,402.3 L614.5,402.6 L615.2,402.5 L615.9,402.5 L616.6,401.5 L617.3,401.0 L618.0,401.4 L618.7,401.7 L619.4,402.0 L620.1,401.3 L620.8,400.6 L621.5,400.4 L622.2,400.5 L622.9,400.7 L623.6,400.3 L624.3,400.2 L625.0,400.0 L625.7,400.1 L626.4,399.8 L627.1,399.0 L627.8,398.7 L628.5,398.5 L629.2,398.8 L629.9,398.8 L630.6,398.7 L631.3,399.0 L632.0,399.1 L632.7,399.2 L633.4,398.4 L634.1,397.6 L634.8,397.7 L635.5,398.0 L636.2,397.9 L636.9,397.4 L637.6,397.5 L638.3,397.7 L639.0,397.8 L639.7,397.2 L640.4,396.9 L641.1,396.4 L641.8,396.6 L642.5,395.8 L643.2,395.7 L643.9,395.1 L644.6,396.1 L645.3,396.6 L646.0,397.4 L646.7,397.1 L647.4,396.3 L648.1,395.9 L648.8,395.4 L649.5,395.6 L650.2,394.9 L650.9,394.6 L651.6,394.4 L652.3,395.2 L653.0,395.2 L653.7,395.7 L654.4,395.9 L655.1,395.4 L655.8,394.5 L656.5,393.1 L657.2,393.3 L657.9,393.0 L658.6,393.1 L659.3,393.3 L660.0,393.7 L660.7,393.6 L661.4,393.2 L662.1,392.8 L662.8,392.6 L663.5,392.7 L664.2,392.5 L664.9,392.5 L665.6,391.8 L666.3,392.0 L667.0,392.4 L667.7,392.9 L668.4,392.2 L669.1,392.1 L669.8,392.0 L670.5,391.6 L671.2,391.2 L671.9,391.7 L672.6,393.0 L673.3,393.7 L674.0,394.0 L674.7,394.1 L675.4,393.3 L676.1,393.0 L676.8,393.2 L677.5,394.3 L678.2,394.6 L678.9,394.6 L679.6,394.9 L680.3,394.9 L681.0,394.8 L681.7,394.9 L682.4,396.0 L683.1,396.8 L683.8,396.5 L684.5,396.9 L685.2,397.0 L685.9,398.4 L685.9,420.7 L685.2,421.3 L684.5,421.3 L683.8,420.5 L683.1,420.4 L682.4,420.8 L681.7,420.7 L681.0,421.4 L680.3,421.1 L679.6,422.8 L678.9,422.7 L678.2,422.5 L677.5,422.6 L676.8,422.8 L676.1,423.2 L675.4,422.4 L674.7,422.4 L674.0,422.7 L673.3,422.7 L672.6,422.2 L671.9,422.1 L671.2,422.7 L670.5,423.0 L669.8,423.3 L669.1,423.4 L668.4,424.0 L667.7,423.5 L667.0,423.2 L666.3,422.8 L665.6,423.3 L664.9,424.1 L664.2,424.1 L663.5,424.7 L662.8,425.1 L662.1,425.4 L661.4,425.7 L660.7,425.4 L660.0,425.7 L659.3,425.5 L658.6,425.8 L657.9,425.8 L657.2,425.1 L656.5,425.0 L655.8,425.6 L655.1,426.7 L654.4,427.3 L653.7,426.7 L653.0,426.5 L652.3,426.1 L651.6,426.4 L650.9,426.3 L650.2,426.4 L649.5,426.9 L648.8,426.8 L648.1,426.6 L647.4,426.3 L646.7,426.0 L646.0,425.8 L645.3,425.3 L644.6,424.9 L643.9,424.6 L643.2,424.3 L642.5,424.1 L641.8,423.6 L641.1,424.1 L640.4,424.0 L639.7,425.0 L639.0,424.5 L638.3,424.6 L637.6,423.2 L636.9,422.5 L636.2,422.1 L635.5,422.6 L634.8,422.5 L634.1,421.9 L633.4,421.0 L632.7,421.3 L632.0,421.7 L631.3,422.3 L630.6,421.9 L629.9,421.4 L629.2,421.1 L628.5,422.0 L627.8,423.0 L627.1,423.9 L626.4,423.4 L625.7,423.5 L625.0,424.6 L624.3,425.3 L623.6,425.4 L622.9,424.6 L622.2,425.3 L621.5,425.5 L620.8,426.1 L620.1,425.7 L619.4,426.5 L618.7,426.4 L618.0,425.9 L617.3,425.4 L616.6,425.4 L615.9,425.7 L615.2,425.1 L614.5,424.8 L613.8,424.9 L613.1,424.8 L612.4,424.3 L611.7,424.2 L611.0,424.1 L610.3,424.6 L609.6,424.9 L608.9,424.2 L608.2,423.3 L607.5,422.2 L606.8,422.5 L606.1,422.3 L605.4,421.8 L604.7,420.9 L604.0,420.5 L603.3,420.3 L602.6,419.7 L601.9,419.7 L601.2,419.4 L600.5,420.2 L599.8,419.7 L599.1,419.7 L598.4,419.0 L597.7,418.9 L597.0,419.2 L596.3,419.0 L595.6,419.2 L594.9,419.2 L594.2,419.5 L593.5,420.2 L592.8,420.5 L592.1,422.0 L591.4,422.6 L590.7,423.5 L590.0,424.1 L589.3,425.1 L588.6,426.1 L587.9,426.6 L587.2,426.5 L586.5,426.1 L585.8,426.0 L585.1,426.2 L584.4,426.3 L583.7,426.2 L583.0,425.8 L582.3,426.3 L581.6,426.2 L580.9,425.9 L580.2,425.2 L579.5,425.5 L578.8,425.7 L578.1,425.7 L577.4,424.9 L576.7,424.5 L576.0,424.3 L575.3,423.9 L574.6,423.4 L573.9,422.7 L573.2,422.8 L572.5,422.9 L571.8,423.5 L571.1,422.8 L570.4,422.5 L569.7,421.5 L569.0,421.2 L568.3,421.0 L567.6,421.2 L566.9,422.1 L566.2,421.2 L565.5,420.4 L564.8,419.6 L564.1,420.1 L563.4,419.7 L562.7,418.9 L562.0,418.4 L561.3,418.3 L560.6,418.3 L559.9,418.1 L559.2,417.4 L558.5,417.6 L557.8,417.4 L557.1,417.3 L556.4,416.9 L555.7,416.0 L555.0,416.4 L554.3,415.9 L553.6,416.2 L552.9,415.6 L552.2,415.6 L551.5,414.9 L550.8,414.4 L550.1,414.2 L549.4,414.9 L548.7,415.3 L548.0,415.2 L547.3,414.7 L546.6,415.1 L545.9,415.5 L545.2,415.6 L544.5,415.8 L543.8,415.6 L543.1,415.8 L542.4,415.5 L541.7,415.8 L541.0,416.2 L540.3,416.4 L539.6,416.7 L538.9,417.1 L538.2,417.9 L537.5,417.6 L536.8,417.4 L536.1,417.6 L535.4,418.5 L534.7,419.2 L534.0,419.4 L533.3,419.9 L532.6,420.3 L531.9,421.7 L531.2,422.5 L530.5,423.3 L529.8,423.1 L529.1,423.4 L528.4,424.3 L527.7,425.5 L527.0,426.2 L526.3,426.3 L525.6,426.3 L524.9,426.7 L524.2,427.7 L523.5,427.5 L522.8,428.1 L522.1,428.5 L521.4,429.2 L520.7,428.4 L520.0,427.6 L519.3,427.1 L518.6,426.7 L517.9,426.3 L517.2,425.4 L516.5,425.4 L515.8,424.7 L515.1,424.4 L514.4,423.7 L513.7,423.5 L513.0,423.2 L512.3,422.6 L511.6,422.1 L510.9,421.7 L510.2,420.9 L509.5,420.4 L508.8,420.1 L508.1,420.1 L507.4,419.4 L506.7,419.3 L506.0,419.3 L505.3,420.1 L504.6,419.5 L503.9,419.4 L503.2,418.1 L502.5,418.5 L501.8,418.3 L501.1,418.3 L500.4,417.9 L499.7,418.7 L499.0,419.0 L498.3,418.4 L497.6,417.5 L496.9,418.0 L496.2,417.6 L495.5,418.0 L494.8,417.3 L494.1,418.2 L493.4,417.6 L492.7,418.1 L492.0,417.5 L491.3,417.6 L490.6,417.1 L489.9,417.3 L489.2,417.0 L488.5,417.1 L487.8,417.2 L487.1,417.4 L486.4,417.1 L485.7,417.2 L485.0,416.9 L484.3,417.3 L483.6,417.5 L482.9,417.6 L482.2,417.0 L481.5,416.3 L480.8,416.5 L480.1,416.6 L479.4,417.7 L478.7,417.0 L478.0,417.4 L477.3,417.4 L476.6,418.3 L475.9,418.5 L475.2,417.7 L474.5,418.8 L473.8,419.1 L473.1,419.7 L472.4,418.7 L471.7,418.6 L471.0,419.3 L470.3,419.5 L469.6,419.7 L468.9,419.7 L468.2,419.7 L467.5,420.2 L466.8,419.9 L466.1,420.1 L465.4,420.2 L464.7,420.8 L464.0,421.6 L463.3,421.7 L462.6,421.7 L461.9,421.5 L461.2,421.4 L460.5,421.8 L459.8,422.1 L459.1,422.3 L458.4,421.7 L457.7,421.9 L457.0,422.4 L456.3,423.1 L455.6,423.6 L454.9,423.8 L454.2,423.7 L453.5,423.8 L452.8,424.3 L452.1,424.7 L451.4,425.7 L450.7,425.1 L450.0,425.1 L449.3,423.3 L448.6,423.3 L447.9,422.9 L447.2,424.3 L446.5,424.7 L445.8,425.6 L445.1,425.3 L444.4,425.3 L443.7,425.9 L443.0,425.9 L442.3,426.2 L441.6,425.8 L440.9,425.8 L440.2,425.8 L439.5,426.1 L438.8,425.8 L438.1,426.5 L437.4,426.2 L436.7,427.3 L436.0,427.1 L435.3,428.1 L434.6,427.3 L433.9,427.3 L433.2,427.2 L432.5,427.5 L431.8,428.0 L431.1,428.3 L430.4,429.2 L429.7,429.9 L429.0,430.0 L428.3,429.5 L427.6,429.4 L426.9,429.5 L426.2,430.5 L425.5,430.7 L424.8,430.9 L424.1,430.6 L423.4,430.8 L422.7,430.9 L422.0,431.4 L421.3,431.9 L420.6,432.3Z" fill="rgba(245,120,120,0.32)" stroke="none"/>
<path d="M420.6,419.5 L421.3,418.4 L422.0,417.4 L422.7,417.2 L423.4,416.9 L424.1,417.3 L424.8,417.3 L425.5,416.7 L426.2,416.7 L426.9,417.1 L427.6,417.0 L428.3,416.5 L429.0,416.7 L429.7,416.8 L430.4,416.6 L431.1,416.6 L431.8,416.0 L432.5,415.6 L433.2,415.6 L433.9,415.7 L434.6,416.0 L435.3,415.3 L436.0,415.3 L436.7,415.1 L437.4,414.9 L438.1,415.2 L438.8,414.4 L439.5,413.9 L440.2,413.9 L440.9,414.1 L441.6,413.8 L442.3,413.8 L443.0,413.4 L443.7,413.1 L444.4,413.3 L445.1,412.5 L445.8,412.4 L446.5,412.4 L447.2,411.3 L447.9,411.3 L448.6,411.8 L449.3,412.0 L450.0,411.7 L450.7,411.6 L451.4,412.0 L452.1,411.7 L452.8,411.4 L453.5,411.0 L454.2,410.2 L454.9,410.1 L455.6,410.4 L456.3,410.0 L457.0,409.5 L457.7,408.7 L458.4,408.8 L459.1,409.1 L459.8,408.3 L460.5,408.1 L461.2,408.4 L461.9,408.2 L462.6,408.0 L463.3,408.0 L464.0,407.1 L464.7,406.6 L465.4,406.9 L466.1,407.0 L466.8,407.0 L467.5,405.9 L468.2,405.2 L468.9,405.7 L469.6,405.8 L470.3,405.9 L471.0,405.0 L471.7,404.2 L472.4,404.0 L473.1,404.3 L473.8,404.1 L474.5,404.2 L475.2,405.0 L475.9,405.0 L476.6,404.4 L477.3,404.5 L478.0,405.8 L478.7,406.0 L479.4,406.3 L480.1,407.2 L480.8,408.0 L481.5,408.6 L482.2,408.8 L482.9,409.0 L483.6,409.2 L484.3,409.5 L485.0,409.8 L485.7,409.7 L486.4,409.8 L487.1,409.3 L487.8,409.3 L488.5,409.6 L489.2,409.5 L489.9,409.5 L490.6,409.3 L491.3,409.6 L492.0,409.1 L492.7,408.6 L493.4,408.7 L494.1,408.7 L494.8,408.2 L495.5,408.1 L496.2,408.5 L496.9,408.3 L497.6,408.3 L498.3,408.1 L499.0,408.5 L499.7,409.1 L500.4,409.3 L501.1,408.9 L501.8,408.0 L502.5,408.3 L503.2,408.2 L503.9,408.2 L504.6,408.4 L505.3,408.3 L506.0,408.6 L506.7,408.7 L507.4,409.2 L508.1,409.5 L508.8,408.7 L509.5,408.9 L510.2,409.1 L510.9,409.0 L511.6,409.2 L512.3,409.2 L513.0,410.1 L513.7,410.4 L514.4,410.0 L515.1,410.1 L515.8,410.3 L516.5,411.0 L517.2,410.8 L517.9,410.0 L518.6,410.4 L519.3,410.3 L520.0,410.0 L520.7,410.7 L521.4,410.7 L522.1,410.2 L522.8,409.9 L523.5,409.6 L524.2,409.6 L524.9,409.8 L525.6,410.3 L526.3,410.4 L527.0,409.8 L527.7,409.2 L528.4,409.5 L529.1,409.1 L529.8,408.7 L530.5,409.1 L531.2,408.9 L531.9,408.6 L532.6,409.0 L533.3,408.8 L534.0,408.3 L534.7,408.6 L535.4,408.8 L536.1,408.5 L536.8,408.7 L537.5,409.0 L538.2,408.5 L538.9,408.3 L539.6,408.0 L540.3,407.5 L541.0,407.7 L541.7,407.7 L542.4,406.9 L543.1,406.7 L543.8,406.1 L544.5,405.5 L545.2,405.4 L545.9,404.6 L546.6,404.5 L547.3,404.1 L548.0,404.0 L548.7,404.3 L549.4,404.9 L550.1,406.6 L550.8,407.9 L551.5,408.5 L552.2,409.4 L552.9,410.2 L553.6,410.2 L554.3,409.8 L555.0,409.7 L555.7,409.6 L556.4,408.4 L557.1,407.6 L557.8,407.8 L558.5,407.6 L559.2,407.2 L559.9,407.5 L560.6,407.6 L561.3,407.6 L562.0,408.6 L562.7,408.0 L563.4,407.8 L564.1,408.7 L564.8,409.0 L565.5,408.9 L566.2,408.9 L566.9,409.0 L567.6,409.3 L568.3,410.2 L569.0,410.3 L569.7,410.2 L570.4,410.6 L571.1,411.2 L571.8,411.7 L572.5,412.1 L573.2,412.4 L573.9,412.4 L574.6,411.9 L575.3,412.7 L576.0,414.2 L576.7,413.7 L577.4,413.2 L578.1,413.7 L578.8,414.2 L579.5,414.2 L580.2,414.2 L580.9,413.9 L581.6,413.5 L582.3,413.5 L583.0,413.0 L583.7,413.0 L584.4,413.1 L585.1,412.8 L585.8,412.3 L586.5,412.0 L587.2,411.5 L587.9,411.1 L588.6,410.4 L589.3,409.7 L590.0,410.4 L590.7,410.3 L591.4,409.9 L592.1,409.4 L592.8,409.5 L593.5,410.0 L594.2,409.3 L594.9,409.0 L595.6,408.9 L596.3,408.9 L597.0,408.6 L597.7,407.5 L598.4,407.1 L599.1,407.7 L599.8,407.7 L600.5,406.9 L601.2,406.7 L601.9,406.6 L602.6,406.4 L603.3,405.7 L604.0,405.1 L604.7,405.6 L605.4,405.7 L606.1,405.5 L606.8,406.1 L607.5,405.8 L608.2,405.3 L608.9,405.3 L609.6,405.2 L610.3,405.6 L611.0,405.7 L611.7,405.4 L612.4,406.6 L613.1,407.6 L613.8,408.0 L614.5,408.5 L615.2,408.6 L615.9,409.2 L616.6,409.8 L617.3,409.6 L618.0,410.0 L618.7,410.4 L619.4,410.3 L620.1,411.4 L620.8,411.4 L621.5,411.1 L622.2,410.9 L622.9,410.6 L623.6,410.6 L624.3,410.4 L625.0,410.0 L625.7,409.4 L626.4,409.6 L627.1,409.2 L627.8,408.7 L628.5,409.2 L629.2,409.1 L629.9,408.5 L630.6,408.2 L631.3,408.4 L632.0,408.6 L632.7,408.5 L633.4,408.5 L634.1,409.0 L634.8,409.0 L635.5,407.9 L636.2,408.2 L636.9,408.8 L637.6,409.0 L638.3,408.6 L639.0,409.0 L639.7,409.6 L640.4,409.4 L641.1,409.1 L641.8,409.4 L642.5,410.0 L643.2,410.4 L643.9,410.4 L644.6,409.8 L645.3,410.1 L646.0,410.2 L646.7,410.4 L647.4,410.4 L648.1,410.3 L648.8,410.5 L649.5,410.5 L650.2,410.4 L650.9,410.1 L651.6,410.2 L652.3,410.2 L653.0,410.1 L653.7,410.1 L654.4,409.3 L655.1,409.2 L655.8,410.1 L656.5,410.1 L657.2,409.7 L657.9,409.6 L658.6,409.1 L659.3,408.4 L660.0,408.7 L660.7,409.2 L661.4,409.0 L662.1,408.7 L662.8,408.5 L663.5,408.2 L664.2,408.0 L664.9,407.8 L665.6,407.6 L666.3,407.2 L667.0,406.7 L667.7,407.0 L668.4,406.9 L669.1,405.8 L669.8,405.8 L670.5,405.7 L671.2,406.1 L671.9,406.9 L672.6,406.4 L673.3,406.0 L674.0,405.4 L674.7,405.6 L675.4,405.9 L676.1,405.9 L676.8,406.0 L677.5,406.6 L678.2,407.0 L678.9,406.7 L679.6,406.2 L680.3,406.8 L681.0,407.6 L681.7,408.1 L682.4,409.2 L683.1,409.9 L683.8,410.0 L684.5,410.3 L685.2,411.2 L685.9,411.5" fill="none" stroke="#e3202a" stroke-width="1.8" stroke-linejoin="round"/>
<path d="M420.6,398.3 L421.3,398.1 L422.0,397.6 L422.7,398.3 L423.4,398.1 L424.1,398.2 L424.8,397.9 L425.5,397.5 L426.2,397.5 L426.9,397.3 L427.6,397.4 L428.3,397.3 L429.0,396.8 L429.7,396.9 L430.4,396.3 L431.1,396.8 L431.8,396.6 L432.5,397.1 L433.2,396.6 L433.9,397.2 L434.6,396.8 L435.3,396.8 L436.0,395.4 L436.7,395.7 L437.4,395.3 L438.1,395.7 L438.8,394.8 L439.5,394.9 L440.2,394.4 L440.9,394.9 L441.6,394.6 L442.3,394.5 L443.0,394.3 L443.7,394.1 L444.4,394.1 L445.1,394.3 L445.8,394.2 L446.5,394.8 L447.2,394.6 L447.9,395.0 L448.6,394.9 L449.3,395.3 L450.0,395.5 L450.7,395.5 L451.4,395.6 L452.1,396.1 L452.8,396.1 L453.5,395.5 L454.2,394.5 L454.9,393.6 L455.6,393.1 L456.3,392.5 L457.0,391.6 L457.7,390.6 L458.4,389.2 L459.1,388.0 L459.8,386.6 L460.5,386.7 L461.2,385.9 L461.9,386.2 L462.6,386.1 L463.3,387.4 L464.0,388.8 L464.7,389.9 L465.4,391.0 L466.1,390.7 L466.8,391.1 L467.5,391.1 L468.2,391.3 L468.9,389.8 L469.6,387.2 L470.3,384.0 L471.0,380.7 L471.7,377.4 L472.4,373.8 L473.1,369.8 L473.8,368.1 L474.5,368.0 L475.2,368.5 L475.9,368.0 L476.6,367.9 L477.3,367.7 L478.0,368.1 L478.7,367.5 L479.4,367.6 L480.1,367.5 L480.8,367.7 L481.5,368.4 L482.2,369.1 L482.9,369.7 L483.6,372.4 L484.3,376.9 L485.0,383.6 L485.7,389.4 L486.4,394.0 L487.1,395.4 L487.8,394.5 L488.5,393.4 L489.2,391.9 L489.9,391.5 L490.6,390.8 L491.3,389.8 L492.0,389.1 L492.7,388.5 L493.4,388.5 L494.1,388.1 L494.8,388.0 L495.5,387.8 L496.2,387.4 L496.9,387.0 L497.6,386.6 L498.3,386.6 L499.0,386.2 L499.7,386.0 L500.4,385.4 L501.1,385.2 L501.8,385.3 L502.5,385.3 L503.2,384.6 L503.9,384.1 L504.6,383.6 L505.3,383.6 L506.0,383.3 L506.7,382.5 L507.4,381.7 L508.1,380.6 L508.8,380.0 L509.5,380.0 L510.2,379.6 L510.9,378.3 L511.6,376.7 L512.3,375.2 L513.0,375.0 L513.7,373.8 L514.4,372.9 L515.1,371.7 L515.8,371.0 L516.5,370.5 L517.2,370.0 L517.9,369.6 L518.6,369.5 L519.3,369.0 L520.0,368.9 L520.7,368.5 L521.4,368.7 L522.1,370.1 L522.8,372.7 L523.5,376.8 L524.2,380.8 L524.9,385.5 L525.6,388.7 L526.3,391.2 L527.0,393.3 L527.7,394.9 L528.4,396.8 L529.1,398.1 L529.8,400.1 L530.5,401.3 L531.2,403.1 L531.9,404.5 L532.6,406.0 L533.3,406.7 L534.0,407.0 L534.7,407.0 L535.4,407.8 L536.1,409.1 L536.8,410.0 L537.5,410.2 L538.2,410.4 L538.9,411.0 L539.6,411.8 L540.3,412.2 L541.0,412.1 L541.7,412.6 L542.4,413.8 L543.1,415.3 L543.8,415.2 L544.5,415.2 L545.2,414.8 L545.9,416.2 L546.6,416.4 L547.3,416.7 L548.0,416.5 L548.7,416.3 L549.4,416.9 L550.1,416.7 L550.8,416.7 L551.5,416.8 L552.2,416.4 L552.9,417.2 L553.6,417.0 L554.3,417.1 L555.0,416.1 L555.7,416.6 L556.4,417.3 L557.1,417.4 L557.8,417.3 L558.5,416.8 L559.2,417.0 L559.9,416.3 L560.6,416.0 L561.3,416.4 L562.0,416.3 L562.7,415.6 L563.4,415.6 L564.1,415.6 L564.8,415.7 L565.5,414.6 L566.2,413.7 L566.9,413.6 L567.6,413.2 L568.3,412.9 L569.0,412.0 L569.7,410.8 L570.4,410.2 L571.1,409.5 L571.8,409.5 L572.5,408.1 L573.2,407.4 L573.9,405.8 L574.6,404.9 L575.3,403.9 L576.0,402.6 L576.7,401.0 L577.4,398.9 L578.1,397.6 L578.8,395.8 L579.5,394.7 L580.2,393.0 L580.9,391.7 L581.6,390.3 L582.3,389.3 L583.0,388.4 L583.7,387.1 L584.4,386.5 L585.1,386.3 L585.8,385.9 L586.5,385.2 L587.2,384.7 L587.9,384.9 L588.6,384.5 L589.3,385.0 L590.0,385.2 L590.7,385.7 L591.4,386.0 L592.1,385.9 L592.8,385.9 L593.5,385.7 L594.2,385.8 L594.9,385.9 L595.6,386.2 L596.3,386.4 L597.0,387.0 L597.7,386.6 L598.4,386.8 L599.1,386.2 L599.8,386.6 L600.5,386.6 L601.2,387.7 L601.9,388.3 L602.6,389.0 L603.3,389.4 L604.0,389.9 L604.7,390.2 L605.4,389.6 L606.1,388.9 L606.8,388.8 L607.5,389.1 L608.2,389.4 L608.9,389.3 L609.6,388.8 L610.3,389.3 L611.0,388.8 L611.7,388.7 L612.4,388.1 L613.1,387.5 L613.8,387.5 L614.5,387.1 L615.2,387.0 L615.9,385.8 L616.6,384.8 L617.3,383.7 L618.0,384.0 L618.7,383.6 L619.4,383.5 L620.1,382.3 L620.8,382.1 L621.5,382.3 L622.2,381.6 L622.9,380.7 L623.6,379.1 L624.3,379.2 L625.0,378.8 L625.7,379.6 L626.4,378.8 L627.1,378.1 L627.8,376.8 L628.5,376.7 L629.2,376.0 L629.9,376.2 L630.6,375.9 L631.3,376.2 L632.0,375.8 L632.7,376.5 L633.4,378.0 L634.1,379.1 L634.8,380.0 L635.5,381.0 L636.2,381.9 L636.9,382.4 L637.6,382.0 L638.3,382.4 L639.0,382.4 L639.7,382.4 L640.4,382.0 L641.1,381.2 L641.8,380.5 L642.5,380.1 L643.2,380.5 L643.9,380.5 L644.6,380.4 L645.3,380.4 L646.0,381.0 L646.7,381.6 L647.4,382.0 L648.1,383.1 L648.8,384.6 L649.5,385.7 L650.2,386.8 L650.9,387.9 L651.6,389.6 L652.3,390.2 L653.0,391.6 L653.7,392.5 L654.4,393.7 L655.1,395.0 L655.8,396.3 L656.5,397.3 L657.2,398.4 L657.9,398.4 L658.6,398.8 L659.3,398.1 L660.0,398.8 L660.7,399.2 L661.4,399.3 L662.1,399.5 L662.8,399.4 L663.5,399.9 L664.2,400.4 L664.9,400.3 L665.6,399.0 L666.3,398.0 L667.0,397.6 L667.7,398.4 L668.4,398.6 L669.1,398.7 L669.8,398.5 L670.5,398.7 L671.2,399.4 L671.9,399.4 L672.6,400.3 L673.3,400.8 L674.0,402.1 L674.7,402.3 L675.4,402.4 L676.1,402.8 L676.8,403.3 L677.5,404.2 L678.2,404.6 L678.9,404.3 L679.6,403.9 L680.3,404.4 L681.0,404.8 L681.7,405.1 L682.4,404.2 L683.1,403.9 L683.8,403.5 L684.5,404.8 L685.2,405.2 L685.9,405.7 L685.9,433.5 L685.2,433.2 L684.5,432.8 L683.8,432.2 L683.1,431.7 L682.4,432.0 L681.7,432.3 L681.0,432.9 L680.3,432.5 L679.6,432.1 L678.9,431.6 L678.2,431.0 L677.5,430.7 L676.8,430.6 L676.1,430.7 L675.4,430.5 L674.7,430.0 L674.0,429.0 L673.3,428.8 L672.6,428.4 L671.9,429.2 L671.2,428.8 L670.5,428.9 L669.8,427.4 L669.1,427.0 L668.4,426.2 L667.7,425.8 L667.0,425.2 L666.3,425.3 L665.6,425.1 L664.9,424.8 L664.2,424.1 L663.5,423.7 L662.8,423.4 L662.1,422.6 L661.4,422.8 L660.7,422.0 L660.0,421.2 L659.3,420.6 L658.6,419.6 L657.9,419.5 L657.2,418.7 L656.5,419.4 L655.8,419.7 L655.1,419.7 L654.4,419.7 L653.7,419.2 L653.0,419.6 L652.3,419.8 L651.6,420.4 L650.9,420.4 L650.2,421.7 L649.5,421.9 L648.8,421.9 L648.1,421.6 L647.4,422.5 L646.7,423.6 L646.0,423.6 L645.3,423.7 L644.6,424.3 L643.9,424.3 L643.2,424.2 L642.5,423.3 L641.8,423.4 L641.1,423.3 L640.4,422.6 L639.7,422.1 L639.0,421.0 L638.3,420.7 L637.6,419.9 L636.9,419.7 L636.2,418.7 L635.5,417.7 L634.8,416.5 L634.1,415.9 L633.4,415.3 L632.7,415.2 L632.0,415.0 L631.3,415.0 L630.6,414.6 L629.9,414.7 L629.2,414.5 L628.5,415.2 L627.8,415.3 L627.1,415.5 L626.4,415.9 L625.7,415.7 L625.0,415.7 L624.3,415.0 L623.6,415.7 L622.9,415.7 L622.2,416.1 L621.5,415.9 L620.8,415.8 L620.1,416.1 L619.4,416.0 L618.7,415.7 L618.0,415.3 L617.3,415.5 L616.6,416.5 L615.9,416.1 L615.2,415.7 L614.5,415.0 L613.8,415.3 L613.1,415.4 L612.4,415.6 L611.7,415.7 L611.0,415.4 L610.3,415.0 L609.6,414.6 L608.9,414.8 L608.2,414.8 L607.5,414.5 L606.8,414.3 L606.1,414.4 L605.4,414.7 L604.7,414.7 L604.0,414.8 L603.3,414.5 L602.6,414.6 L601.9,414.6 L601.2,414.8 L600.5,415.1 L599.8,415.1 L599.1,415.1 L598.4,415.3 L597.7,415.6 L597.0,415.8 L596.3,415.5 L595.6,415.3 L594.9,415.2 L594.2,416.0 L593.5,416.1 L592.8,416.5 L592.1,416.8 L591.4,417.0 L590.7,416.7 L590.0,416.1 L589.3,416.4 L588.6,416.0 L587.9,416.0 L587.2,415.9 L586.5,416.6 L585.8,416.9 L585.1,417.2 L584.4,418.0 L583.7,418.0 L583.0,419.0 L582.3,419.3 L581.6,420.6 L580.9,420.6 L580.2,421.7 L579.5,422.1 L578.8,423.2 L578.1,422.9 L577.4,423.8 L576.7,424.5 L576.0,426.6 L575.3,427.7 L574.6,428.8 L573.9,429.4 L573.2,430.7 L572.5,431.8 L571.8,432.5 L571.1,433.9 L570.4,435.3 L569.7,436.7 L569.0,437.1 L568.3,438.1 L567.6,439.8 L566.9,442.1 L566.2,444.4 L565.5,446.5 L564.8,449.0 L564.1,451.4 L563.4,454.7 L562.7,457.9 L562.0,463.6 L561.3,465.4 L560.6,465.5 L559.9,465.5 L559.2,465.3 L558.5,464.8 L557.8,464.6 L557.1,464.9 L556.4,465.3 L555.7,465.1 L555.0,464.5 L554.3,465.1 L553.6,465.9 L552.9,466.4 L552.2,466.4 L551.5,465.8 L550.8,466.6 L550.1,465.2 L549.4,464.9 L548.7,463.3 L548.0,462.1 L547.3,461.4 L546.6,459.6 L545.9,458.3 L545.2,456.0 L544.5,454.4 L543.8,452.9 L543.1,451.5 L542.4,450.3 L541.7,448.7 L541.0,448.0 L540.3,446.2 L539.6,444.6 L538.9,441.8 L538.2,440.1 L537.5,438.8 L536.8,437.9 L536.1,436.1 L535.4,434.3 L534.7,433.0 L534.0,431.9 L533.3,430.7 L532.6,429.2 L531.9,427.5 L531.2,425.8 L530.5,424.1 L529.8,423.2 L529.1,421.7 L528.4,420.9 L527.7,419.7 L527.0,418.9 L526.3,418.2 L525.6,417.5 L524.9,417.4 L524.2,416.8 L523.5,416.7 L522.8,415.8 L522.1,415.8 L521.4,415.5 L520.7,416.1 L520.0,415.6 L519.3,415.9 L518.6,415.8 L517.9,415.4 L517.2,415.1 L516.5,414.4 L515.8,415.0 L515.1,415.1 L514.4,415.1 L513.7,415.6 L513.0,415.8 L512.3,416.8 L511.6,416.8 L510.9,417.0 L510.2,417.0 L509.5,417.5 L508.8,417.1 L508.1,417.7 L507.4,418.1 L506.7,418.6 L506.0,418.6 L505.3,418.9 L504.6,419.9 L503.9,420.8 L503.2,421.5 L502.5,421.5 L501.8,421.9 L501.1,422.6 L500.4,424.3 L499.7,425.3 L499.0,426.1 L498.3,426.4 L497.6,427.8 L496.9,428.9 L496.2,430.7 L495.5,431.9 L494.8,434.4 L494.1,435.6 L493.4,437.6 L492.7,438.9 L492.0,441.4 L491.3,443.1 L490.6,444.8 L489.9,446.8 L489.2,448.6 L488.5,451.1 L487.8,452.9 L487.1,455.3 L486.4,456.5 L485.7,457.6 L485.0,457.5 L484.3,457.6 L483.6,456.6 L482.9,455.2 L482.2,453.0 L481.5,450.1 L480.8,447.6 L480.1,445.3 L479.4,443.6 L478.7,441.5 L478.0,440.4 L477.3,438.6 L476.6,437.1 L475.9,435.3 L475.2,435.0 L474.5,434.3 L473.8,433.0 L473.1,431.3 L472.4,430.3 L471.7,429.7 L471.0,428.0 L470.3,426.6 L469.6,426.3 L468.9,426.5 L468.2,426.6 L467.5,425.6 L466.8,424.8 L466.1,423.5 L465.4,422.3 L464.7,422.1 L464.0,422.4 L463.3,422.3 L462.6,422.2 L461.9,421.5 L461.2,421.7 L460.5,421.0 L459.8,420.4 L459.1,420.9 L458.4,421.5 L457.7,422.6 L457.0,421.4 L456.3,421.4 L455.6,421.5 L454.9,422.3 L454.2,421.5 L453.5,421.8 L452.8,421.4 L452.1,422.0 L451.4,421.8 L450.7,422.1 L450.0,422.1 L449.3,421.6 L448.6,421.9 L447.9,421.8 L447.2,422.4 L446.5,422.7 L445.8,423.2 L445.1,423.5 L444.4,424.1 L443.7,423.6 L443.0,422.8 L442.3,422.7 L441.6,423.5 L440.9,424.3 L440.2,423.3 L439.5,422.8 L438.8,422.5 L438.1,423.5 L437.4,423.1 L436.7,423.0 L436.0,423.0 L435.3,423.4 L434.6,422.5 L433.9,421.6 L433.2,421.5 L432.5,421.6 L431.8,422.0 L431.1,422.0 L430.4,422.1 L429.7,421.4 L429.0,421.1 L428.3,420.8 L427.6,421.3 L426.9,420.6 L426.2,420.8 L425.5,419.4 L424.8,418.6 L424.1,418.0 L423.4,418.3 L422.7,418.4 L422.0,417.7 L421.3,417.8 L420.6,418.4Z" fill="rgba(110,110,235,0.33)" stroke="none"/>
<path d="M420.6,407.6 L421.3,407.1 L422.0,407.2 L422.7,406.7 L423.4,406.9 L424.1,407.9 L424.8,407.8 L425.5,407.5 L426.2,407.8 L426.9,407.8 L427.6,407.8 L428.3,408.4 L429.0,408.4 L429.7,408.0 L430.4,408.0 L431.1,407.8 L431.8,407.9 L432.5,407.9 L433.2,408.3 L433.9,408.0 L434.6,407.8 L435.3,408.6 L436.0,408.7 L436.7,409.0 L437.4,409.7 L438.1,410.6 L438.8,411.7 L439.5,412.4 L440.2,412.4 L440.9,411.4 L441.6,410.5 L442.3,409.9 L443.0,409.2 L443.7,407.5 L444.4,406.4 L445.1,406.0 L445.8,406.2 L446.5,407.5 L447.2,408.4 L447.9,409.6 L448.6,410.5 L449.3,410.6 L450.0,410.6 L450.7,411.1 L451.4,410.9 L452.1,410.4 L452.8,410.0 L453.5,410.1 L454.2,410.1 L454.9,409.3 L455.6,408.8 L456.3,407.7 L457.0,406.2 L457.7,405.1 L458.4,403.5 L459.1,401.8 L459.8,400.5 L460.5,398.7 L461.2,397.8 L461.9,398.6 L462.6,399.4 L463.3,399.2 L464.0,398.9 L464.7,400.4 L465.4,401.7 L466.1,402.5 L466.8,404.9 L467.5,407.8 L468.2,409.9 L468.9,412.6 L469.6,414.8 L470.3,415.1 L471.0,413.8 L471.7,411.0 L472.4,407.6 L473.1,404.4 L473.8,401.0 L474.5,397.4 L475.2,394.4 L475.9,391.4 L476.6,389.5 L477.3,388.8 L478.0,388.5 L478.7,390.4 L479.4,393.5 L480.1,395.5 L480.8,397.5 L481.5,402.2 L482.2,408.6 L482.9,414.3 L483.6,419.3 L484.3,423.2 L485.0,426.5 L485.7,429.4 L486.4,431.6 L487.1,431.9 L487.8,430.7 L488.5,428.6 L489.2,427.3 L489.9,425.7 L490.6,423.1 L491.3,421.3 L492.0,419.9 L492.7,418.3 L493.4,416.7 L494.1,415.6 L494.8,414.4 L495.5,412.7 L496.2,410.9 L496.9,409.9 L497.6,409.6 L498.3,408.2 L499.0,406.7 L499.7,405.9 L500.4,404.9 L501.1,404.4 L501.8,403.5 L502.5,402.6 L503.2,402.0 L503.9,401.3 L504.6,400.7 L505.3,400.1 L506.0,399.8 L506.7,399.9 L507.4,399.7 L508.1,399.9 L508.8,399.9 L509.5,399.6 L510.2,399.6 L510.9,398.4 L511.6,397.8 L512.3,398.0 L513.0,397.3 L513.7,396.4 L514.4,396.0 L515.1,396.1 L515.8,395.6 L516.5,394.4 L517.2,393.5 L517.9,393.0 L518.6,392.9 L519.3,392.8 L520.0,392.6 L520.7,393.0 L521.4,394.0 L522.1,395.3 L522.8,396.4 L523.5,397.8 L524.2,399.0 L524.9,399.8 L525.6,401.5 L526.3,403.1 L527.0,404.4 L527.7,405.5 L528.4,407.3 L529.1,409.3 L529.8,410.3 L530.5,411.7 L531.2,412.9 L531.9,413.8 L532.6,415.4 L533.3,416.6 L534.0,417.4 L534.7,419.1 L535.4,419.7 L536.1,420.2 L536.8,421.1 L537.5,422.3 L538.2,423.3 L538.9,423.5 L539.6,424.8 L540.3,426.1 L541.0,426.1 L541.7,426.8 L542.4,427.8 L543.1,428.9 L543.8,430.0 L544.5,429.8 L545.2,430.0 L545.9,430.8 L546.6,432.0 L547.3,433.4 L548.0,434.7 L548.7,435.9 L549.4,436.2 L550.1,436.9 L550.8,438.4 L551.5,439.4 L552.2,439.3 L552.9,439.2 L553.6,439.5 L554.3,439.8 L555.0,439.6 L555.7,440.1 L556.4,440.5 L557.1,440.4 L557.8,440.0 L558.5,440.0 L559.2,441.0 L559.9,439.7 L560.6,438.7 L561.3,438.3 L562.0,436.2 L562.7,434.1 L563.4,433.1 L564.1,432.1 L564.8,430.6 L565.5,429.2 L566.2,427.6 L566.9,426.7 L567.6,425.4 L568.3,424.1 L569.0,422.7 L569.7,421.0 L570.4,420.0 L571.1,419.6 L571.8,418.7 L572.5,417.2 L573.2,417.2 L573.9,416.9 L574.6,416.8 L575.3,416.6 L576.0,415.5 L576.7,414.5 L577.4,413.1 L578.1,411.9 L578.8,411.5 L579.5,410.8 L580.2,409.6 L580.9,408.4 L581.6,407.6 L582.3,407.2 L583.0,406.6 L583.7,405.2 L584.4,404.0 L585.1,403.0 L585.8,401.6 L586.5,400.0 L587.2,398.4 L587.9,397.3 L588.6,397.0 L589.3,396.1 L590.0,395.6 L590.7,395.6 L591.4,396.3 L592.1,396.8 L592.8,396.5 L593.5,396.8 L594.2,398.1 L594.9,399.3 L595.6,400.0 L596.3,400.6 L597.0,401.2 L597.7,401.3 L598.4,401.8 L599.1,402.4 L599.8,403.1 L600.5,403.6 L601.2,403.9 L601.9,404.2 L602.6,403.4 L603.3,403.2 L604.0,403.5 L604.7,402.4 L605.4,401.8 L606.1,402.1 L606.8,401.8 L607.5,402.2 L608.2,403.1 L608.9,403.9 L609.6,404.5 L610.3,404.3 L611.0,404.2 L611.7,404.1 L612.4,403.6 L613.1,402.6 L613.8,401.7 L614.5,401.1 L615.2,400.6 L615.9,400.2 L616.6,400.0 L617.3,399.5 L618.0,399.0 L618.7,398.6 L619.4,398.6 L620.1,398.5 L620.8,397.5 L621.5,397.0 L622.2,396.9 L622.9,396.7 L623.6,396.8 L624.3,396.9 L625.0,397.0 L625.7,396.8 L626.4,397.5 L627.1,398.7 L627.8,398.2 L628.5,397.6 L629.2,397.2 L629.9,396.4 L630.6,395.5 L631.3,394.6 L632.0,394.2 L632.7,393.1 L633.4,393.0 L634.1,393.7 L634.8,393.1 L635.5,393.7 L636.2,394.9 L636.9,395.2 L637.6,395.7 L638.3,395.8 L639.0,395.7 L639.7,395.9 L640.4,396.3 L641.1,397.3 L641.8,398.1 L642.5,397.6 L643.2,397.2 L643.9,397.7 L644.6,398.3 L645.3,398.3 L646.0,398.2 L646.7,399.4 L647.4,400.4 L648.1,399.8 L648.8,399.5 L649.5,400.3 L650.2,401.5 L650.9,402.5 L651.6,403.4 L652.3,404.1 L653.0,405.7 L653.7,407.7 L654.4,408.5 L655.1,408.4 L655.8,408.6 L656.5,408.7 L657.2,408.1 L657.9,408.1 L658.6,407.9 L659.3,408.1 L660.0,408.6 L660.7,407.9 L661.4,407.9 L662.1,408.5 L662.8,408.0 L663.5,407.7 L664.2,409.0 L664.9,408.9 L665.6,408.6 L666.3,408.9 L667.0,409.2 L667.7,409.2 L668.4,409.0 L669.1,409.8 L669.8,410.5 L670.5,410.9 L671.2,411.1 L671.9,411.5 L672.6,411.6 L673.3,411.6 L674.0,411.2 L674.7,411.0 L675.4,412.4 L676.1,413.3 L676.8,412.9 L677.5,413.1 L678.2,414.2 L678.9,415.0 L679.6,416.5 L680.3,417.5 L681.0,417.7 L681.7,418.8 L682.4,418.2 L683.1,417.7 L683.8,417.7 L684.5,417.3 L685.2,417.6 L685.9,417.5" fill="none" stroke="#1818d2" stroke-width="1.9" stroke-linejoin="round"/>
<path d="M420.6,558.6 L421.3,558.8 L422.0,558.3 L422.7,558.0 L423.4,557.1 L424.1,557.8 L424.8,557.5 L425.5,558.0 L426.2,557.9 L426.9,557.9 L427.6,559.1 L428.3,558.9 L429.0,559.6 L429.7,559.4 L430.4,559.4 L431.1,558.5 L431.8,558.4 L432.5,558.6 L433.2,559.0 L433.9,558.8 L434.6,558.9 L435.3,559.2 L436.0,559.5 L436.7,560.0 L437.4,560.7 L438.1,562.2 L438.8,563.8 L439.5,564.3 L440.2,564.1 L440.9,563.9 L441.6,564.4 L442.3,564.4 L443.0,564.0 L443.7,563.2 L444.4,563.3 L445.1,564.0 L445.8,563.6 L446.5,562.3 L447.2,561.3 L447.9,561.1 L448.6,561.4 L449.3,561.1 L450.0,560.8 L450.7,559.8 L451.4,558.0 L452.1,557.1 L452.8,556.2 L453.5,555.8 L454.2,554.3 L454.9,553.4 L455.6,551.7 L456.3,551.0 L457.0,550.1 L457.7,550.1 L458.4,550.2 L459.1,550.1 L459.8,549.6 L460.5,549.8 L461.2,550.0 L461.9,550.4 L462.6,550.0 L463.3,550.4 L464.0,550.5 L464.7,550.5 L465.4,550.3 L466.1,549.7 L466.8,549.2 L467.5,548.9 L468.2,549.3 L468.9,549.5 L469.6,549.7 L470.3,549.9 L471.0,549.9 L471.7,549.4 L472.4,549.9 L473.1,550.5 L473.8,550.9 L474.5,551.0 L475.2,551.1 L475.9,551.5 L476.6,550.8 L477.3,550.3 L478.0,550.0 L478.7,551.0 L479.4,550.9 L480.1,550.8 L480.8,549.6 L481.5,549.5 L482.2,549.4 L482.9,548.8 L483.6,547.8 L484.3,547.6 L485.0,548.1 L485.7,548.7 L486.4,548.7 L487.1,549.0 L487.8,548.5 L488.5,548.1 L489.2,548.2 L489.9,548.7 L490.6,548.6 L491.3,548.6 L492.0,548.7 L492.7,548.4 L493.4,547.9 L494.1,547.5 L494.8,548.1 L495.5,547.7 L496.2,548.5 L496.9,547.8 L497.6,548.4 L498.3,547.6 L499.0,548.0 L499.7,548.3 L500.4,549.2 L501.1,549.7 L501.8,549.4 L502.5,549.0 L503.2,548.7 L503.9,548.9 L504.6,548.7 L505.3,549.0 L506.0,548.9 L506.7,549.5 L507.4,549.3 L508.1,549.5 L508.8,549.0 L509.5,548.8 L510.2,548.3 L510.9,548.6 L511.6,548.8 L512.3,549.7 L513.0,549.5 L513.7,550.8 L514.4,550.6 L515.1,551.5 L515.8,550.9 L516.5,550.2 L517.2,549.7 L517.9,549.8 L518.6,549.7 L519.3,549.8 L520.0,548.5 L520.7,548.6 L521.4,547.7 L522.1,546.7 L522.8,546.0 L523.5,544.9 L524.2,544.3 L524.9,543.6 L525.6,544.1 L526.3,543.5 L527.0,542.7 L527.7,540.7 L528.4,539.7 L529.1,539.0 L529.8,539.1 L530.5,539.1 L531.2,539.1 L531.9,538.6 L532.6,539.4 L533.3,538.6 L534.0,538.9 L534.7,538.4 L535.4,539.1 L536.1,538.7 L536.8,538.3 L537.5,538.3 L538.2,539.0 L538.9,539.1 L539.6,539.1 L540.3,539.5 L541.0,541.0 L541.7,542.3 L542.4,543.3 L543.1,544.3 L543.8,547.1 L544.5,549.3 L545.2,551.3 L545.9,552.4 L546.6,554.5 L547.3,556.0 L548.0,555.8 L548.7,555.2 L549.4,554.6 L550.1,554.7 L550.8,553.9 L551.5,553.3 L552.2,552.5 L552.9,552.4 L553.6,551.9 L554.3,551.2 L555.0,550.0 L555.7,549.4 L556.4,549.8 L557.1,550.5 L557.8,550.6 L558.5,549.3 L559.2,549.0 L559.9,548.9 L560.6,549.9 L561.3,549.8 L562.0,550.0 L562.7,550.0 L563.4,551.4 L564.1,551.9 L564.8,552.2 L565.5,551.4 L566.2,551.3 L566.9,551.5 L567.6,551.5 L568.3,551.7 L569.0,552.1 L569.7,552.7 L570.4,553.0 L571.1,553.4 L571.8,553.5 L572.5,553.3 L573.2,552.6 L573.9,552.6 L574.6,553.2 L575.3,554.2 L576.0,555.1 L576.7,555.2 L577.4,555.0 L578.1,555.0 L578.8,555.7 L579.5,555.8 L580.2,555.4 L580.9,554.8 L581.6,554.0 L582.3,552.5 L583.0,549.8 L583.7,548.5 L584.4,547.1 L585.1,546.1 L585.8,544.0 L586.5,541.9 L587.2,540.7 L587.9,539.9 L588.6,540.3 L589.3,539.6 L590.0,539.9 L590.7,539.4 L591.4,540.0 L592.1,539.0 L592.8,538.9 L593.5,538.8 L594.2,539.1 L594.9,538.3 L595.6,537.8 L596.3,537.9 L597.0,537.9 L597.7,537.6 L598.4,538.1 L599.1,539.0 L599.8,540.8 L600.5,541.6 L601.2,542.8 L601.9,543.8 L602.6,546.2 L603.3,548.0 L604.0,549.6 L604.7,550.4 L605.4,551.4 L606.1,552.5 L606.8,553.3 L607.5,554.5 L608.2,554.4 L608.9,554.5 L609.6,554.1 L610.3,555.3 L611.0,556.4 L611.7,558.0 L612.4,559.0 L613.1,559.3 L613.8,559.1 L614.5,558.8 L615.2,559.4 L615.9,559.2 L616.6,559.1 L617.3,558.4 L618.0,558.4 L618.7,558.3 L619.4,557.9 L620.1,557.5 L620.8,557.3 L621.5,557.3 L622.2,557.4 L622.9,556.9 L623.6,556.9 L624.3,556.7 L625.0,556.7 L625.7,556.5 L626.4,556.8 L627.1,556.8 L627.8,556.6 L628.5,555.8 L629.2,555.1 L629.9,554.2 L630.6,554.9 L631.3,554.4 L632.0,554.3 L632.7,553.3 L633.4,552.2 L634.1,551.0 L634.8,549.6 L635.5,548.9 L636.2,547.9 L636.9,547.0 L637.6,547.0 L638.3,546.9 L639.0,546.5 L639.7,545.5 L640.4,544.3 L641.1,544.1 L641.8,543.9 L642.5,543.7 L643.2,543.1 L643.9,542.6 L644.6,542.5 L645.3,541.8 L646.0,541.4 L646.7,541.0 L647.4,541.4 L648.1,541.6 L648.8,542.1 L649.5,541.8 L650.2,541.6 L650.9,542.2 L651.6,541.6 L652.3,542.1 L653.0,541.6 L653.7,542.2 L654.4,541.6 L655.1,541.5 L655.8,541.0 L656.5,540.7 L657.2,540.8 L657.9,540.8 L658.6,541.8 L659.3,542.7 L660.0,542.7 L660.7,542.5 L661.4,543.0 L662.1,545.0 L662.8,546.3 L663.5,547.1 L664.2,547.9 L664.9,548.7 L665.6,549.7 L666.3,549.8 L667.0,550.2 L667.7,549.4 L668.4,549.7 L669.1,549.4 L669.8,550.8 L670.5,551.9 L671.2,552.8 L671.9,552.1 L672.6,551.5 L673.3,551.4 L674.0,552.0 L674.7,552.4 L675.4,552.7 L676.1,551.8 L676.8,551.9 L677.5,551.4 L678.2,552.0 L678.9,552.0 L679.6,552.1 L680.3,551.7 L681.0,550.8 L681.7,550.8 L682.4,551.5 L683.1,552.3 L683.8,552.1 L684.5,551.5 L685.2,551.4 L685.9,551.1 L685.9,572.4 L685.2,571.5 L684.5,571.9 L683.8,572.2 L683.1,573.4 L682.4,573.4 L681.7,572.9 L681.0,572.6 L680.3,572.5 L679.6,573.4 L678.9,573.3 L678.2,573.6 L677.5,573.0 L676.8,571.8 L676.1,571.2 L675.4,571.6 L674.7,572.0 L674.0,572.1 L673.3,572.3 L672.6,572.8 L671.9,572.9 L671.2,572.9 L670.5,573.4 L669.8,574.2 L669.1,574.4 L668.4,575.1 L667.7,575.6 L667.0,575.5 L666.3,576.0 L665.6,575.8 L664.9,576.0 L664.2,575.9 L663.5,576.2 L662.8,576.9 L662.1,576.3 L661.4,576.2 L660.7,575.6 L660.0,575.4 L659.3,575.4 L658.6,575.8 L657.9,576.1 L657.2,576.1 L656.5,575.8 L655.8,576.4 L655.1,577.0 L654.4,578.2 L653.7,579.3 L653.0,580.2 L652.3,581.6 L651.6,582.5 L650.9,584.0 L650.2,584.0 L649.5,585.1 L648.8,584.7 L648.1,584.8 L647.4,584.0 L646.7,584.0 L646.0,583.6 L645.3,583.1 L644.6,582.5 L643.9,581.8 L643.2,580.3 L642.5,579.5 L641.8,579.0 L641.1,579.6 L640.4,579.2 L639.7,578.8 L639.0,579.2 L638.3,578.9 L637.6,579.7 L636.9,579.4 L636.2,580.7 L635.5,580.5 L634.8,581.1 L634.1,581.0 L633.4,581.9 L632.7,582.1 L632.0,582.8 L631.3,583.0 L630.6,583.4 L629.9,584.0 L629.2,584.6 L628.5,585.7 L627.8,587.3 L627.1,588.6 L626.4,589.2 L625.7,589.4 L625.0,590.6 L624.3,590.8 L623.6,590.8 L622.9,590.1 L622.2,589.9 L621.5,589.7 L620.8,589.7 L620.1,589.5 L619.4,589.1 L618.7,589.3 L618.0,589.8 L617.3,589.7 L616.6,588.8 L615.9,588.4 L615.2,588.2 L614.5,587.9 L613.8,587.6 L613.1,587.5 L612.4,587.5 L611.7,586.8 L611.0,586.2 L610.3,585.7 L609.6,584.5 L608.9,583.0 L608.2,581.5 L607.5,580.3 L606.8,579.9 L606.1,579.2 L605.4,578.4 L604.7,578.3 L604.0,577.7 L603.3,577.2 L602.6,575.3 L601.9,574.3 L601.2,574.1 L600.5,573.4 L599.8,572.4 L599.1,571.6 L598.4,570.9 L597.7,569.9 L597.0,570.2 L596.3,570.9 L595.6,572.1 L594.9,572.3 L594.2,572.5 L593.5,573.2 L592.8,573.6 L592.1,574.1 L591.4,574.3 L590.7,574.7 L590.0,575.6 L589.3,576.2 L588.6,576.3 L587.9,576.4 L587.2,576.1 L586.5,576.3 L585.8,576.7 L585.1,577.7 L584.4,578.4 L583.7,578.5 L583.0,579.1 L582.3,579.4 L581.6,579.6 L580.9,579.1 L580.2,578.8 L579.5,579.6 L578.8,579.7 L578.1,579.4 L577.4,578.9 L576.7,578.6 L576.0,578.4 L575.3,577.8 L574.6,576.6 L573.9,575.7 L573.2,575.3 L572.5,575.3 L571.8,574.7 L571.1,574.3 L570.4,573.7 L569.7,573.7 L569.0,573.4 L568.3,573.2 L567.6,573.1 L566.9,572.0 L566.2,571.7 L565.5,571.2 L564.8,571.9 L564.1,571.7 L563.4,571.5 L562.7,570.7 L562.0,569.6 L561.3,569.2 L560.6,568.9 L559.9,569.6 L559.2,569.9 L558.5,569.7 L557.8,569.1 L557.1,568.8 L556.4,569.0 L555.7,570.1 L555.0,571.1 L554.3,571.8 L553.6,572.5 L552.9,573.9 L552.2,575.4 L551.5,576.6 L550.8,577.3 L550.1,578.4 L549.4,579.0 L548.7,579.3 L548.0,578.8 L547.3,578.8 L546.6,578.3 L545.9,578.2 L545.2,577.0 L544.5,575.9 L543.8,574.7 L543.1,573.4 L542.4,572.2 L541.7,571.5 L541.0,570.3 L540.3,569.1 L539.6,567.6 L538.9,567.3 L538.2,567.3 L537.5,566.2 L536.8,565.3 L536.1,564.2 L535.4,564.2 L534.7,563.2 L534.0,563.3 L533.3,562.8 L532.6,563.4 L531.9,562.5 L531.2,562.3 L530.5,562.3 L529.8,562.3 L529.1,563.1 L528.4,563.2 L527.7,564.1 L527.0,564.8 L526.3,565.2 L525.6,565.4 L524.9,564.6 L524.2,564.8 L523.5,564.9 L522.8,566.0 L522.1,566.2 L521.4,566.5 L520.7,566.4 L520.0,566.6 L519.3,566.4 L518.6,566.4 L517.9,566.4 L517.2,567.1 L516.5,566.7 L515.8,566.9 L515.1,566.1 L514.4,566.9 L513.7,566.0 L513.0,566.0 L512.3,565.5 L511.6,565.5 L510.9,565.5 L510.2,565.4 L509.5,565.2 L508.8,565.2 L508.1,565.1 L507.4,565.0 L506.7,564.2 L506.0,563.3 L505.3,563.3 L504.6,563.6 L503.9,563.6 L503.2,564.1 L502.5,563.7 L501.8,563.3 L501.1,562.7 L500.4,562.7 L499.7,562.4 L499.0,562.3 L498.3,562.0 L497.6,562.5 L496.9,562.4 L496.2,562.0 L495.5,562.3 L494.8,562.3 L494.1,562.9 L493.4,562.5 L492.7,562.2 L492.0,562.0 L491.3,563.1 L490.6,563.9 L489.9,564.8 L489.2,565.1 L488.5,565.9 L487.8,566.8 L487.1,567.3 L486.4,568.2 L485.7,568.5 L485.0,569.4 L484.3,569.2 L483.6,569.6 L482.9,570.6 L482.2,570.8 L481.5,571.3 L480.8,570.8 L480.1,571.3 L479.4,571.6 L478.7,572.1 L478.0,572.2 L477.3,572.8 L476.6,572.6 L475.9,572.2 L475.2,572.1 L474.5,572.0 L473.8,572.0 L473.1,570.9 L472.4,571.2 L471.7,570.8 L471.0,570.8 L470.3,569.0 L469.6,569.1 L468.9,568.6 L468.2,569.4 L467.5,569.0 L466.8,569.2 L466.1,569.4 L465.4,570.6 L464.7,571.9 L464.0,573.0 L463.3,574.3 L462.6,575.5 L461.9,576.2 L461.2,577.2 L460.5,578.5 L459.8,579.7 L459.1,580.3 L458.4,580.9 L457.7,581.9 L457.0,582.4 L456.3,583.1 L455.6,583.1 L454.9,583.7 L454.2,584.3 L453.5,585.4 L452.8,585.6 L452.1,586.2 L451.4,586.2 L450.7,587.1 L450.0,586.8 L449.3,587.0 L448.6,586.7 L447.9,586.6 L447.2,586.1 L446.5,585.7 L445.8,585.1 L445.1,585.2 L444.4,585.3 L443.7,585.8 L443.0,585.7 L442.3,586.0 L441.6,586.0 L440.9,585.7 L440.2,584.5 L439.5,583.3 L438.8,583.0 L438.1,582.7 L437.4,583.0 L436.7,582.5 L436.0,582.4 L435.3,581.9 L434.6,581.6 L433.9,580.0 L433.2,579.0 L432.5,578.1 L431.8,579.1 L431.1,579.6 L430.4,580.3 L429.7,580.1 L429.0,580.0 L428.3,579.9 L427.6,580.3 L426.9,580.4 L426.2,580.5 L425.5,580.5 L424.8,581.4 L424.1,581.8 L423.4,582.1 L422.7,581.8 L422.0,582.4 L421.3,583.0 L420.6,583.5Z" fill="rgba(245,120,120,0.32)" stroke="none"/>
<path d="M420.6,567.5 L421.3,567.6 L422.0,567.4 L422.7,566.2 L423.4,565.8 L424.1,565.6 L424.8,565.9 L425.5,566.4 L426.2,565.6 L426.9,565.8 L427.6,566.0 L428.3,565.4 L429.0,565.8 L429.7,566.1 L430.4,565.2 L431.1,565.9 L431.8,567.2 L432.5,567.5 L433.2,567.5 L433.9,567.3 L434.6,567.9 L435.3,569.1 L436.0,569.6 L436.7,570.0 L437.4,570.0 L438.1,570.3 L438.8,571.6 L439.5,571.7 L440.2,571.9 L440.9,573.1 L441.6,574.4 L442.3,575.3 L443.0,575.5 L443.7,575.3 L444.4,575.2 L445.1,575.1 L445.8,575.0 L446.5,574.8 L447.2,574.3 L447.9,573.9 L448.6,573.4 L449.3,573.2 L450.0,572.9 L450.7,572.9 L451.4,572.7 L452.1,572.1 L452.8,571.6 L453.5,571.1 L454.2,571.1 L454.9,570.9 L455.6,570.3 L456.3,569.5 L457.0,569.2 L457.7,569.0 L458.4,567.9 L459.1,566.5 L459.8,564.3 L460.5,561.4 L461.2,559.7 L461.9,558.5 L462.6,557.6 L463.3,558.5 L464.0,559.0 L464.7,558.5 L465.4,558.2 L466.1,558.3 L466.8,558.0 L467.5,558.2 L468.2,558.6 L468.9,559.4 L469.6,560.0 L470.3,560.7 L471.0,561.8 L471.7,562.7 L472.4,562.9 L473.1,562.8 L473.8,562.8 L474.5,562.1 L475.2,561.8 L475.9,561.9 L476.6,561.6 L477.3,561.6 L478.0,561.3 L478.7,559.7 L479.4,559.1 L480.1,559.0 L480.8,558.8 L481.5,559.3 L482.2,558.8 L482.9,558.0 L483.6,558.2 L484.3,558.2 L485.0,558.4 L485.7,558.3 L486.4,557.6 L487.1,557.7 L487.8,556.9 L488.5,555.8 L489.2,555.0 L489.9,554.4 L490.6,554.4 L491.3,554.2 L492.0,553.5 L492.7,552.7 L493.4,552.6 L494.1,553.0 L494.8,554.2 L495.5,556.1 L496.2,556.5 L496.9,556.6 L497.6,558.7 L498.3,559.5 L499.0,559.3 L499.7,559.3 L500.4,559.0 L501.1,558.9 L501.8,558.0 L502.5,557.3 L503.2,556.5 L503.9,555.7 L504.6,555.7 L505.3,555.6 L506.0,554.8 L506.7,554.6 L507.4,555.5 L508.1,556.6 L508.8,557.7 L509.5,558.7 L510.2,559.7 L510.9,560.6 L511.6,560.8 L512.3,560.7 L513.0,560.7 L513.7,560.2 L514.4,560.3 L515.1,560.5 L515.8,559.9 L516.5,559.7 L517.2,559.7 L517.9,559.4 L518.6,558.8 L519.3,558.1 L520.0,557.0 L520.7,556.6 L521.4,556.4 L522.1,555.8 L522.8,556.1 L523.5,555.2 L524.2,554.1 L524.9,554.5 L525.6,554.3 L526.3,553.9 L527.0,552.8 L527.7,551.8 L528.4,552.2 L529.1,552.2 L529.8,552.5 L530.5,552.7 L531.2,552.3 L531.9,552.4 L532.6,552.5 L533.3,552.5 L534.0,552.6 L534.7,552.8 L535.4,553.1 L536.1,553.5 L536.8,553.5 L537.5,553.4 L538.2,554.7 L538.9,556.0 L539.6,556.5 L540.3,557.4 L541.0,558.5 L541.7,560.2 L542.4,561.1 L543.1,562.0 L543.8,563.2 L544.5,563.8 L545.2,565.2 L545.9,566.1 L546.6,567.5 L547.3,568.7 L548.0,568.8 L548.7,568.5 L549.4,568.7 L550.1,568.4 L550.8,566.3 L551.5,564.3 L552.2,562.8 L552.9,561.6 L553.6,561.1 L554.3,560.4 L555.0,559.7 L555.7,559.5 L556.4,559.6 L557.1,560.1 L557.8,559.6 L558.5,559.1 L559.2,559.6 L559.9,559.5 L560.6,559.0 L561.3,559.8 L562.0,560.8 L562.7,560.9 L563.4,561.8 L564.1,562.5 L564.8,562.1 L565.5,562.6 L566.2,563.6 L566.9,564.5 L567.6,565.0 L568.3,564.9 L569.0,565.5 L569.7,566.1 L570.4,566.0 L571.1,566.4 L571.8,567.1 L572.5,567.7 L573.2,568.8 L573.9,568.3 L574.6,567.5 L575.3,567.9 L576.0,568.2 L576.7,568.4 L577.4,568.8 L578.1,569.4 L578.8,569.1 L579.5,568.3 L580.2,567.9 L580.9,568.2 L581.6,568.4 L582.3,566.7 L583.0,564.8 L583.7,564.3 L584.4,564.0 L585.1,563.3 L585.8,562.1 L586.5,561.2 L587.2,560.7 L587.9,559.9 L588.6,559.8 L589.3,559.5 L590.0,558.2 L590.7,557.6 L591.4,557.1 L592.1,557.0 L592.8,557.6 L593.5,557.1 L594.2,557.1 L594.9,558.2 L595.6,558.2 L596.3,557.5 L597.0,557.4 L597.7,558.0 L598.4,558.2 L599.1,558.3 L599.8,559.3 L600.5,560.6 L601.2,562.1 L601.9,563.2 L602.6,565.1 L603.3,567.2 L604.0,568.2 L604.7,568.9 L605.4,570.1 L606.1,570.8 L606.8,571.5 L607.5,572.5 L608.2,572.3 L608.9,572.4 L609.6,573.7 L610.3,574.6 L611.0,574.4 L611.7,574.5 L612.4,574.9 L613.1,574.8 L613.8,574.8 L614.5,574.9 L615.2,574.8 L615.9,575.0 L616.6,574.6 L617.3,574.4 L618.0,574.5 L618.7,574.2 L619.4,574.0 L620.1,573.8 L620.8,573.4 L621.5,572.8 L622.2,572.0 L622.9,571.3 L623.6,570.2 L624.3,569.2 L625.0,568.8 L625.7,568.2 L626.4,567.4 L627.1,566.7 L627.8,566.8 L628.5,566.9 L629.2,566.6 L629.9,566.8 L630.6,566.9 L631.3,566.8 L632.0,566.2 L632.7,565.8 L633.4,566.0 L634.1,566.2 L634.8,566.5 L635.5,567.3 L636.2,566.4 L636.9,565.6 L637.6,566.1 L638.3,566.4 L639.0,565.9 L639.7,565.0 L640.4,564.4 L641.1,563.8 L641.8,563.6 L642.5,563.2 L643.2,562.2 L643.9,561.9 L644.6,562.6 L645.3,562.8 L646.0,563.1 L646.7,563.7 L647.4,564.1 L648.1,564.9 L648.8,565.4 L649.5,565.2 L650.2,565.2 L650.9,565.3 L651.6,565.4 L652.3,564.4 L653.0,563.0 L653.7,561.9 L654.4,559.9 L655.1,559.3 L655.8,559.6 L656.5,559.2 L657.2,559.3 L657.9,560.5 L658.6,560.6 L659.3,560.2 L660.0,561.3 L660.7,562.1 L661.4,561.6 L662.1,561.7 L662.8,562.3 L663.5,562.5 L664.2,563.1 L664.9,563.2 L665.6,562.9 L666.3,563.5 L667.0,563.0 L667.7,562.4 L668.4,563.0 L669.1,562.7 L669.8,562.3 L670.5,562.2 L671.2,562.4 L671.9,562.5 L672.6,562.6 L673.3,563.0 L674.0,562.8 L674.7,562.3 L675.4,562.3 L676.1,562.5 L676.8,562.0 L677.5,562.4 L678.2,562.9 L678.9,562.9 L679.6,562.6 L680.3,562.8 L681.0,564.0 L681.7,564.1 L682.4,563.3 L683.1,563.3 L683.8,564.0 L684.5,564.4 L685.2,564.6 L685.9,565.0" fill="none" stroke="#e3202a" stroke-width="1.8" stroke-linejoin="round"/>
<path d="M420.6,548.4 L421.3,547.4 L422.0,545.2 L422.7,544.2 L423.4,543.0 L424.1,542.9 L424.8,541.9 L425.5,540.7 L426.2,540.4 L426.9,540.2 L427.6,540.9 L428.3,540.8 L429.0,542.0 L429.7,543.5 L430.4,545.2 L431.1,546.6 L431.8,546.3 L432.5,546.8 L433.2,547.2 L433.9,547.9 L434.6,548.3 L435.3,547.5 L436.0,547.2 L436.7,546.3 L437.4,546.0 L438.1,545.7 L438.8,544.6 L439.5,544.1 L440.2,542.9 L440.9,542.0 L441.6,541.1 L442.3,540.4 L443.0,541.1 L443.7,541.5 L444.4,541.8 L445.1,541.3 L445.8,539.9 L446.5,539.5 L447.2,538.9 L447.9,539.6 L448.6,539.5 L449.3,539.7 L450.0,538.6 L450.7,537.3 L451.4,535.0 L452.1,533.5 L452.8,531.4 L453.5,530.8 L454.2,529.1 L454.9,528.3 L455.6,526.8 L456.3,526.4 L457.0,526.3 L457.7,526.4 L458.4,527.7 L459.1,529.0 L459.8,532.0 L460.5,534.2 L461.2,537.1 L461.9,539.0 L462.6,539.1 L463.3,537.3 L464.0,532.9 L464.7,528.7 L465.4,522.4 L466.1,515.9 L466.8,509.0 L467.5,504.3 L468.2,500.7 L468.9,499.1 L469.6,495.9 L470.3,494.0 L471.0,492.9 L471.7,493.0 L472.4,493.0 L473.1,494.6 L473.8,499.8 L474.5,507.5 L475.2,514.6 L475.9,522.1 L476.6,527.9 L477.3,531.1 L478.0,534.0 L478.7,536.6 L479.4,540.3 L480.1,543.0 L480.8,545.0 L481.5,546.2 L482.2,547.4 L482.9,548.9 L483.6,549.6 L484.3,549.5 L485.0,548.2 L485.7,546.0 L486.4,543.0 L487.1,539.2 L487.8,535.3 L488.5,531.3 L489.2,529.7 L489.9,529.3 L490.6,529.5 L491.3,528.9 L492.0,528.4 L492.7,528.3 L493.4,527.3 L494.1,527.4 L494.8,526.9 L495.5,526.3 L496.2,521.1 L496.9,517.1 L497.6,516.3 L498.3,517.0 L499.0,517.7 L499.7,518.5 L500.4,519.2 L501.1,521.1 L501.8,521.8 L502.5,521.3 L503.2,519.8 L503.9,518.8 L504.6,516.9 L505.3,515.3 L506.0,512.2 L506.7,511.3 L507.4,509.3 L508.1,509.8 L508.8,510.5 L509.5,512.5 L510.2,514.5 L510.9,518.1 L511.6,520.7 L512.3,523.9 L513.0,525.6 L513.7,527.5 L514.4,529.2 L515.1,530.7 L515.8,532.4 L516.5,534.0 L517.2,535.5 L517.9,536.8 L518.6,537.7 L519.3,538.9 L520.0,540.7 L520.7,543.1 L521.4,545.2 L522.1,546.5 L522.8,547.5 L523.5,548.0 L524.2,549.1 L524.9,549.3 L525.6,549.9 L526.3,549.8 L527.0,550.1 L527.7,550.9 L528.4,550.8 L529.1,551.1 L529.8,550.5 L530.5,551.6 L531.2,552.7 L531.9,553.3 L532.6,552.6 L533.3,552.9 L534.0,554.0 L534.7,555.2 L535.4,555.9 L536.1,556.6 L536.8,557.4 L537.5,558.8 L538.2,560.1 L538.9,562.2 L539.6,563.1 L540.3,564.4 L541.0,565.9 L541.7,568.3 L542.4,570.0 L543.1,572.5 L543.8,574.1 L544.5,575.0 L545.2,576.1 L545.9,577.0 L546.6,578.5 L547.3,578.9 L548.0,579.0 L548.7,579.9 L549.4,579.5 L550.1,580.0 L550.8,580.3 L551.5,581.3 L552.2,580.9 L552.9,579.4 L553.6,578.4 L554.3,577.5 L555.0,577.0 L555.7,575.9 L556.4,574.5 L557.1,573.6 L557.8,571.4 L558.5,571.0 L559.2,568.7 L559.9,567.7 L560.6,565.4 L561.3,564.6 L562.0,563.4 L562.7,561.9 L563.4,559.7 L564.1,557.1 L564.8,554.3 L565.5,550.7 L566.2,547.0 L566.9,543.6 L567.6,542.0 L568.3,540.8 L569.0,540.1 L569.7,539.1 L570.4,538.1 L571.1,536.9 L571.8,535.5 L572.5,534.1 L573.2,534.2 L573.9,534.5 L574.6,534.1 L575.3,533.2 L576.0,532.7 L576.7,533.5 L577.4,533.1 L578.1,532.8 L578.8,532.4 L579.5,531.8 L580.2,531.3 L580.9,530.7 L581.6,531.0 L582.3,531.9 L583.0,532.2 L583.7,532.9 L584.4,532.8 L585.1,534.0 L585.8,535.6 L586.5,537.2 L587.2,538.1 L587.9,538.5 L588.6,539.3 L589.3,540.3 L590.0,541.5 L590.7,542.2 L591.4,542.6 L592.1,542.4 L592.8,542.3 L593.5,542.7 L594.2,543.4 L594.9,543.4 L595.6,543.3 L596.3,543.6 L597.0,544.1 L597.7,543.9 L598.4,543.1 L599.1,542.5 L599.8,542.4 L600.5,541.9 L601.2,540.7 L601.9,539.4 L602.6,538.1 L603.3,537.7 L604.0,536.9 L604.7,537.2 L605.4,536.9 L606.1,537.4 L606.8,537.8 L607.5,537.7 L608.2,537.1 L608.9,536.4 L609.6,536.5 L610.3,536.8 L611.0,536.4 L611.7,536.7 L612.4,536.6 L613.1,536.1 L613.8,535.8 L614.5,535.9 L615.2,536.8 L615.9,536.2 L616.6,535.0 L617.3,534.1 L618.0,533.1 L618.7,532.4 L619.4,531.1 L620.1,530.6 L620.8,529.7 L621.5,528.5 L622.2,528.2 L622.9,527.8 L623.6,528.2 L624.3,528.9 L625.0,530.0 L625.7,530.7 L626.4,530.8 L627.1,531.5 L627.8,532.7 L628.5,533.3 L629.2,534.8 L629.9,536.4 L630.6,538.1 L631.3,538.4 L632.0,538.9 L632.7,539.7 L633.4,540.1 L634.1,540.6 L634.8,540.8 L635.5,541.9 L636.2,542.7 L636.9,543.0 L637.6,543.0 L638.3,544.0 L639.0,544.6 L639.7,545.3 L640.4,544.8 L641.1,546.0 L641.8,546.3 L642.5,546.8 L643.2,546.3 L643.9,546.6 L644.6,547.4 L645.3,548.3 L646.0,548.2 L646.7,548.7 L647.4,548.5 L648.1,548.7 L648.8,548.2 L649.5,548.1 L650.2,548.2 L650.9,548.0 L651.6,548.2 L652.3,548.2 L653.0,547.8 L653.7,548.0 L654.4,548.0 L655.1,549.0 L655.8,549.0 L656.5,549.4 L657.2,549.1 L657.9,549.4 L658.6,549.3 L659.3,549.2 L660.0,549.2 L660.7,548.7 L661.4,549.4 L662.1,549.7 L662.8,550.9 L663.5,551.8 L664.2,552.3 L664.9,552.6 L665.6,552.2 L666.3,552.3 L667.0,552.0 L667.7,552.0 L668.4,551.9 L669.1,552.3 L669.8,553.2 L670.5,552.8 L671.2,552.0 L671.9,551.5 L672.6,552.0 L673.3,552.6 L674.0,552.9 L674.7,553.1 L675.4,552.7 L676.1,551.7 L676.8,550.2 L677.5,550.1 L678.2,549.9 L678.9,549.9 L679.6,548.6 L680.3,547.3 L681.0,545.9 L681.7,545.0 L682.4,544.1 L683.1,543.4 L683.8,543.2 L684.5,543.1 L685.2,543.1 L685.9,542.4 L685.9,581.6 L685.2,581.1 L684.5,581.5 L683.8,580.9 L683.1,581.4 L682.4,581.4 L681.7,581.4 L681.0,580.5 L680.3,579.7 L679.6,580.1 L678.9,580.3 L678.2,580.7 L677.5,580.5 L676.8,580.8 L676.1,581.3 L675.4,580.9 L674.7,580.2 L674.0,579.4 L673.3,578.6 L672.6,578.2 L671.9,578.2 L671.2,578.6 L670.5,578.7 L669.8,577.9 L669.1,577.5 L668.4,577.1 L667.7,577.2 L667.0,577.5 L666.3,577.6 L665.6,577.9 L664.9,577.8 L664.2,577.8 L663.5,577.9 L662.8,578.6 L662.1,579.9 L661.4,580.5 L660.7,581.1 L660.0,581.7 L659.3,582.6 L658.6,583.6 L657.9,584.0 L657.2,584.7 L656.5,583.8 L655.8,583.1 L655.1,581.4 L654.4,581.1 L653.7,579.6 L653.0,579.3 L652.3,577.2 L651.6,576.6 L650.9,575.0 L650.2,574.0 L649.5,573.2 L648.8,572.1 L648.1,572.5 L647.4,571.9 L646.7,572.2 L646.0,572.3 L645.3,572.3 L644.6,572.0 L643.9,572.4 L643.2,571.6 L642.5,571.0 L641.8,569.8 L641.1,570.2 L640.4,569.7 L639.7,569.3 L639.0,568.6 L638.3,568.6 L637.6,568.4 L636.9,568.6 L636.2,568.7 L635.5,568.3 L634.8,567.6 L634.1,566.6 L633.4,566.1 L632.7,565.5 L632.0,565.0 L631.3,564.2 L630.6,564.1 L629.9,564.3 L629.2,564.6 L628.5,564.0 L627.8,562.8 L627.1,561.5 L626.4,559.8 L625.7,559.7 L625.0,559.6 L624.3,559.7 L623.6,559.5 L622.9,558.9 L622.2,559.0 L621.5,558.5 L620.8,558.8 L620.1,559.1 L619.4,559.9 L618.7,560.0 L618.0,560.2 L617.3,560.2 L616.6,561.3 L615.9,561.9 L615.2,562.9 L614.5,562.9 L613.8,562.7 L613.1,562.6 L612.4,562.0 L611.7,562.7 L611.0,562.9 L610.3,563.6 L609.6,563.3 L608.9,563.7 L608.2,564.0 L607.5,563.9 L606.8,563.7 L606.1,563.7 L605.4,564.6 L604.7,564.7 L604.0,564.3 L603.3,564.1 L602.6,563.4 L601.9,564.5 L601.2,564.6 L600.5,564.9 L599.8,565.1 L599.1,565.0 L598.4,565.7 L597.7,564.8 L597.0,564.7 L596.3,564.8 L595.6,565.6 L594.9,566.4 L594.2,568.3 L593.5,568.7 L592.8,568.6 L592.1,567.8 L591.4,568.0 L590.7,569.3 L590.0,570.1 L589.3,570.7 L588.6,570.3 L587.9,570.4 L587.2,571.0 L586.5,571.8 L585.8,571.8 L585.1,571.7 L584.4,572.0 L583.7,572.9 L583.0,574.0 L582.3,574.3 L581.6,573.8 L580.9,574.1 L580.2,574.2 L579.5,575.2 L578.8,575.0 L578.1,575.3 L577.4,575.1 L576.7,575.4 L576.0,576.4 L575.3,577.5 L574.6,578.6 L573.9,579.4 L573.2,580.4 L572.5,582.7 L571.8,584.1 L571.1,585.4 L570.4,586.9 L569.7,589.0 L569.0,590.6 L568.3,591.7 L567.6,591.6 L566.9,592.9 L566.2,592.7 L565.5,594.2 L564.8,595.3 L564.1,596.8 L563.4,598.0 L562.7,598.6 L562.0,600.1 L561.3,602.4 L560.6,604.3 L559.9,606.4 L559.2,608.3 L558.5,610.1 L557.8,612.0 L557.1,614.2 L556.4,616.0 L555.7,616.9 L555.0,616.8 L554.3,618.0 L553.6,620.1 L552.9,622.8 L552.2,625.4 L551.5,625.6 L550.8,625.9 L550.1,625.1 L549.4,625.2 L548.7,624.0 L548.0,622.6 L547.3,621.1 L546.6,619.4 L545.9,618.2 L545.2,617.2 L544.5,616.3 L543.8,615.0 L543.1,612.6 L542.4,611.7 L541.7,610.4 L541.0,609.5 L540.3,607.4 L539.6,605.3 L538.9,604.4 L538.2,603.4 L537.5,602.9 L536.8,600.4 L536.1,598.3 L535.4,596.2 L534.7,594.4 L534.0,592.9 L533.3,591.1 L532.6,590.6 L531.9,590.0 L531.2,589.6 L530.5,590.2 L529.8,590.3 L529.1,590.5 L528.4,589.6 L527.7,589.2 L527.0,589.7 L526.3,589.6 L525.6,589.5 L524.9,588.9 L524.2,589.1 L523.5,589.7 L522.8,590.2 L522.1,590.8 L521.4,591.0 L520.7,591.3 L520.0,591.8 L519.3,591.7 L518.6,591.1 L517.9,588.7 L517.2,586.9 L516.5,584.4 L515.8,582.6 L515.1,580.8 L514.4,579.7 L513.7,578.7 L513.0,578.5 L512.3,578.0 L511.6,577.4 L510.9,577.1 L510.2,577.4 L509.5,577.5 L508.8,576.9 L508.1,576.1 L507.4,575.6 L506.7,574.9 L506.0,574.3 L505.3,573.6 L504.6,573.1 L503.9,572.9 L503.2,572.0 L502.5,571.4 L501.8,569.7 L501.1,569.1 L500.4,568.8 L499.7,568.7 L499.0,568.4 L498.3,567.2 L497.6,567.0 L496.9,567.4 L496.2,568.6 L495.5,568.7 L494.8,568.9 L494.1,568.6 L493.4,569.9 L492.7,570.9 L492.0,572.5 L491.3,575.2 L490.6,578.6 L489.9,583.1 L489.2,586.2 L488.5,589.8 L487.8,593.7 L487.1,597.8 L486.4,602.1 L485.7,605.2 L485.0,608.1 L484.3,609.2 L483.6,609.0 L482.9,608.9 L482.2,608.1 L481.5,607.8 L480.8,606.9 L480.1,606.7 L479.4,605.4 L478.7,605.2 L478.0,601.8 L477.3,597.9 L476.6,591.7 L475.9,586.3 L475.2,580.1 L474.5,575.6 L473.8,572.5 L473.1,572.8 L472.4,574.6 L471.7,577.4 L471.0,581.0 L470.3,584.4 L469.6,588.6 L468.9,591.6 L468.2,594.0 L467.5,594.6 L466.8,595.0 L466.1,596.0 L465.4,596.3 L464.7,597.8 L464.0,597.8 L463.3,598.7 L462.6,598.4 L461.9,597.4 L461.2,594.8 L460.5,591.1 L459.8,587.2 L459.1,583.7 L458.4,580.3 L457.7,577.7 L457.0,575.1 L456.3,574.0 L455.6,572.8 L454.9,572.9 L454.2,573.4 L453.5,574.6 L452.8,575.7 L452.1,576.2 L451.4,577.6 L450.7,578.8 L450.0,579.7 L449.3,579.1 L448.6,578.5 L447.9,578.4 L447.2,579.2 L446.5,579.7 L445.8,579.7 L445.1,579.0 L444.4,577.9 L443.7,577.0 L443.0,576.0 L442.3,576.6 L441.6,577.1 L440.9,578.0 L440.2,577.7 L439.5,577.5 L438.8,577.8 L438.1,579.2 L437.4,580.3 L436.7,582.4 L436.0,583.7 L435.3,585.1 L434.6,585.1 L433.9,585.2 L433.2,585.0 L432.5,584.6 L431.8,583.6 L431.1,582.2 L430.4,581.3 L429.7,580.0 L429.0,580.8 L428.3,580.5 L427.6,580.9 L426.9,579.6 L426.2,579.3 L425.5,579.1 L424.8,579.8 L424.1,580.4 L423.4,580.3 L422.7,580.1 L422.0,579.1 L421.3,579.9 L420.6,579.3Z" fill="rgba(110,110,235,0.33)" stroke="none"/>
<path d="M420.6,561.3 L421.3,559.1 L422.0,557.8 L422.7,557.8 L423.4,556.9 L424.1,556.5 L424.8,556.6 L425.5,557.4 L426.2,558.5 L426.9,558.7 L427.6,559.5 L428.3,560.5 L429.0,561.1 L429.7,561.2 L430.4,561.3 L431.1,561.9 L431.8,562.5 L432.5,564.2 L433.2,565.6 L433.9,565.9 L434.6,566.8 L435.3,567.9 L436.0,567.9 L436.7,566.7 L437.4,564.7 L438.1,561.7 L438.8,558.8 L439.5,558.2 L440.2,558.9 L440.9,559.3 L441.6,560.6 L442.3,561.7 L443.0,562.4 L443.7,562.2 L444.4,561.9 L445.1,562.2 L445.8,562.1 L446.5,562.2 L447.2,562.5 L447.9,563.8 L448.6,565.0 L449.3,564.9 L450.0,564.8 L450.7,564.5 L451.4,562.6 L452.1,559.9 L452.8,557.7 L453.5,555.7 L454.2,553.6 L454.9,550.9 L455.6,547.4 L456.3,545.2 L457.0,544.3 L457.7,543.4 L458.4,544.7 L459.1,547.1 L459.8,549.4 L460.5,552.1 L461.2,557.4 L461.9,564.3 L462.6,569.5 L463.3,574.9 L464.0,578.1 L464.7,577.2 L465.4,575.1 L466.1,571.4 L466.8,567.6 L467.5,563.4 L468.2,554.4 L468.9,544.1 L469.6,533.9 L470.3,526.5 L471.0,525.2 L471.7,526.6 L472.4,529.4 L473.1,531.9 L473.8,535.6 L474.5,542.7 L475.2,550.5 L475.9,557.0 L476.6,563.0 L477.3,568.4 L478.0,573.5 L478.7,578.4 L479.4,582.4 L480.1,585.6 L480.8,586.6 L481.5,585.5 L482.2,584.3 L482.9,583.3 L483.6,581.0 L484.3,579.4 L485.0,577.1 L485.7,572.7 L486.4,567.9 L487.1,562.3 L487.8,557.6 L488.5,554.9 L489.2,552.0 L489.9,549.7 L490.6,548.3 L491.3,547.4 L492.0,546.4 L492.7,545.2 L493.4,544.6 L494.1,544.7 L494.8,544.7 L495.5,544.7 L496.2,545.2 L496.9,545.1 L497.6,544.8 L498.3,545.8 L499.0,546.7 L499.7,547.3 L500.4,548.5 L501.1,548.7 L501.8,548.6 L502.5,549.9 L503.2,549.5 L503.9,547.3 L504.6,545.7 L505.3,544.1 L506.0,542.0 L506.7,539.2 L507.4,536.3 L508.1,533.4 L508.8,531.8 L509.5,531.2 L510.2,531.1 L510.9,532.9 L511.6,534.6 L512.3,536.2 L513.0,538.1 L513.7,539.8 L514.4,542.9 L515.1,546.2 L515.8,549.3 L516.5,552.9 L517.2,556.8 L517.9,559.8 L518.6,562.6 L519.3,565.4 L520.0,567.3 L520.7,567.4 L521.4,567.8 L522.1,569.3 L522.8,570.2 L523.5,570.4 L524.2,570.9 L524.9,571.8 L525.6,571.9 L526.3,571.7 L527.0,571.7 L527.7,572.0 L528.4,572.6 L529.1,573.1 L529.8,572.7 L530.5,572.0 L531.2,572.0 L531.9,572.6 L532.6,573.0 L533.3,572.9 L534.0,573.0 L534.7,573.2 L535.4,573.2 L536.1,572.9 L536.8,573.0 L537.5,573.9 L538.2,575.2 L538.9,576.4 L539.6,577.6 L540.3,579.8 L541.0,581.5 L541.7,582.8 L542.4,584.8 L543.1,586.6 L543.8,588.6 L544.5,591.3 L545.2,594.0 L545.9,596.9 L546.6,599.1 L547.3,600.8 L548.0,603.6 L548.7,606.0 L549.4,607.8 L550.1,609.0 L550.8,608.2 L551.5,607.0 L552.2,606.0 L552.9,604.9 L553.6,603.3 L554.3,601.2 L555.0,599.9 L555.7,598.1 L556.4,595.9 L557.1,594.5 L557.8,592.6 L558.5,591.1 L559.2,589.6 L559.9,587.7 L560.6,585.7 L561.3,583.5 L562.0,581.6 L562.7,579.9 L563.4,577.9 L564.1,576.4 L564.8,575.4 L565.5,573.6 L566.2,571.5 L566.9,569.9 L567.6,568.7 L568.3,567.3 L569.0,566.5 L569.7,565.0 L570.4,563.5 L571.1,562.9 L571.8,561.7 L572.5,560.5 L573.2,559.2 L573.9,558.2 L574.6,557.9 L575.3,557.7 L576.0,556.6 L576.7,555.5 L577.4,555.0 L578.1,554.4 L578.8,553.5 L579.5,552.6 L580.2,552.3 L580.9,551.3 L581.6,550.8 L582.3,550.7 L583.0,550.5 L583.7,551.7 L584.4,552.9 L585.1,554.4 L585.8,556.1 L586.5,556.4 L587.2,556.2 L587.9,556.2 L588.6,556.1 L589.3,556.1 L590.0,556.2 L590.7,555.9 L591.4,555.5 L592.1,555.3 L592.8,555.7 L593.5,555.6 L594.2,555.6 L594.9,555.6 L595.6,555.4 L596.3,554.9 L597.0,554.1 L597.7,554.5 L598.4,554.6 L599.1,554.2 L599.8,554.5 L600.5,554.4 L601.2,553.6 L601.9,553.2 L602.6,553.3 L603.3,553.4 L604.0,552.7 L604.7,551.8 L605.4,551.6 L606.1,552.0 L606.8,552.2 L607.5,553.0 L608.2,553.0 L608.9,553.3 L609.6,554.2 L610.3,554.6 L611.0,554.5 L611.7,554.2 L612.4,553.8 L613.1,552.9 L613.8,552.3 L614.5,551.4 L615.2,549.5 L615.9,548.4 L616.6,547.5 L617.3,545.6 L618.0,545.4 L618.7,545.9 L619.4,544.4 L620.1,543.3 L620.8,543.7 L621.5,543.8 L622.2,543.7 L622.9,543.8 L623.6,544.3 L624.3,544.7 L625.0,545.2 L625.7,545.7 L626.4,545.8 L627.1,546.4 L627.8,546.7 L628.5,547.9 L629.2,548.7 L629.9,549.1 L630.6,550.5 L631.3,551.5 L632.0,552.2 L632.7,553.1 L633.4,553.2 L634.1,553.2 L634.8,553.9 L635.5,554.2 L636.2,554.3 L636.9,555.1 L637.6,555.4 L638.3,555.2 L639.0,555.6 L639.7,556.0 L640.4,556.5 L641.1,556.8 L641.8,557.2 L642.5,557.6 L643.2,557.9 L643.9,558.6 L644.6,558.5 L645.3,559.0 L646.0,559.5 L646.7,559.6 L647.4,560.4 L648.1,560.8 L648.8,561.0 L649.5,562.5 L650.2,563.8 L650.9,564.1 L651.6,565.6 L652.3,566.6 L653.0,567.5 L653.7,568.5 L654.4,568.5 L655.1,568.4 L655.8,568.7 L656.5,568.5 L657.2,568.5 L657.9,569.1 L658.6,569.0 L659.3,569.0 L660.0,568.6 L660.7,568.5 L661.4,569.0 L662.1,568.0 L662.8,567.2 L663.5,567.7 L664.2,567.5 L664.9,566.5 L665.6,566.0 L666.3,566.6 L667.0,567.5 L667.7,567.1 L668.4,566.7 L669.1,566.9 L669.8,566.9 L670.5,567.4 L671.2,567.5 L671.9,567.3 L672.6,568.0 L673.3,568.2 L674.0,567.6 L674.7,568.0 L675.4,568.1 L676.1,567.8 L676.8,567.9 L677.5,567.5 L678.2,567.1 L678.9,567.3 L679.6,566.9 L680.3,566.0 L681.0,565.3 L681.7,564.3 L682.4,563.8 L683.1,563.9 L683.8,563.8 L684.5,563.3 L685.2,562.4 L685.9,561.6" fill="none" stroke="#1818d2" stroke-width="1.9" stroke-linejoin="round"/>
<text transform="translate(436.54,385.1) scale(0.8836,1)" font-size="22.965" fill="#000" stroke="#000">P1</text>
<text transform="translate(446.65,449.3) scale(0.8652,1)" font-size="23.256" fill="#000" stroke="#000">N1</text>
<text transform="translate(614.94,372.9) scale(1.0421,1)" font-size="22.238" fill="#000" stroke="#000">12 kHz</text>
<text transform="translate(591.84,462.4) scale(1.1122,1)" font-size="20.640" fill="#000" stroke="#000">95dB SPL</text>
<text transform="translate(424.85,532.8) scale(0.8869,1)" font-size="22.674" fill="#000" stroke="#000">P1</text>
<text transform="translate(434.21,608.4) scale(0.8952,1)" font-size="22.965" fill="#000" stroke="#000">N1</text>
<text transform="translate(578.63,615.2) scale(1.1060,1)" font-size="21.076" fill="#000" stroke="#000">110dB SPL</text>
<text transform="translate(-0.03,711.9) scale(1.0432,1)" font-size="29.506" fill="#000" stroke="#000" font-weight="bold" stroke-width="0.5">D</text>
<line x1="54.9" y1="724" x2="54.9" y2="940.2" stroke="#000" stroke-width="1.8"/>
<line x1="45" y1="939.3" x2="54.9" y2="939.3" stroke="#000" stroke-width="1.8"/>
<line x1="49.4" y1="912.5" x2="54.9" y2="912.5" stroke="#000" stroke-width="1.8"/>
<line x1="45" y1="885.7" x2="54.9" y2="885.7" stroke="#000" stroke-width="1.8"/>
<line x1="49.4" y1="858.9" x2="54.9" y2="858.9" stroke="#000" stroke-width="1.8"/>
<line x1="45" y1="832.1" x2="54.9" y2="832.1" stroke="#000" stroke-width="1.8"/>
<line x1="49.4" y1="805.3" x2="54.9" y2="805.3" stroke="#000" stroke-width="1.8"/>
<line x1="45" y1="778.5" x2="54.9" y2="778.5" stroke="#000" stroke-width="1.8"/>
<line x1="49.4" y1="751.7" x2="54.9" y2="751.7" stroke="#000" stroke-width="1.8"/>
<line x1="45" y1="724.9" x2="54.9" y2="724.9" stroke="#000" stroke-width="1.8"/>
<text transform="translate(30.33,945.9) scale(1.0100,1)" font-size="22.300" fill="#000" stroke="#000">0</text>
<text transform="translate(30.56,892.3) scale(1.0100,1)" font-size="22.300" fill="#000" stroke="#000">1</text>
<text transform="translate(30.6,838.7) scale(1.0100,1)" font-size="22.300" fill="#000" stroke="#000">2</text>
<text transform="translate(30.47,785.1) scale(1.0100,1)" font-size="22.300" fill="#000" stroke="#000">3</text>
<text transform="translate(30.11,731.5) scale(1.0100,1)" font-size="22.300" fill="#000" stroke="#000">4</text>
<line x1="59.6" y1="950.5" x2="311.4" y2="950.5" stroke="#000" stroke-width="1.8"/>
<line x1="60.5" y1="950.5" x2="60.5" y2="960.3" stroke="#000" stroke-width="1.8"/>
<line x1="85.5" y1="950.5" x2="85.5" y2="955.5" stroke="#000" stroke-width="1.8"/>
<line x1="110.5" y1="950.5" x2="110.5" y2="960.3" stroke="#000" stroke-width="1.8"/>
<line x1="135.5" y1="950.5" x2="135.5" y2="955.5" stroke="#000" stroke-width="1.8"/>
<line x1="160.5" y1="950.5" x2="160.5" y2="960.3" stroke="#000" stroke-width="1.8"/>
<line x1="185.5" y1="950.5" x2="185.5" y2="955.5" stroke="#000" stroke-width="1.8"/>
<line x1="210.5" y1="950.5" x2="210.5" y2="960.3" stroke="#000" stroke-width="1.8"/>
<line x1="235.5" y1="950.5" x2="235.5" y2="955.5" stroke="#000" stroke-width="1.8"/>
<line x1="260.5" y1="950.5" x2="260.5" y2="960.3" stroke="#000" stroke-width="1.8"/>
<line x1="285.5" y1="950.5" x2="285.5" y2="955.5" stroke="#000" stroke-width="1.8"/>
<line x1="310.5" y1="950.5" x2="310.5" y2="960.3" stroke="#000" stroke-width="1.8"/>
<text transform="translate(46.94,979.37) scale(1.0100,1)" font-size="22.300" fill="#000" stroke="#000">20</text>
<text transform="translate(97.26,979.37) scale(1.0100,1)" font-size="22.300" fill="#000" stroke="#000">40</text>
<text transform="translate(146.94,979.37) scale(1.0100,1)" font-size="22.300" fill="#000" stroke="#000">60</text>
<text transform="translate(197.01,979.37) scale(1.0100,1)" font-size="22.300" fill="#000" stroke="#000">80</text>
<text transform="translate(240.39,979.37) scale(1.0100,1)" font-size="22.300" fill="#000" stroke="#000">100</text>
<text transform="translate(290.39,979.37) scale(1.0100,1)" font-size="22.300" fill="#000" stroke="#000">120</text>
<text transform="translate(95.35,1002.2) scale(1.1048,1)" font-size="20.930" fill="#000" stroke="#000">Amplitude (dB SPL)</text>
<text transform="translate(18.8,921.59) rotate(-90) scale(1.0707,1)" font-size="21.512" fill="#000" stroke="#000">Wave 1 amp (µV)</text>
<circle cx="223" cy="939" r="6.2" fill="#ee1010" stroke="none" stroke-width="1"/>
<circle cx="235.5" cy="939" r="6.2" fill="#ee1010" stroke="none" stroke-width="1"/>
<circle cx="248" cy="939" r="6.2" fill="#ee1010" stroke="none" stroke-width="1"/>
<circle cx="260.5" cy="939" r="6.2" fill="#ee1010" stroke="none" stroke-width="1"/>
<circle cx="273" cy="939" r="6.2" fill="#ee1010" stroke="none" stroke-width="1"/>
<circle cx="285.5" cy="939" r="6.2" fill="#ee1010" stroke="none" stroke-width="1"/>
<circle cx="298" cy="939" r="6.2" fill="#ee1010" stroke="none" stroke-width="1"/>
<circle cx="310.5" cy="939" r="6.2" fill="#ee1010" stroke="none" stroke-width="1"/>
<path d="M73.0,922.6 L85.5,911.4 L98.0,900.3 L110.5,896.4 L123.0,884.2 L135.5,870.3 L148.0,860.6 L160.5,848.9 L173.0,836.4 L185.5,818.7 L198.0,807.9 L210.5,793.3 L223.0,787.1 L235.5,771.9 L248.0,774.0 L260.5,769.3 L273.0,777.9 L285.5,760.7" fill="none" stroke="#000" stroke-width="2" stroke-linejoin="round"/>
<line x1="73" y1="909.3" x2="73" y2="935" stroke="#000" stroke-width="2"/>
<line x1="67" y1="909.3" x2="79" y2="909.3" stroke="#000" stroke-width="2"/>
<line x1="67" y1="935" x2="79" y2="935" stroke="#000" stroke-width="2"/>
<line x1="85.5" y1="903.5" x2="85.5" y2="920.6" stroke="#000" stroke-width="2"/>
<line x1="79.5" y1="903.5" x2="91.5" y2="903.5" stroke="#000" stroke-width="2"/>
<line x1="79.5" y1="920.6" x2="91.5" y2="920.6" stroke="#000" stroke-width="2"/>
<line x1="98" y1="892.8" x2="98" y2="908.2" stroke="#000" stroke-width="2"/>
<line x1="92" y1="892.8" x2="104" y2="892.8" stroke="#000" stroke-width="2"/>
<line x1="92" y1="908.2" x2="104" y2="908.2" stroke="#000" stroke-width="2"/>
<line x1="110.5" y1="874.6" x2="110.5" y2="917.4" stroke="#000" stroke-width="2"/>
<line x1="104.5" y1="874.6" x2="116.5" y2="874.6" stroke="#000" stroke-width="2"/>
<line x1="104.5" y1="917.4" x2="116.5" y2="917.4" stroke="#000" stroke-width="2"/>
<line x1="123" y1="864.3" x2="123" y2="903.9" stroke="#000" stroke-width="2"/>
<line x1="117" y1="864.3" x2="129" y2="864.3" stroke="#000" stroke-width="2"/>
<line x1="117" y1="903.9" x2="129" y2="903.9" stroke="#000" stroke-width="2"/>
<line x1="135.5" y1="849.3" x2="135.5" y2="891.1" stroke="#000" stroke-width="2"/>
<line x1="129.5" y1="849.3" x2="141.5" y2="849.3" stroke="#000" stroke-width="2"/>
<line x1="129.5" y1="891.1" x2="141.5" y2="891.1" stroke="#000" stroke-width="2"/>
<line x1="148" y1="837.5" x2="148" y2="883.6" stroke="#000" stroke-width="2"/>
<line x1="142" y1="837.5" x2="154" y2="837.5" stroke="#000" stroke-width="2"/>
<line x1="142" y1="883.6" x2="154" y2="883.6" stroke="#000" stroke-width="2"/>
<line x1="160.5" y1="828.5" x2="160.5" y2="869.2" stroke="#000" stroke-width="2"/>
<line x1="154.5" y1="828.5" x2="166.5" y2="828.5" stroke="#000" stroke-width="2"/>
<line x1="154.5" y1="869.2" x2="166.5" y2="869.2" stroke="#000" stroke-width="2"/>
<line x1="173" y1="816.7" x2="173" y2="855.1" stroke="#000" stroke-width="2"/>
<line x1="167" y1="816.7" x2="179" y2="816.7" stroke="#000" stroke-width="2"/>
<line x1="167" y1="855.1" x2="179" y2="855.1" stroke="#000" stroke-width="2"/>
<line x1="185.5" y1="792.2" x2="185.5" y2="844.9" stroke="#000" stroke-width="2"/>
<line x1="179.5" y1="792.2" x2="191.5" y2="792.2" stroke="#000" stroke-width="2"/>
<line x1="179.5" y1="844.9" x2="191.5" y2="844.9" stroke="#000" stroke-width="2"/>
<line x1="198" y1="783.6" x2="198" y2="832.1" stroke="#000" stroke-width="2"/>
<line x1="192" y1="783.6" x2="204" y2="783.6" stroke="#000" stroke-width="2"/>
<line x1="192" y1="832.1" x2="204" y2="832.1" stroke="#000" stroke-width="2"/>
<line x1="210.5" y1="757.9" x2="210.5" y2="828.8" stroke="#000" stroke-width="2"/>
<line x1="204.5" y1="757.9" x2="216.5" y2="757.9" stroke="#000" stroke-width="2"/>
<line x1="204.5" y1="828.8" x2="216.5" y2="828.8" stroke="#000" stroke-width="2"/>
<line x1="223" y1="759.2" x2="223" y2="815.8" stroke="#000" stroke-width="2"/>
<line x1="217" y1="759.2" x2="229" y2="759.2" stroke="#000" stroke-width="2"/>
<line x1="217" y1="815.8" x2="229" y2="815.8" stroke="#000" stroke-width="2"/>
<line x1="235.5" y1="741.9" x2="235.5" y2="802.1" stroke="#000" stroke-width="2"/>
<line x1="229.5" y1="741.9" x2="241.5" y2="741.9" stroke="#000" stroke-width="2"/>
<line x1="229.5" y1="802.1" x2="241.5" y2="802.1" stroke="#000" stroke-width="2"/>
<line x1="248" y1="739.9" x2="248" y2="807.9" stroke="#000" stroke-width="2"/>
<line x1="242" y1="739.9" x2="254" y2="739.9" stroke="#000" stroke-width="2"/>
<line x1="242" y1="807.9" x2="254" y2="807.9" stroke="#000" stroke-width="2"/>
<line x1="260.5" y1="757.1" x2="260.5" y2="782.1" stroke="#000" stroke-width="2"/>
<line x1="254.5" y1="757.1" x2="266.5" y2="757.1" stroke="#000" stroke-width="2"/>
<line x1="254.5" y1="782.1" x2="266.5" y2="782.1" stroke="#000" stroke-width="2"/>
<line x1="273" y1="742.5" x2="273" y2="812.8" stroke="#000" stroke-width="2"/>
<line x1="267" y1="742.5" x2="279" y2="742.5" stroke="#000" stroke-width="2"/>
<line x1="267" y1="812.8" x2="279" y2="812.8" stroke="#000" stroke-width="2"/>
<line x1="285.5" y1="736.5" x2="285.5" y2="784.7" stroke="#000" stroke-width="2"/>
<line x1="279.5" y1="736.5" x2="291.5" y2="736.5" stroke="#000" stroke-width="2"/>
<line x1="279.5" y1="784.7" x2="291.5" y2="784.7" stroke="#000" stroke-width="2"/>
<circle cx="73" cy="922.6" r="6.2" fill="#000" stroke="none" stroke-width="1"/>
<circle cx="85.5" cy="911.4" r="6.2" fill="#000" stroke="none" stroke-width="1"/>
<circle cx="98" cy="900.3" r="6.2" fill="#000" stroke="none" stroke-width="1"/>
<circle cx="110.5" cy="896.4" r="6.2" fill="#000" stroke="none" stroke-width="1"/>
<circle cx="123" cy="884.2" r="6.2" fill="#000" stroke="none" stroke-width="1"/>
<circle cx="135.5" cy="870.3" r="6.2" fill="#000" stroke="none" stroke-width="1"/>
<circle cx="148" cy="860.6" r="6.2" fill="#000" stroke="none" stroke-width="1"/>
<circle cx="160.5" cy="848.9" r="6.2" fill="#000" stroke="none" stroke-width="1"/>
<circle cx="173" cy="836.4" r="6.2" fill="#000" stroke="none" stroke-width="1"/>
<circle cx="185.5" cy="818.7" r="6.2" fill="#000" stroke="none" stroke-width="1"/>
<circle cx="198" cy="807.9" r="6.2" fill="#000" stroke="none" stroke-width="1"/>
<circle cx="210.5" cy="793.3" r="6.2" fill="#000" stroke="none" stroke-width="1"/>
<circle cx="223" cy="787.1" r="6.2" fill="#000" stroke="none" stroke-width="1"/>
<circle cx="235.5" cy="771.9" r="6.2" fill="#000" stroke="none" stroke-width="1"/>
<circle cx="248" cy="774" r="6.2" fill="#000" stroke="none" stroke-width="1"/>
<circle cx="260.5" cy="769.3" r="6.2" fill="#000" stroke="none" stroke-width="1"/>
<circle cx="273" cy="777.9" r="6.2" fill="#000" stroke="none" stroke-width="1"/>
<circle cx="285.5" cy="760.7" r="6.2" fill="#000" stroke="none" stroke-width="1"/>
<path d="M73.0,939.3 L85.5,939.3 L98.0,939.3 L110.5,939.3 L123.0,939.3 L135.5,939.3 L148.0,939.3 L160.5,939.3 L173.0,939.3 L185.5,939.3 L198.0,939.3 L210.5,939.3 L223.0,938.0 L235.5,929.6 L248.0,920.4 L260.5,908.8 L273.0,900.5 L285.5,902.7" fill="none" stroke="#1010ee" stroke-width="2" stroke-linejoin="round"/>
<line x1="235.5" y1="919.8" x2="235.5" y2="939.5" stroke="#1010ee" stroke-width="2"/>
<line x1="229.5" y1="919.8" x2="241.5" y2="919.8" stroke="#1010ee" stroke-width="2"/>
<line x1="229.5" y1="939.5" x2="241.5" y2="939.5" stroke="#1010ee" stroke-width="2"/>
<line x1="248" y1="909.8" x2="248" y2="930.9" stroke="#1010ee" stroke-width="2"/>
<line x1="242" y1="909.8" x2="254" y2="909.8" stroke="#1010ee" stroke-width="2"/>
<line x1="242" y1="930.9" x2="254" y2="930.9" stroke="#1010ee" stroke-width="2"/>
<line x1="260.5" y1="891.6" x2="260.5" y2="926.3" stroke="#1010ee" stroke-width="2"/>
<line x1="254.5" y1="891.6" x2="266.5" y2="891.6" stroke="#1010ee" stroke-width="2"/>
<line x1="254.5" y1="926.3" x2="266.5" y2="926.3" stroke="#1010ee" stroke-width="2"/>
<line x1="273" y1="879.1" x2="273" y2="921.7" stroke="#1010ee" stroke-width="2"/>
<line x1="267" y1="879.1" x2="279" y2="879.1" stroke="#1010ee" stroke-width="2"/>
<line x1="267" y1="921.7" x2="279" y2="921.7" stroke="#1010ee" stroke-width="2"/>
<line x1="285.5" y1="882.7" x2="285.5" y2="922.8" stroke="#1010ee" stroke-width="2"/>
<line x1="279.5" y1="882.7" x2="291.5" y2="882.7" stroke="#1010ee" stroke-width="2"/>
<line x1="279.5" y1="922.8" x2="291.5" y2="922.8" stroke="#1010ee" stroke-width="2"/>
<circle cx="73" cy="939.3" r="6.2" fill="#1010ee" stroke="none" stroke-width="1"/>
<circle cx="85.5" cy="939.3" r="6.2" fill="#1010ee" stroke="none" stroke-width="1"/>
<circle cx="98" cy="939.3" r="6.2" fill="#1010ee" stroke="none" stroke-width="1"/>
<circle cx="110.5" cy="939.3" r="6.2" fill="#1010ee" stroke="none" stroke-width="1"/>
<circle cx="123" cy="939.3" r="6.2" fill="#1010ee" stroke="none" stroke-width="1"/>
<circle cx="135.5" cy="939.3" r="6.2" fill="#1010ee" stroke="none" stroke-width="1"/>
<circle cx="148" cy="939.3" r="6.2" fill="#1010ee" stroke="none" stroke-width="1"/>
<circle cx="160.5" cy="939.3" r="6.2" fill="#1010ee" stroke="none" stroke-width="1"/>
<circle cx="173" cy="939.3" r="6.2" fill="#1010ee" stroke="none" stroke-width="1"/>
<circle cx="185.5" cy="939.3" r="6.2" fill="#1010ee" stroke="none" stroke-width="1"/>
<circle cx="198" cy="939.3" r="6.2" fill="#1010ee" stroke="none" stroke-width="1"/>
<circle cx="210.5" cy="939.3" r="6.2" fill="#1010ee" stroke="none" stroke-width="1"/>
<circle cx="223" cy="938" r="6.2" fill="#1010ee" stroke="none" stroke-width="1"/>
<circle cx="235.5" cy="929.6" r="6.2" fill="#1010ee" stroke="none" stroke-width="1"/>
<circle cx="248" cy="920.4" r="6.2" fill="#1010ee" stroke="none" stroke-width="1"/>
<circle cx="260.5" cy="908.8" r="6.2" fill="#1010ee" stroke="none" stroke-width="1"/>
<circle cx="273" cy="900.5" r="6.2" fill="#1010ee" stroke="none" stroke-width="1"/>
<circle cx="285.5" cy="902.7" r="6.2" fill="#1010ee" stroke="none" stroke-width="1"/>
<text transform="translate(354.12,711.6) scale(1.0045,1)" font-size="28.343" fill="#000" stroke="#000" font-weight="bold" stroke-width="0.5">E</text>
<line x1="423.6" y1="724.8" x2="423.6" y2="939.8" stroke="#000" stroke-width="1.8"/>
<line x1="413.3" y1="938.9" x2="423.6" y2="938.9" stroke="#000" stroke-width="1.8"/>
<line x1="418.8" y1="885.6" x2="423.6" y2="885.6" stroke="#000" stroke-width="1.8"/>
<line x1="413.3" y1="832.3" x2="423.6" y2="832.3" stroke="#000" stroke-width="1.8"/>
<line x1="418.8" y1="779" x2="423.6" y2="779" stroke="#000" stroke-width="1.8"/>
<line x1="413.3" y1="725.7" x2="423.6" y2="725.7" stroke="#000" stroke-width="1.8"/>
<text transform="translate(382.24,945.5) scale(1.0100,1)" font-size="22.300" fill="#000" stroke="#000">1.5</text>
<text transform="translate(382.15,838.9) scale(1.0100,1)" font-size="22.300" fill="#000" stroke="#000">2.0</text>
<text transform="translate(382.24,732.3) scale(1.0100,1)" font-size="22.300" fill="#000" stroke="#000">2.5</text>
<line x1="428.35" y1="950.2" x2="680.4" y2="950.2" stroke="#000" stroke-width="1.8"/>
<line x1="429.25" y1="950.2" x2="429.25" y2="960" stroke="#000" stroke-width="1.8"/>
<line x1="454.27" y1="950.2" x2="454.27" y2="955" stroke="#000" stroke-width="1.8"/>
<line x1="479.3" y1="950.2" x2="479.3" y2="960" stroke="#000" stroke-width="1.8"/>
<line x1="504.32" y1="950.2" x2="504.32" y2="955" stroke="#000" stroke-width="1.8"/>
<line x1="529.35" y1="950.2" x2="529.35" y2="960" stroke="#000" stroke-width="1.8"/>
<line x1="554.38" y1="950.2" x2="554.38" y2="955" stroke="#000" stroke-width="1.8"/>
<line x1="579.4" y1="950.2" x2="579.4" y2="960" stroke="#000" stroke-width="1.8"/>
<line x1="604.42" y1="950.2" x2="604.42" y2="955" stroke="#000" stroke-width="1.8"/>
<line x1="629.45" y1="950.2" x2="629.45" y2="960" stroke="#000" stroke-width="1.8"/>
<line x1="654.47" y1="950.2" x2="654.47" y2="955" stroke="#000" stroke-width="1.8"/>
<line x1="679.5" y1="950.2" x2="679.5" y2="960" stroke="#000" stroke-width="1.8"/>
<text transform="translate(415.69,979.37) scale(1.0100,1)" font-size="22.300" fill="#000" stroke="#000">20</text>
<text transform="translate(466.06,979.37) scale(1.0100,1)" font-size="22.300" fill="#000" stroke="#000">40</text>
<text transform="translate(515.79,979.37) scale(1.0100,1)" font-size="22.300" fill="#000" stroke="#000">60</text>
<text transform="translate(565.91,979.37) scale(1.0100,1)" font-size="22.300" fill="#000" stroke="#000">80</text>
<text transform="translate(609.34,979.37) scale(1.0100,1)" font-size="22.300" fill="#000" stroke="#000">100</text>
<text transform="translate(659.39,979.37) scale(1.0100,1)" font-size="22.300" fill="#000" stroke="#000">120</text>
<text transform="translate(453.35,1002.2) scale(1.1048,1)" font-size="20.930" fill="#000" stroke="#000">Amplitude (dB SPL)</text>
<text transform="translate(373.7,947.5) rotate(-90) scale(1.0786,1)" font-size="22.529" fill="#000" stroke="#000">Wave 1 latency (ms)</text>
<path d="M441.8,754.6 L454.3,781.6 L466.8,803.1 L479.3,816.9 L491.8,832.9 L504.3,845.4 L516.8,862.6 L529.4,868.3 L541.9,877.9 L554.4,885.0 L566.9,892.7 L579.4,897.0 L591.9,902.6 L604.4,906.3 L616.9,910.9 L629.5,917.8 L642.0,918.3 L654.5,927.6" fill="none" stroke="#000" stroke-width="2" stroke-linejoin="round"/>
<line x1="441.76" y1="740.5" x2="441.76" y2="768.1" stroke="#8a8a8a" stroke-width="1.2"/>
<line x1="437.56" y1="740.5" x2="445.96" y2="740.5" stroke="#8a8a8a" stroke-width="1.2"/>
<line x1="437.56" y1="768.1" x2="445.96" y2="768.1" stroke="#8a8a8a" stroke-width="1.2"/>
<line x1="454.27" y1="757.8" x2="454.27" y2="805.4" stroke="#8a8a8a" stroke-width="1.2"/>
<line x1="450.07" y1="757.8" x2="458.47" y2="757.8" stroke="#8a8a8a" stroke-width="1.2"/>
<line x1="450.07" y1="805.4" x2="458.47" y2="805.4" stroke="#8a8a8a" stroke-width="1.2"/>
<line x1="466.79" y1="786" x2="466.79" y2="820.3" stroke="#8a8a8a" stroke-width="1.2"/>
<line x1="462.59" y1="786" x2="470.99" y2="786" stroke="#8a8a8a" stroke-width="1.2"/>
<line x1="462.59" y1="820.3" x2="470.99" y2="820.3" stroke="#8a8a8a" stroke-width="1.2"/>
<line x1="479.3" y1="792.9" x2="479.3" y2="840.4" stroke="#8a8a8a" stroke-width="1.2"/>
<line x1="475.1" y1="792.9" x2="483.5" y2="792.9" stroke="#8a8a8a" stroke-width="1.2"/>
<line x1="475.1" y1="840.4" x2="483.5" y2="840.4" stroke="#8a8a8a" stroke-width="1.2"/>
<line x1="491.81" y1="819.1" x2="491.81" y2="846.6" stroke="#8a8a8a" stroke-width="1.2"/>
<line x1="487.61" y1="819.1" x2="496.01" y2="819.1" stroke="#8a8a8a" stroke-width="1.2"/>
<line x1="487.61" y1="846.6" x2="496.01" y2="846.6" stroke="#8a8a8a" stroke-width="1.2"/>
<line x1="504.32" y1="832.2" x2="504.32" y2="859.1" stroke="#8a8a8a" stroke-width="1.2"/>
<line x1="500.12" y1="832.2" x2="508.52" y2="832.2" stroke="#8a8a8a" stroke-width="1.2"/>
<line x1="500.12" y1="859.1" x2="508.52" y2="859.1" stroke="#8a8a8a" stroke-width="1.2"/>
<line x1="516.84" y1="848.9" x2="516.84" y2="875.6" stroke="#8a8a8a" stroke-width="1.2"/>
<line x1="512.64" y1="848.9" x2="521.04" y2="848.9" stroke="#8a8a8a" stroke-width="1.2"/>
<line x1="512.64" y1="875.6" x2="521.04" y2="875.6" stroke="#8a8a8a" stroke-width="1.2"/>
<line x1="529.35" y1="860.3" x2="529.35" y2="876.3" stroke="#8a8a8a" stroke-width="1.2"/>
<line x1="525.15" y1="860.3" x2="533.55" y2="860.3" stroke="#8a8a8a" stroke-width="1.2"/>
<line x1="525.15" y1="876.3" x2="533.55" y2="876.3" stroke="#8a8a8a" stroke-width="1.2"/>
<line x1="541.86" y1="865.5" x2="541.86" y2="890.5" stroke="#8a8a8a" stroke-width="1.2"/>
<line x1="537.66" y1="865.5" x2="546.06" y2="865.5" stroke="#8a8a8a" stroke-width="1.2"/>
<line x1="537.66" y1="890.5" x2="546.06" y2="890.5" stroke="#8a8a8a" stroke-width="1.2"/>
<line x1="554.38" y1="875.8" x2="554.38" y2="894.1" stroke="#8a8a8a" stroke-width="1.2"/>
<line x1="550.17" y1="875.8" x2="558.58" y2="875.8" stroke="#8a8a8a" stroke-width="1.2"/>
<line x1="550.17" y1="894.1" x2="558.58" y2="894.1" stroke="#8a8a8a" stroke-width="1.2"/>
<line x1="566.89" y1="884.3" x2="566.89" y2="900.3" stroke="#8a8a8a" stroke-width="1.2"/>
<line x1="562.69" y1="884.3" x2="571.09" y2="884.3" stroke="#8a8a8a" stroke-width="1.2"/>
<line x1="562.69" y1="900.3" x2="571.09" y2="900.3" stroke="#8a8a8a" stroke-width="1.2"/>
<line x1="579.4" y1="890" x2="579.4" y2="904.2" stroke="#8a8a8a" stroke-width="1.2"/>
<line x1="575.2" y1="890" x2="583.6" y2="890" stroke="#8a8a8a" stroke-width="1.2"/>
<line x1="575.2" y1="904.2" x2="583.6" y2="904.2" stroke="#8a8a8a" stroke-width="1.2"/>
<line x1="591.91" y1="897.5" x2="591.91" y2="907.5" stroke="#8a8a8a" stroke-width="1.2"/>
<line x1="587.71" y1="897.5" x2="596.11" y2="897.5" stroke="#8a8a8a" stroke-width="1.2"/>
<line x1="587.71" y1="907.5" x2="596.11" y2="907.5" stroke="#8a8a8a" stroke-width="1.2"/>
<line x1="604.42" y1="902" x2="604.42" y2="910.5" stroke="#8a8a8a" stroke-width="1.2"/>
<line x1="600.22" y1="902" x2="608.62" y2="902" stroke="#8a8a8a" stroke-width="1.2"/>
<line x1="600.22" y1="910.5" x2="608.62" y2="910.5" stroke="#8a8a8a" stroke-width="1.2"/>
<line x1="616.94" y1="906" x2="616.94" y2="915.5" stroke="#8a8a8a" stroke-width="1.2"/>
<line x1="612.74" y1="906" x2="621.14" y2="906" stroke="#8a8a8a" stroke-width="1.2"/>
<line x1="612.74" y1="915.5" x2="621.14" y2="915.5" stroke="#8a8a8a" stroke-width="1.2"/>
<line x1="629.45" y1="915" x2="629.45" y2="920.5" stroke="#8a8a8a" stroke-width="1.2"/>
<line x1="625.25" y1="915" x2="633.65" y2="915" stroke="#8a8a8a" stroke-width="1.2"/>
<line x1="625.25" y1="920.5" x2="633.65" y2="920.5" stroke="#8a8a8a" stroke-width="1.2"/>
<line x1="641.96" y1="914" x2="641.96" y2="922.5" stroke="#8a8a8a" stroke-width="1.2"/>
<line x1="637.76" y1="914" x2="646.16" y2="914" stroke="#8a8a8a" stroke-width="1.2"/>
<line x1="637.76" y1="922.5" x2="646.16" y2="922.5" stroke="#8a8a8a" stroke-width="1.2"/>
<line x1="654.47" y1="925" x2="654.47" y2="930" stroke="#8a8a8a" stroke-width="1.2"/>
<line x1="650.27" y1="925" x2="658.67" y2="925" stroke="#8a8a8a" stroke-width="1.2"/>
<line x1="650.27" y1="930" x2="658.67" y2="930" stroke="#8a8a8a" stroke-width="1.2"/>
<circle cx="441.76" cy="754.6" r="6.2" fill="#000" stroke="none" stroke-width="1"/>
<circle cx="454.27" cy="781.6" r="6.2" fill="#000" stroke="none" stroke-width="1"/>
<circle cx="466.79" cy="803.1" r="6.2" fill="#000" stroke="none" stroke-width="1"/>
<circle cx="479.3" cy="816.9" r="6.2" fill="#000" stroke="none" stroke-width="1"/>
<circle cx="491.81" cy="832.9" r="6.2" fill="#000" stroke="none" stroke-width="1"/>
<circle cx="504.32" cy="845.4" r="6.2" fill="#000" stroke="none" stroke-width="1"/>
<circle cx="516.84" cy="862.6" r="6.2" fill="#000" stroke="none" stroke-width="1"/>
<circle cx="529.35" cy="868.3" r="6.2" fill="#000" stroke="none" stroke-width="1"/>
<circle cx="541.86" cy="877.9" r="6.2" fill="#000" stroke="none" stroke-width="1"/>
<circle cx="554.38" cy="885" r="6.2" fill="#000" stroke="none" stroke-width="1"/>
<circle cx="566.89" cy="892.7" r="6.2" fill="#000" stroke="none" stroke-width="1"/>
<circle cx="579.4" cy="897" r="6.2" fill="#000" stroke="none" stroke-width="1"/>
<circle cx="591.91" cy="902.6" r="6.2" fill="#000" stroke="none" stroke-width="1"/>
<circle cx="604.42" cy="906.3" r="6.2" fill="#000" stroke="none" stroke-width="1"/>
<circle cx="616.94" cy="910.9" r="6.2" fill="#000" stroke="none" stroke-width="1"/>
<circle cx="629.45" cy="917.8" r="6.2" fill="#000" stroke="none" stroke-width="1"/>
<circle cx="641.96" cy="918.3" r="6.2" fill="#000" stroke="none" stroke-width="1"/>
<circle cx="654.47" cy="927.6" r="6.2" fill="#000" stroke="none" stroke-width="1"/>
<path d="M604.4,818.6 L616.9,841.8 L629.5,860.2 L642.0,878.4 L654.5,892.3" fill="none" stroke="#1010ee" stroke-width="2" stroke-linejoin="round"/>
<line x1="591.91" y1="815.3" x2="591.91" y2="827.9" stroke="#1010ee" stroke-width="2"/>
<line x1="585.91" y1="815.3" x2="597.91" y2="815.3" stroke="#1010ee" stroke-width="2"/>
<line x1="585.91" y1="827.9" x2="597.91" y2="827.9" stroke="#1010ee" stroke-width="2"/>
<line x1="604.42" y1="797.3" x2="604.42" y2="840" stroke="#1010ee" stroke-width="2"/>
<line x1="598.42" y1="797.3" x2="610.42" y2="797.3" stroke="#1010ee" stroke-width="2"/>
<line x1="598.42" y1="840" x2="610.42" y2="840" stroke="#1010ee" stroke-width="2"/>
<line x1="616.94" y1="824.6" x2="616.94" y2="859.5" stroke="#1010ee" stroke-width="2"/>
<line x1="610.94" y1="824.6" x2="622.94" y2="824.6" stroke="#1010ee" stroke-width="2"/>
<line x1="610.94" y1="859.5" x2="622.94" y2="859.5" stroke="#1010ee" stroke-width="2"/>
<line x1="629.45" y1="844.1" x2="629.45" y2="876.6" stroke="#1010ee" stroke-width="2"/>
<line x1="623.45" y1="844.1" x2="635.45" y2="844.1" stroke="#1010ee" stroke-width="2"/>
<line x1="623.45" y1="876.6" x2="635.45" y2="876.6" stroke="#1010ee" stroke-width="2"/>
<line x1="641.96" y1="863.2" x2="641.96" y2="894.2" stroke="#1010ee" stroke-width="2"/>
<line x1="635.96" y1="863.2" x2="647.96" y2="863.2" stroke="#1010ee" stroke-width="2"/>
<line x1="635.96" y1="894.2" x2="647.96" y2="894.2" stroke="#1010ee" stroke-width="2"/>
<line x1="654.47" y1="873.8" x2="654.47" y2="911.5" stroke="#1010ee" stroke-width="2"/>
<line x1="648.47" y1="873.8" x2="660.47" y2="873.8" stroke="#1010ee" stroke-width="2"/>
<line x1="648.47" y1="911.5" x2="660.47" y2="911.5" stroke="#1010ee" stroke-width="2"/>
<circle cx="591.91" cy="822.3" r="6.2" fill="#1010ee" stroke="none" stroke-width="1"/>
<circle cx="604.42" cy="818.6" r="6.2" fill="#1010ee" stroke="none" stroke-width="1"/>
<circle cx="616.94" cy="841.8" r="6.2" fill="#1010ee" stroke="none" stroke-width="1"/>
<circle cx="629.45" cy="860.2" r="6.2" fill="#1010ee" stroke="none" stroke-width="1"/>
<circle cx="641.96" cy="878.4" r="6.2" fill="#1010ee" stroke="none" stroke-width="1"/>
<circle cx="654.47" cy="892.3" r="6.2" fill="#1010ee" stroke="none" stroke-width="1"/>
</svg></body></html>
